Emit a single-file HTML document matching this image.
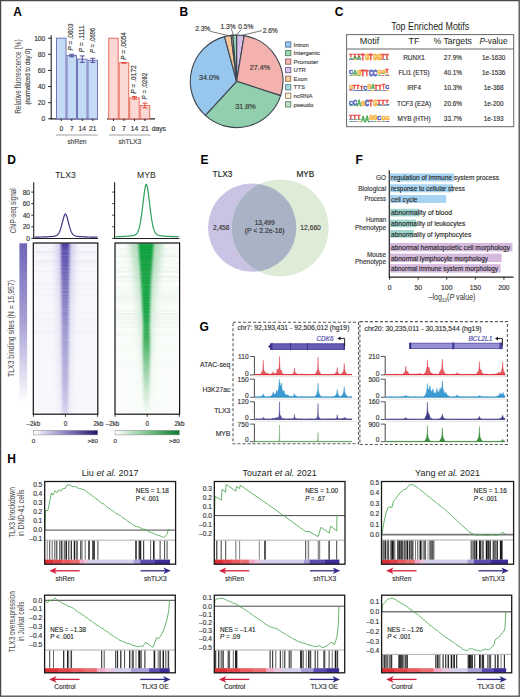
<!DOCTYPE html>
<html><head><meta charset="utf-8"><style>
html,body{margin:0;padding:0;background:#fff;width:520px;height:697px;overflow:hidden}
svg{display:block;font-family:"Liberation Sans", sans-serif}
</style></head><body>
<svg width="520" height="697" viewBox="0 0 520 697">
<rect width="520" height="697" fill="#fff"/>
<text x="13.3" y="16.4" font-size="12" text-anchor="start" fill="#000" font-weight="bold" font-style="normal">A</text>
<text x="179.5" y="16.4" font-size="12" text-anchor="start" fill="#000" font-weight="bold" font-style="normal">B</text>
<text x="334.8" y="16.4" font-size="12" text-anchor="start" fill="#000" font-weight="bold" font-style="normal">C</text>
<text x="7.2" y="164.3" font-size="12" text-anchor="start" fill="#000" font-weight="bold" font-style="normal">D</text>
<text x="200.5" y="163.8" font-size="12" text-anchor="start" fill="#000" font-weight="bold" font-style="normal">E</text>
<text x="355.5" y="163.8" font-size="12" text-anchor="start" fill="#000" font-weight="bold" font-style="normal">F</text>
<text x="199.6" y="331.3" font-size="12" text-anchor="start" fill="#000" font-weight="bold" font-style="normal">G</text>
<text x="7.2" y="463" font-size="12" text-anchor="start" fill="#000" font-weight="bold" font-style="normal">H</text>
<line x1="51.2" y1="35.2" x2="51.2" y2="119.2" stroke="#231f20" stroke-width="1.1"/>
<line x1="48.2" y1="118.8" x2="51.2" y2="118.8" stroke="#231f20" stroke-width="1"/>
<text x="45.3" y="121.2" font-size="6.7" text-anchor="end" fill="#333" font-weight="normal" font-style="normal" stroke="#333" stroke-width="0.15">0</text>
<line x1="48.2" y1="102.67999999999999" x2="51.2" y2="102.67999999999999" stroke="#231f20" stroke-width="1"/>
<text x="45.3" y="105.08" font-size="6.7" text-anchor="end" fill="#333" font-weight="normal" font-style="normal" stroke="#333" stroke-width="0.15">20</text>
<line x1="48.2" y1="86.56" x2="51.2" y2="86.56" stroke="#231f20" stroke-width="1"/>
<text x="45.3" y="88.96000000000001" font-size="6.7" text-anchor="end" fill="#333" font-weight="normal" font-style="normal" stroke="#333" stroke-width="0.15">40</text>
<line x1="48.2" y1="70.44" x2="51.2" y2="70.44" stroke="#231f20" stroke-width="1"/>
<text x="45.3" y="72.84" font-size="6.7" text-anchor="end" fill="#333" font-weight="normal" font-style="normal" stroke="#333" stroke-width="0.15">60</text>
<line x1="48.2" y1="54.31999999999999" x2="51.2" y2="54.31999999999999" stroke="#231f20" stroke-width="1"/>
<text x="45.3" y="56.71999999999999" font-size="6.7" text-anchor="end" fill="#333" font-weight="normal" font-style="normal" stroke="#333" stroke-width="0.15">80</text>
<line x1="48.2" y1="38.19999999999999" x2="51.2" y2="38.19999999999999" stroke="#231f20" stroke-width="1"/>
<text x="45.3" y="40.59999999999999" font-size="6.7" text-anchor="end" fill="#333" font-weight="normal" font-style="normal" stroke="#333" stroke-width="0.15">100</text>
<text x="21.2" y="76.6" font-size="9.0" text-anchor="middle" fill="#444" font-weight="normal" font-style="normal" transform="rotate(-90 21.2 76.6)" textLength="74.5" lengthAdjust="spacingAndGlyphs">Relative fluorescence (%)</text>
<text x="30.4" y="76.6" font-size="7.4" text-anchor="middle" fill="#444" font-weight="normal" font-style="normal" transform="rotate(-90 30.4 76.6)" textLength="56" lengthAdjust="spacingAndGlyphs" stroke="#444" stroke-width="0.15">(normalized to day 0)</text>
<line x1="50.6" y1="118.9" x2="98" y2="118.9" stroke="#231f20" stroke-width="1.3"/>
<line x1="107" y1="118.9" x2="155" y2="118.9" stroke="#231f20" stroke-width="1.3"/>
<rect x="56.5" y="38.19999999999999" width="9.5" height="80.60000000000001" fill="#c4dbf5" stroke="#7674bb" stroke-width="1.0"/>
<rect x="67.0" y="55.528999999999996" width="9.5" height="63.271" fill="#c4dbf5" stroke="#7674bb" stroke-width="1.0"/>
<line x1="71.75" y1="54.31999999999999" x2="71.75" y2="56.73799999999999" stroke="#4f4c99" stroke-width="1"/>
<line x1="69.25" y1="54.31999999999999" x2="74.25" y2="54.31999999999999" stroke="#4f4c99" stroke-width="1"/>
<line x1="69.25" y1="56.73799999999999" x2="74.25" y2="56.73799999999999" stroke="#4f4c99" stroke-width="1"/>
<rect x="77.5" y="59.15599999999999" width="9.5" height="59.644000000000005" fill="#c4dbf5" stroke="#7674bb" stroke-width="1.0"/>
<line x1="82.25" y1="55.931999999999995" x2="82.25" y2="62.379999999999995" stroke="#4f4c99" stroke-width="1"/>
<line x1="79.75" y1="55.931999999999995" x2="84.75" y2="55.931999999999995" stroke="#4f4c99" stroke-width="1"/>
<line x1="79.75" y1="62.379999999999995" x2="84.75" y2="62.379999999999995" stroke="#4f4c99" stroke-width="1"/>
<rect x="88.0" y="60.364999999999995" width="9.5" height="58.435" fill="#c4dbf5" stroke="#7674bb" stroke-width="1.0"/>
<line x1="92.75" y1="58.349999999999994" x2="92.75" y2="62.379999999999995" stroke="#4f4c99" stroke-width="1"/>
<line x1="90.25" y1="58.349999999999994" x2="95.25" y2="58.349999999999994" stroke="#4f4c99" stroke-width="1"/>
<line x1="90.25" y1="62.379999999999995" x2="95.25" y2="62.379999999999995" stroke="#4f4c99" stroke-width="1"/>
<rect x="108.7" y="38.19999999999999" width="9.5" height="80.60000000000001" fill="#fcd8d4" stroke="#ea7060" stroke-width="1.0"/>
<rect x="119.2" y="62.782999999999994" width="9.5" height="56.017" fill="#fcd8d4" stroke="#ea7060" stroke-width="1.0"/>
<line x1="123.95" y1="62.46059999999999" x2="123.95" y2="63.105399999999996" stroke="#d94a3a" stroke-width="1"/>
<line x1="121.45" y1="62.46059999999999" x2="126.45" y2="62.46059999999999" stroke="#d94a3a" stroke-width="1"/>
<line x1="121.45" y1="63.105399999999996" x2="126.45" y2="63.105399999999996" stroke="#d94a3a" stroke-width="1"/>
<rect x="129.7" y="97.844" width="9.5" height="20.956000000000003" fill="#fcd8d4" stroke="#ea7060" stroke-width="1.0"/>
<line x1="134.45" y1="96.63499999999999" x2="134.45" y2="99.053" stroke="#d94a3a" stroke-width="1"/>
<line x1="131.95" y1="96.63499999999999" x2="136.95" y2="96.63499999999999" stroke="#d94a3a" stroke-width="1"/>
<line x1="131.95" y1="99.053" x2="136.95" y2="99.053" stroke="#d94a3a" stroke-width="1"/>
<rect x="140.2" y="105.50099999999999" width="9.5" height="13.299000000000007" fill="#fcd8d4" stroke="#ea7060" stroke-width="1.0"/>
<line x1="144.95" y1="103.083" x2="144.95" y2="107.919" stroke="#d94a3a" stroke-width="1"/>
<line x1="142.45" y1="103.083" x2="147.45" y2="103.083" stroke="#d94a3a" stroke-width="1"/>
<line x1="142.45" y1="107.919" x2="147.45" y2="107.919" stroke="#d94a3a" stroke-width="1"/>
<line x1="61.25" y1="118.9" x2="61.25" y2="121" stroke="#231f20" stroke-width="1"/>
<line x1="113.45" y1="118.9" x2="113.45" y2="121" stroke="#231f20" stroke-width="1"/>
<line x1="71.75" y1="118.9" x2="71.75" y2="121" stroke="#231f20" stroke-width="1"/>
<line x1="123.95" y1="118.9" x2="123.95" y2="121" stroke="#231f20" stroke-width="1"/>
<line x1="82.25" y1="118.9" x2="82.25" y2="121" stroke="#231f20" stroke-width="1"/>
<line x1="134.45" y1="118.9" x2="134.45" y2="121" stroke="#231f20" stroke-width="1"/>
<line x1="92.75" y1="118.9" x2="92.75" y2="121" stroke="#231f20" stroke-width="1"/>
<line x1="144.95" y1="118.9" x2="144.95" y2="121" stroke="#231f20" stroke-width="1"/>
<text x="61.25" y="130.8" font-size="6.7" text-anchor="middle" fill="#333" font-weight="normal" font-style="normal" stroke="#333" stroke-width="0.15">0</text>
<text x="113.45" y="130.8" font-size="6.7" text-anchor="middle" fill="#333" font-weight="normal" font-style="normal" stroke="#333" stroke-width="0.15">0</text>
<text x="71.75" y="130.8" font-size="6.7" text-anchor="middle" fill="#333" font-weight="normal" font-style="normal" stroke="#333" stroke-width="0.15">7</text>
<text x="123.95" y="130.8" font-size="6.7" text-anchor="middle" fill="#333" font-weight="normal" font-style="normal" stroke="#333" stroke-width="0.15">7</text>
<text x="82.25" y="130.8" font-size="6.7" text-anchor="middle" fill="#333" font-weight="normal" font-style="normal" stroke="#333" stroke-width="0.15">14</text>
<text x="134.45" y="130.8" font-size="6.7" text-anchor="middle" fill="#333" font-weight="normal" font-style="normal" stroke="#333" stroke-width="0.15">14</text>
<text x="92.75" y="130.8" font-size="6.7" text-anchor="middle" fill="#333" font-weight="normal" font-style="normal" stroke="#333" stroke-width="0.15">21</text>
<text x="144.95" y="130.8" font-size="6.7" text-anchor="middle" fill="#333" font-weight="normal" font-style="normal" stroke="#333" stroke-width="0.15">21</text>
<text x="151.8" y="130.8" font-size="6.6" text-anchor="start" fill="#333" font-weight="normal" font-style="normal" stroke="#333" stroke-width="0.15">days</text>
<line x1="56" y1="135" x2="97.7" y2="135" stroke="#888" stroke-width="0.8"/>
<line x1="109" y1="135" x2="150.5" y2="135" stroke="#888" stroke-width="0.8"/>
<text x="77" y="143.8" font-size="6.6" text-anchor="middle" fill="#444" font-weight="normal" font-style="normal" stroke="#444" stroke-width="0.15">shRen</text>
<text x="129.8" y="143.8" font-size="6.6" text-anchor="middle" fill="#444" font-weight="normal" font-style="normal" stroke="#444" stroke-width="0.15">shTLX3</text>
<text transform="translate(73.4 50.5) rotate(-90)" font-size="6.9" fill="#333" textLength="27" lengthAdjust="spacingAndGlyphs" stroke="#333" stroke-width="0.15"><tspan font-style="italic">P</tspan> = .0603</text>
<text transform="translate(83.9 52.3) rotate(-90)" font-size="6.9" fill="#333" textLength="27" lengthAdjust="spacingAndGlyphs" stroke="#333" stroke-width="0.15"><tspan font-style="italic">P</tspan> = .1111</text>
<text transform="translate(94.5 52.9) rotate(-90)" font-size="6.9" fill="#333" textLength="25" lengthAdjust="spacingAndGlyphs" stroke="#333" stroke-width="0.15"><tspan font-style="italic">P</tspan> = .0696</text>
<text transform="translate(125.9 59.7) rotate(-90)" font-size="6.9" fill="#333" textLength="27.5" lengthAdjust="spacingAndGlyphs" stroke="#333" stroke-width="0.15"><tspan font-style="italic">P</tspan> = .0054</text>
<text transform="translate(136.29999999999998 93.7) rotate(-90)" font-size="6.9" fill="#333" textLength="28.5" lengthAdjust="spacingAndGlyphs" stroke="#333" stroke-width="0.15"><tspan font-style="italic">P</tspan> = .0172</text>
<text transform="translate(146.7 99.4) rotate(-90)" font-size="6.9" fill="#333" textLength="26.5" lengthAdjust="spacingAndGlyphs" stroke="#333" stroke-width="0.15"><tspan font-style="italic">P</tspan> = .0262</text>
<path d="M236.6,81.3 L236.60,35.00 A46.3,46.3 0 0 1 244.13,35.62 Z" fill="#d9bfe8" stroke="#3c4650" stroke-width="1.1" stroke-linejoin="round"/>
<path d="M236.6,81.3 L244.13,35.62 A46.3,46.3 0 0 1 280.63,95.61 Z" fill="#f4b2ae" stroke="#3c4650" stroke-width="1.1" stroke-linejoin="round"/>
<path d="M236.6,81.3 L280.63,95.61 A46.3,46.3 0 0 1 205.33,115.45 Z" fill="#92cfae" stroke="#3c4650" stroke-width="1.1" stroke-linejoin="round"/>
<path d="M236.6,81.3 L205.33,115.45 A46.3,46.3 0 0 1 224.52,36.60 Z" fill="#98c7ee" stroke="#3c4650" stroke-width="1.1" stroke-linejoin="round"/>
<path d="M236.6,81.3 L224.52,36.60 A46.3,46.3 0 0 1 231.09,35.33 Z" fill="#f7c79a" stroke="#3c4650" stroke-width="1.1" stroke-linejoin="round"/>
<path d="M236.6,81.3 L231.09,35.33 A46.3,46.3 0 0 1 232.82,35.15 Z" fill="#fcf0d2" stroke="#3c4650" stroke-width="1.1" stroke-linejoin="round"/>
<path d="M236.6,81.3 L232.82,35.15 A46.3,46.3 0 0 1 236.60,35.00 Z" fill="#92cfae" stroke="#3c4650" stroke-width="1.1" stroke-linejoin="round"/>
<text x="224.1" y="62.10000000000001" font-size="1" text-anchor="start" fill="#231f20" font-weight="normal" font-style="normal" stroke="#231f20" stroke-width="0.15"></text>
<text x="225.0" y="72.3" font-size="1" text-anchor="start" fill="#231f20" font-weight="normal" font-style="normal" stroke="#231f20" stroke-width="0.15"></text>
<text x="260.0" y="70.2" font-size="7.2" text-anchor="middle" fill="#333" font-weight="normal" font-style="normal" stroke="#333" stroke-width="0.15">27.4%</text>
<text x="209.3" y="80.3" font-size="7.2" text-anchor="middle" fill="#333" font-weight="normal" font-style="normal" stroke="#333" stroke-width="0.15">34.0%</text>
<text x="245.5" y="109.4" font-size="7.2" text-anchor="middle" fill="#333" font-weight="normal" font-style="normal" stroke="#333" stroke-width="0.15">31.8%</text>
<text x="202.7" y="31.2" font-size="6.6" text-anchor="middle" fill="#333" font-weight="normal" font-style="normal" stroke="#333" stroke-width="0.15">2.3%</text>
<text x="228.0" y="28.9" font-size="6.6" text-anchor="middle" fill="#333" font-weight="normal" font-style="normal" stroke="#333" stroke-width="0.15">1.3%</text>
<text x="245.8" y="28.9" font-size="6.6" text-anchor="middle" fill="#333" font-weight="normal" font-style="normal" stroke="#333" stroke-width="0.15">0.5%</text>
<text x="262.7" y="32.8" font-size="6.6" text-anchor="start" fill="#333" font-weight="normal" font-style="normal" stroke="#333" stroke-width="0.15">2.6%</text>
<line x1="209.6" y1="31.2" x2="228.5" y2="35.6" stroke="#555" stroke-width="0.8"/>
<line x1="231.4" y1="29.2" x2="233.6" y2="35.5" stroke="#555" stroke-width="0.8"/>
<line x1="241.2" y1="29.6" x2="235.9" y2="35.5" stroke="#555" stroke-width="0.8"/>
<line x1="262.0" y1="30.6" x2="241.5" y2="35.4" stroke="#555" stroke-width="0.8"/>
<rect x="285.6" y="41.9" width="5.2" height="5.2" fill="#9ecbf1" stroke="#4f6f9a" stroke-width="0.9"/>
<text x="293.6" y="46.7" font-size="6.0" text-anchor="start" fill="#444" font-weight="normal" font-style="normal" stroke="#444" stroke-width="0.15">Intron</text>
<rect x="285.6" y="50.449999999999996" width="5.2" height="5.2" fill="#a3d8b3" stroke="#4f7f60" stroke-width="0.9"/>
<text x="293.6" y="55.25" font-size="6.0" text-anchor="start" fill="#444" font-weight="normal" font-style="normal" stroke="#444" stroke-width="0.15">Intergenic</text>
<rect x="285.6" y="59.0" width="5.2" height="5.2" fill="#f6b8b3" stroke="#8f5f5f" stroke-width="0.9"/>
<text x="293.6" y="63.800000000000004" font-size="6.0" text-anchor="start" fill="#444" font-weight="normal" font-style="normal" stroke="#444" stroke-width="0.15">Promoter</text>
<rect x="285.6" y="67.55000000000001" width="5.2" height="5.2" fill="#dcc3ea" stroke="#6f5f8a" stroke-width="0.9"/>
<text x="293.6" y="72.35000000000001" font-size="6.0" text-anchor="start" fill="#444" font-weight="normal" font-style="normal" stroke="#444" stroke-width="0.15">UTR</text>
<rect x="285.6" y="76.10000000000001" width="5.2" height="5.2" fill="#f8cba0" stroke="#8f7050" stroke-width="0.9"/>
<text x="293.6" y="80.9" font-size="6.0" text-anchor="start" fill="#444" font-weight="normal" font-style="normal" stroke="#444" stroke-width="0.15">Exon</text>
<rect x="285.6" y="84.65" width="5.2" height="5.2" fill="#a9dbe0" stroke="#4f7f85" stroke-width="0.9"/>
<text x="293.6" y="89.45" font-size="6.0" text-anchor="start" fill="#444" font-weight="normal" font-style="normal" stroke="#444" stroke-width="0.15">TTS</text>
<rect x="285.6" y="93.20000000000002" width="5.2" height="5.2" fill="#fdf1d6" stroke="#8f8060" stroke-width="0.9"/>
<text x="293.6" y="98.00000000000001" font-size="6.0" text-anchor="start" fill="#444" font-weight="normal" font-style="normal" stroke="#444" stroke-width="0.15">ncRNA</text>
<rect x="285.6" y="101.75000000000001" width="5.2" height="5.2" fill="#bfe3c8" stroke="#5f7f65" stroke-width="0.9"/>
<text x="293.6" y="106.55000000000001" font-size="6.0" text-anchor="start" fill="#444" font-weight="normal" font-style="normal" stroke="#444" stroke-width="0.15">pseudo</text>
<text x="430.2" y="29.8" font-size="10.0" text-anchor="middle" fill="#231f20" font-weight="normal" font-style="normal" textLength="78" lengthAdjust="spacingAndGlyphs">Top Enriched Motifs</text>
<rect x="346.6" y="34.6" width="167.1" height="92.1" fill="none" stroke="#666" stroke-width="1.0"/>
<line x1="346.6" y1="49.0" x2="513.7" y2="49.0" stroke="#666" stroke-width="1.0"/>
<text x="369.6" y="44.2" font-size="9" text-anchor="middle" fill="#231f20" font-weight="normal" font-style="normal">Motif</text>
<text x="414.0" y="44.2" font-size="9" text-anchor="middle" fill="#231f20" font-weight="normal" font-style="normal">TF</text>
<text x="452.7" y="44.2" font-size="9" text-anchor="middle" fill="#231f20" font-weight="normal" font-style="normal" textLength="38.5" lengthAdjust="spacingAndGlyphs">% Targets</text>
<text x="493.5" y="44.2" font-size="9" text-anchor="middle" fill="#231f20" textLength="28" lengthAdjust="spacingAndGlyphs"><tspan font-style="italic">P</tspan>-value</text>
<text x="414.1" y="59.7" font-size="6.4" text-anchor="middle" fill="#333" font-weight="normal" font-style="normal" stroke="#333" stroke-width="0.15">RUNX1</text>
<text x="452.9" y="59.7" font-size="6.4" text-anchor="middle" fill="#333" font-weight="normal" font-style="normal" stroke="#333" stroke-width="0.15">27.9%</text>
<text x="493.7" y="59.7" font-size="6.4" text-anchor="middle" fill="#333" font-weight="normal" font-style="normal" stroke="#333" stroke-width="0.15">1e-1630</text>
<text transform="translate(349.00 60.40) scale(0.574 0.205)" font-size="10" font-weight="bold" fill="#2d3fb0" stroke="#2d3fb0" stroke-width="0.9" opacity="0.82">C</text>
<text transform="translate(349.00 58.90) scale(0.574 0.247)" font-size="10" font-weight="bold" fill="#2f9e3f" stroke="#2f9e3f" stroke-width="0.9" opacity="0.82">A</text>
<text transform="translate(349.00 57.10) scale(0.574 0.356)" font-size="10" font-weight="bold" fill="#e1261c" stroke="#e1261c" stroke-width="0.9" opacity="0.82">T</text>
<text transform="translate(353.02 60.40) scale(0.574 0.164)" font-size="10" font-weight="bold" fill="#f2a21c" stroke="#f2a21c" stroke-width="0.9" opacity="0.82">G</text>
<text transform="translate(353.02 59.20) scale(0.574 0.274)" font-size="10" font-weight="bold" fill="#2f9e3f" stroke="#2f9e3f" stroke-width="0.9" opacity="0.82">A</text>
<text transform="translate(353.02 57.20) scale(0.574 0.384)" font-size="10" font-weight="bold" fill="#e1261c" stroke="#e1261c" stroke-width="0.9" opacity="0.82">T</text>
<text transform="translate(357.04 60.40) scale(0.574 0.137)" font-size="10" font-weight="bold" fill="#2d3fb0" stroke="#2d3fb0" stroke-width="0.9" opacity="0.82">C</text>
<text transform="translate(357.04 59.40) scale(0.574 0.301)" font-size="10" font-weight="bold" fill="#2f9e3f" stroke="#2f9e3f" stroke-width="0.9" opacity="0.82">A</text>
<text transform="translate(357.04 57.20) scale(0.574 0.411)" font-size="10" font-weight="bold" fill="#e1261c" stroke="#e1261c" stroke-width="0.9" opacity="0.82">T</text>
<text transform="translate(361.06 60.40) scale(0.574 0.932)" font-size="10" font-weight="bold" fill="#e1261c" stroke="#e1261c" stroke-width="0.9" opacity="0.82">T</text>
<text transform="translate(365.08 60.40) scale(0.574 0.904)" font-size="10" font-weight="bold" fill="#f2a21c" stroke="#f2a21c" stroke-width="0.9" opacity="0.82">G</text>
<text transform="translate(369.10 60.40) scale(0.574 0.932)" font-size="10" font-weight="bold" fill="#e1261c" stroke="#e1261c" stroke-width="0.9" opacity="0.82">T</text>
<text transform="translate(373.12 60.40) scale(0.574 0.904)" font-size="10" font-weight="bold" fill="#f2a21c" stroke="#f2a21c" stroke-width="0.9" opacity="0.82">G</text>
<text transform="translate(377.14 60.40) scale(0.574 0.877)" font-size="10" font-weight="bold" fill="#f2a21c" stroke="#f2a21c" stroke-width="0.9" opacity="0.82">G</text>
<text transform="translate(381.16 60.40) scale(0.574 0.164)" font-size="10" font-weight="bold" fill="#2d3fb0" stroke="#2d3fb0" stroke-width="0.9" opacity="0.82">C</text>
<text transform="translate(381.16 59.20) scale(0.574 0.740)" font-size="10" font-weight="bold" fill="#e1261c" stroke="#e1261c" stroke-width="0.9" opacity="0.82">T</text>
<text transform="translate(385.18 60.40) scale(0.574 0.192)" font-size="10" font-weight="bold" fill="#2f9e3f" stroke="#2f9e3f" stroke-width="0.9" opacity="0.82">A</text>
<text transform="translate(385.18 59.00) scale(0.574 0.712)" font-size="10" font-weight="bold" fill="#e1261c" stroke="#e1261c" stroke-width="0.9" opacity="0.82">T</text>
<text x="414.1" y="75.0" font-size="6.4" text-anchor="middle" fill="#333" font-weight="normal" font-style="normal" stroke="#333" stroke-width="0.15">FLI1 (ETS)</text>
<text x="452.9" y="75.0" font-size="6.4" text-anchor="middle" fill="#333" font-weight="normal" font-style="normal" stroke="#333" stroke-width="0.15">40.1%</text>
<text x="493.7" y="75.0" font-size="6.4" text-anchor="middle" fill="#333" font-weight="normal" font-style="normal" stroke="#333" stroke-width="0.15">1e-1536</text>
<text transform="translate(349.00 75.70) scale(0.574 0.205)" font-size="10" font-weight="bold" fill="#2f9e3f" stroke="#2f9e3f" stroke-width="0.9" opacity="0.82">A</text>
<text transform="translate(349.00 74.20) scale(0.574 0.521)" font-size="10" font-weight="bold" fill="#2d3fb0" stroke="#2d3fb0" stroke-width="0.9" opacity="0.82">C</text>
<text transform="translate(353.02 75.70) scale(0.574 0.164)" font-size="10" font-weight="bold" fill="#f2a21c" stroke="#f2a21c" stroke-width="0.9" opacity="0.82">G</text>
<text transform="translate(353.02 74.50) scale(0.574 0.630)" font-size="10" font-weight="bold" fill="#2f9e3f" stroke="#2f9e3f" stroke-width="0.9" opacity="0.82">A</text>
<text transform="translate(357.04 75.70) scale(0.574 0.137)" font-size="10" font-weight="bold" fill="#2f9e3f" stroke="#2f9e3f" stroke-width="0.9" opacity="0.82">A</text>
<text transform="translate(357.04 74.70) scale(0.574 0.767)" font-size="10" font-weight="bold" fill="#f2a21c" stroke="#f2a21c" stroke-width="0.9" opacity="0.82">G</text>
<text transform="translate(361.06 75.70) scale(0.574 0.849)" font-size="10" font-weight="bold" fill="#e1261c" stroke="#e1261c" stroke-width="0.9" opacity="0.82">T</text>
<text transform="translate(365.08 75.70) scale(0.574 0.822)" font-size="10" font-weight="bold" fill="#e1261c" stroke="#e1261c" stroke-width="0.9" opacity="0.82">T</text>
<text transform="translate(369.10 75.70) scale(0.574 0.904)" font-size="10" font-weight="bold" fill="#2d3fb0" stroke="#2d3fb0" stroke-width="0.9" opacity="0.82">C</text>
<text transform="translate(373.12 75.70) scale(0.574 0.877)" font-size="10" font-weight="bold" fill="#2d3fb0" stroke="#2d3fb0" stroke-width="0.9" opacity="0.82">C</text>
<text transform="translate(377.14 75.70) scale(0.574 0.247)" font-size="10" font-weight="bold" fill="#2f9e3f" stroke="#2f9e3f" stroke-width="0.9" opacity="0.82">A</text>
<text transform="translate(377.14 73.90) scale(0.574 0.603)" font-size="10" font-weight="bold" fill="#f2a21c" stroke="#f2a21c" stroke-width="0.9" opacity="0.82">G</text>
<text transform="translate(381.16 75.70) scale(0.574 0.192)" font-size="10" font-weight="bold" fill="#e1261c" stroke="#e1261c" stroke-width="0.9" opacity="0.82">T</text>
<text transform="translate(381.16 74.30) scale(0.574 0.219)" font-size="10" font-weight="bold" fill="#2f9e3f" stroke="#2f9e3f" stroke-width="0.9" opacity="0.82">A</text>
<text transform="translate(381.16 72.70) scale(0.574 0.438)" font-size="10" font-weight="bold" fill="#f2a21c" stroke="#f2a21c" stroke-width="0.9" opacity="0.82">G</text>
<text transform="translate(385.18 75.70) scale(0.574 0.164)" font-size="10" font-weight="bold" fill="#2d3fb0" stroke="#2d3fb0" stroke-width="0.9" opacity="0.82">C</text>
<text transform="translate(385.18 74.50) scale(0.574 0.192)" font-size="10" font-weight="bold" fill="#f2a21c" stroke="#f2a21c" stroke-width="0.9" opacity="0.82">G</text>
<text transform="translate(385.18 73.10) scale(0.574 0.466)" font-size="10" font-weight="bold" fill="#e1261c" stroke="#e1261c" stroke-width="0.9" opacity="0.82">T</text>
<text x="414.1" y="90.30000000000001" font-size="6.4" text-anchor="middle" fill="#333" font-weight="normal" font-style="normal" stroke="#333" stroke-width="0.15">IRF4</text>
<text x="452.9" y="90.30000000000001" font-size="6.4" text-anchor="middle" fill="#333" font-weight="normal" font-style="normal" stroke="#333" stroke-width="0.15">10.3%</text>
<text x="493.7" y="90.30000000000001" font-size="6.4" text-anchor="middle" fill="#333" font-weight="normal" font-style="normal" stroke="#333" stroke-width="0.15">1e-368</text>
<text transform="translate(349.00 91.00) scale(0.522 0.137)" font-size="10" font-weight="bold" fill="#e1261c" stroke="#e1261c" stroke-width="0.9" opacity="0.82">T</text>
<text transform="translate(349.00 90.00) scale(0.522 0.192)" font-size="10" font-weight="bold" fill="#2d3fb0" stroke="#2d3fb0" stroke-width="0.9" opacity="0.82">C</text>
<text transform="translate(349.00 88.60) scale(0.522 0.466)" font-size="10" font-weight="bold" fill="#f2a21c" stroke="#f2a21c" stroke-width="0.9" opacity="0.82">G</text>
<text transform="translate(352.65 91.00) scale(0.522 0.219)" font-size="10" font-weight="bold" fill="#2d3fb0" stroke="#2d3fb0" stroke-width="0.9" opacity="0.82">C</text>
<text transform="translate(352.65 89.40) scale(0.522 0.603)" font-size="10" font-weight="bold" fill="#e1261c" stroke="#e1261c" stroke-width="0.9" opacity="0.82">T</text>
<text transform="translate(356.31 91.00) scale(0.522 0.247)" font-size="10" font-weight="bold" fill="#2d3fb0" stroke="#2d3fb0" stroke-width="0.9" opacity="0.82">C</text>
<text transform="translate(356.31 89.20) scale(0.522 0.548)" font-size="10" font-weight="bold" fill="#e1261c" stroke="#e1261c" stroke-width="0.9" opacity="0.82">T</text>
<text transform="translate(359.96 91.00) scale(0.522 0.192)" font-size="10" font-weight="bold" fill="#2d3fb0" stroke="#2d3fb0" stroke-width="0.9" opacity="0.82">C</text>
<text transform="translate(359.96 89.60) scale(0.522 0.521)" font-size="10" font-weight="bold" fill="#e1261c" stroke="#e1261c" stroke-width="0.9" opacity="0.82">T</text>
<text transform="translate(363.62 91.00) scale(0.522 0.164)" font-size="10" font-weight="bold" fill="#2f9e3f" stroke="#2f9e3f" stroke-width="0.9" opacity="0.82">A</text>
<text transform="translate(363.62 89.80) scale(0.522 0.493)" font-size="10" font-weight="bold" fill="#2d3fb0" stroke="#2d3fb0" stroke-width="0.9" opacity="0.82">C</text>
<text transform="translate(367.27 91.00) scale(0.522 0.247)" font-size="10" font-weight="bold" fill="#2d3fb0" stroke="#2d3fb0" stroke-width="0.9" opacity="0.82">C</text>
<text transform="translate(367.27 89.20) scale(0.522 0.630)" font-size="10" font-weight="bold" fill="#f2a21c" stroke="#f2a21c" stroke-width="0.9" opacity="0.82">G</text>
<text transform="translate(370.93 91.00) scale(0.522 0.219)" font-size="10" font-weight="bold" fill="#f2a21c" stroke="#f2a21c" stroke-width="0.9" opacity="0.82">G</text>
<text transform="translate(370.93 89.40) scale(0.522 0.630)" font-size="10" font-weight="bold" fill="#2f9e3f" stroke="#2f9e3f" stroke-width="0.9" opacity="0.82">A</text>
<text transform="translate(374.58 91.00) scale(0.522 0.192)" font-size="10" font-weight="bold" fill="#2d3fb0" stroke="#2d3fb0" stroke-width="0.9" opacity="0.82">C</text>
<text transform="translate(374.58 89.60) scale(0.522 0.658)" font-size="10" font-weight="bold" fill="#e1261c" stroke="#e1261c" stroke-width="0.9" opacity="0.82">T</text>
<text transform="translate(378.24 91.00) scale(0.522 0.192)" font-size="10" font-weight="bold" fill="#2f9e3f" stroke="#2f9e3f" stroke-width="0.9" opacity="0.82">A</text>
<text transform="translate(378.24 89.60) scale(0.522 0.685)" font-size="10" font-weight="bold" fill="#e1261c" stroke="#e1261c" stroke-width="0.9" opacity="0.82">T</text>
<text transform="translate(381.89 91.00) scale(0.522 0.219)" font-size="10" font-weight="bold" fill="#2d3fb0" stroke="#2d3fb0" stroke-width="0.9" opacity="0.82">C</text>
<text transform="translate(381.89 89.40) scale(0.522 0.630)" font-size="10" font-weight="bold" fill="#e1261c" stroke="#e1261c" stroke-width="0.9" opacity="0.82">T</text>
<text transform="translate(385.55 91.00) scale(0.522 0.219)" font-size="10" font-weight="bold" fill="#f2a21c" stroke="#f2a21c" stroke-width="0.9" opacity="0.82">G</text>
<text transform="translate(385.55 89.40) scale(0.522 0.603)" font-size="10" font-weight="bold" fill="#2d3fb0" stroke="#2d3fb0" stroke-width="0.9" opacity="0.82">C</text>
<text x="414.1" y="105.60000000000001" font-size="6.4" text-anchor="middle" fill="#333" font-weight="normal" font-style="normal" stroke="#333" stroke-width="0.15">TCF3 (E2A)</text>
<text x="452.9" y="105.60000000000001" font-size="6.4" text-anchor="middle" fill="#333" font-weight="normal" font-style="normal" stroke="#333" stroke-width="0.15">20.6%</text>
<text x="493.7" y="105.60000000000001" font-size="6.4" text-anchor="middle" fill="#333" font-weight="normal" font-style="normal" stroke="#333" stroke-width="0.15">1e-200</text>
<text transform="translate(349.00 106.30) scale(0.574 0.192)" font-size="10" font-weight="bold" fill="#2f9e3f" stroke="#2f9e3f" stroke-width="0.9" opacity="0.82">A</text>
<text transform="translate(349.00 104.90) scale(0.574 0.575)" font-size="10" font-weight="bold" fill="#2d3fb0" stroke="#2d3fb0" stroke-width="0.9" opacity="0.82">C</text>
<text transform="translate(353.02 106.30) scale(0.574 0.164)" font-size="10" font-weight="bold" fill="#2f9e3f" stroke="#2f9e3f" stroke-width="0.9" opacity="0.82">A</text>
<text transform="translate(353.02 105.10) scale(0.574 0.712)" font-size="10" font-weight="bold" fill="#2d3fb0" stroke="#2d3fb0" stroke-width="0.9" opacity="0.82">C</text>
<text transform="translate(357.04 106.30) scale(0.574 0.849)" font-size="10" font-weight="bold" fill="#2f9e3f" stroke="#2f9e3f" stroke-width="0.9" opacity="0.82">A</text>
<text transform="translate(361.06 106.30) scale(0.574 0.795)" font-size="10" font-weight="bold" fill="#f2a21c" stroke="#f2a21c" stroke-width="0.9" opacity="0.82">G</text>
<text transform="translate(365.08 106.30) scale(0.574 0.877)" font-size="10" font-weight="bold" fill="#2d3fb0" stroke="#2d3fb0" stroke-width="0.9" opacity="0.82">C</text>
<text transform="translate(369.10 106.30) scale(0.574 0.877)" font-size="10" font-weight="bold" fill="#e1261c" stroke="#e1261c" stroke-width="0.9" opacity="0.82">T</text>
<text transform="translate(373.12 106.30) scale(0.574 0.849)" font-size="10" font-weight="bold" fill="#f2a21c" stroke="#f2a21c" stroke-width="0.9" opacity="0.82">G</text>
<text transform="translate(377.14 106.30) scale(0.574 0.192)" font-size="10" font-weight="bold" fill="#2f9e3f" stroke="#2f9e3f" stroke-width="0.9" opacity="0.82">A</text>
<text transform="translate(377.14 104.90) scale(0.574 0.192)" font-size="10" font-weight="bold" fill="#2d3fb0" stroke="#2d3fb0" stroke-width="0.9" opacity="0.82">C</text>
<text transform="translate(377.14 103.50) scale(0.574 0.521)" font-size="10" font-weight="bold" fill="#e1261c" stroke="#e1261c" stroke-width="0.9" opacity="0.82">T</text>
<text transform="translate(381.16 106.30) scale(0.574 0.164)" font-size="10" font-weight="bold" fill="#2d3fb0" stroke="#2d3fb0" stroke-width="0.9" opacity="0.82">C</text>
<text transform="translate(381.16 105.10) scale(0.574 0.219)" font-size="10" font-weight="bold" fill="#f2a21c" stroke="#f2a21c" stroke-width="0.9" opacity="0.82">G</text>
<text transform="translate(381.16 103.50) scale(0.574 0.493)" font-size="10" font-weight="bold" fill="#e1261c" stroke="#e1261c" stroke-width="0.9" opacity="0.82">T</text>
<text transform="translate(385.18 106.30) scale(0.574 0.192)" font-size="10" font-weight="bold" fill="#2f9e3f" stroke="#2f9e3f" stroke-width="0.9" opacity="0.82">A</text>
<text transform="translate(385.18 104.90) scale(0.574 0.219)" font-size="10" font-weight="bold" fill="#2d3fb0" stroke="#2d3fb0" stroke-width="0.9" opacity="0.82">C</text>
<text transform="translate(385.18 103.30) scale(0.574 0.411)" font-size="10" font-weight="bold" fill="#e1261c" stroke="#e1261c" stroke-width="0.9" opacity="0.82">T</text>
<text x="414.1" y="120.9" font-size="6.4" text-anchor="middle" fill="#333" font-weight="normal" font-style="normal" stroke="#333" stroke-width="0.15">MYB (HTH)</text>
<text x="452.9" y="120.9" font-size="6.4" text-anchor="middle" fill="#333" font-weight="normal" font-style="normal" stroke="#333" stroke-width="0.15">33.7%</text>
<text x="493.7" y="120.9" font-size="6.4" text-anchor="middle" fill="#333" font-weight="normal" font-style="normal" stroke="#333" stroke-width="0.15">1e-193</text>
<text transform="translate(349.00 121.60) scale(0.574 0.219)" font-size="10" font-weight="bold" fill="#2f9e3f" stroke="#2f9e3f" stroke-width="0.9" opacity="0.82">A</text>
<text transform="translate(349.00 120.00) scale(0.574 0.164)" font-size="10" font-weight="bold" fill="#2d3fb0" stroke="#2d3fb0" stroke-width="0.9" opacity="0.82">C</text>
<text transform="translate(349.00 118.80) scale(0.574 0.466)" font-size="10" font-weight="bold" fill="#e1261c" stroke="#e1261c" stroke-width="0.9" opacity="0.82">T</text>
<text transform="translate(353.02 121.60) scale(0.574 0.164)" font-size="10" font-weight="bold" fill="#2d3fb0" stroke="#2d3fb0" stroke-width="0.9" opacity="0.82">C</text>
<text transform="translate(353.02 120.40) scale(0.574 0.192)" font-size="10" font-weight="bold" fill="#2f9e3f" stroke="#2f9e3f" stroke-width="0.9" opacity="0.82">A</text>
<text transform="translate(353.02 119.00) scale(0.574 0.521)" font-size="10" font-weight="bold" fill="#e1261c" stroke="#e1261c" stroke-width="0.9" opacity="0.82">T</text>
<text transform="translate(357.04 121.60) scale(0.574 0.192)" font-size="10" font-weight="bold" fill="#f2a21c" stroke="#f2a21c" stroke-width="0.9" opacity="0.82">G</text>
<text transform="translate(357.04 120.20) scale(0.574 0.219)" font-size="10" font-weight="bold" fill="#2f9e3f" stroke="#2f9e3f" stroke-width="0.9" opacity="0.82">A</text>
<text transform="translate(357.04 118.60) scale(0.574 0.466)" font-size="10" font-weight="bold" fill="#e1261c" stroke="#e1261c" stroke-width="0.9" opacity="0.82">T</text>
<text transform="translate(361.06 121.60) scale(0.574 0.822)" font-size="10" font-weight="bold" fill="#2f9e3f" stroke="#2f9e3f" stroke-width="0.9" opacity="0.82">A</text>
<text transform="translate(365.08 121.60) scale(0.574 0.849)" font-size="10" font-weight="bold" fill="#2f9e3f" stroke="#2f9e3f" stroke-width="0.9" opacity="0.82">A</text>
<text transform="translate(369.10 121.60) scale(0.574 0.247)" font-size="10" font-weight="bold" fill="#2d3fb0" stroke="#2d3fb0" stroke-width="0.9" opacity="0.82">C</text>
<text transform="translate(369.10 119.80) scale(0.574 0.630)" font-size="10" font-weight="bold" fill="#f2a21c" stroke="#f2a21c" stroke-width="0.9" opacity="0.82">G</text>
<text transform="translate(373.12 121.60) scale(0.574 0.192)" font-size="10" font-weight="bold" fill="#2f9e3f" stroke="#2f9e3f" stroke-width="0.9" opacity="0.82">A</text>
<text transform="translate(373.12 120.20) scale(0.574 0.658)" font-size="10" font-weight="bold" fill="#f2a21c" stroke="#f2a21c" stroke-width="0.9" opacity="0.82">G</text>
<text transform="translate(377.14 121.60) scale(0.574 0.219)" font-size="10" font-weight="bold" fill="#e1261c" stroke="#e1261c" stroke-width="0.9" opacity="0.82">T</text>
<text transform="translate(377.14 120.00) scale(0.574 0.575)" font-size="10" font-weight="bold" fill="#2d3fb0" stroke="#2d3fb0" stroke-width="0.9" opacity="0.82">C</text>
<text transform="translate(381.16 121.60) scale(0.574 0.247)" font-size="10" font-weight="bold" fill="#2f9e3f" stroke="#2f9e3f" stroke-width="0.9" opacity="0.82">A</text>
<text transform="translate(381.16 119.80) scale(0.574 0.548)" font-size="10" font-weight="bold" fill="#f2a21c" stroke="#f2a21c" stroke-width="0.9" opacity="0.82">G</text>
<text transform="translate(385.18 121.60) scale(0.574 0.219)" font-size="10" font-weight="bold" fill="#2d3fb0" stroke="#2d3fb0" stroke-width="0.9" opacity="0.82">C</text>
<text transform="translate(385.18 120.00) scale(0.574 0.575)" font-size="10" font-weight="bold" fill="#f2a21c" stroke="#f2a21c" stroke-width="0.9" opacity="0.82">G</text>
<defs>
<filter id="blurH" x="-50%" y="-5%" width="200%" height="110%"><feGaussianBlur stdDeviation="1.6 0.3"/></filter>
<filter id="blurH2" x="-50%" y="-5%" width="200%" height="110%"><feGaussianBlur stdDeviation="3.5 0.3"/></filter>
<linearGradient id="tlxband" x1="0" y1="0" x2="0" y2="1">
<stop offset="0" stop-color="#3f2f9f"/><stop offset="0.35" stop-color="#6a5cb8"/><stop offset="0.75" stop-color="#a59fd6"/><stop offset="1" stop-color="#dcdaf0"/></linearGradient>
<linearGradient id="tlxbg" x1="0" y1="0" x2="0" y2="1">
<stop offset="0" stop-color="#ececf8"/><stop offset="1" stop-color="#f7f7fc"/></linearGradient>
<linearGradient id="mybbg" x1="0" y1="0" x2="0" y2="1">
<stop offset="0" stop-color="#dcefdf"/><stop offset="0.5" stop-color="#eef7ef"/><stop offset="1" stop-color="#fbfdfb"/></linearGradient>
<linearGradient id="sidebar" x1="0" y1="0" x2="0" y2="1">
<stop offset="0" stop-color="#6e66b8"/><stop offset="0.5" stop-color="#a9a3d6"/><stop offset="1" stop-color="#ffffff"/></linearGradient>
<linearGradient id="cbP" x1="0" y1="0" x2="1" y2="0">
<stop offset="0" stop-color="#ffffff"/><stop offset="0.5" stop-color="#8c85c4"/><stop offset="1" stop-color="#24146a"/></linearGradient>
<linearGradient id="cbG" x1="0" y1="0" x2="1" y2="0">
<stop offset="0" stop-color="#ffffff"/><stop offset="0.5" stop-color="#7cc58c"/><stop offset="1" stop-color="#0b7a2c"/></linearGradient>
<clipPath id="hmT"><rect x="33.5" y="243.3" width="64" height="170.6"/></clipPath>
<clipPath id="hmM"><rect x="115.2" y="243.3" width="64.1" height="170.6"/></clipPath>
</defs>
<text x="65.4" y="178.0" font-size="8.6" text-anchor="middle" fill="#231f20" font-weight="normal" font-style="normal">TLX3</text>
<text x="146.3" y="178.0" font-size="8.6" text-anchor="middle" fill="#231f20" font-weight="normal" font-style="normal">MYB</text>
<line x1="33.7" y1="182.3" x2="33.7" y2="238.8" stroke="#231f20" stroke-width="1.1"/>
<line x1="33.2" y1="238.5" x2="98.0" y2="238.5" stroke="#231f20" stroke-width="1.1"/>
<line x1="114.6" y1="182.3" x2="114.6" y2="238.8" stroke="#231f20" stroke-width="1.1"/>
<line x1="114.1" y1="238.5" x2="179.3" y2="238.5" stroke="#231f20" stroke-width="1.1"/>
<line x1="31.3" y1="238.3" x2="33.7" y2="238.3" stroke="#231f20" stroke-width="0.9"/>
<line x1="112.2" y1="238.3" x2="114.6" y2="238.3" stroke="#231f20" stroke-width="0.9"/>
<text x="30.0" y="240.70000000000002" font-size="6.6" text-anchor="end" fill="#333" font-weight="normal" font-style="normal" stroke="#333" stroke-width="0.15">0</text>
<line x1="31.3" y1="226.75" x2="33.7" y2="226.75" stroke="#231f20" stroke-width="0.9"/>
<line x1="112.2" y1="226.75" x2="114.6" y2="226.75" stroke="#231f20" stroke-width="0.9"/>
<text x="30.0" y="229.15" font-size="6.6" text-anchor="end" fill="#333" font-weight="normal" font-style="normal" stroke="#333" stroke-width="0.15">20</text>
<line x1="31.3" y1="215.20000000000002" x2="33.7" y2="215.20000000000002" stroke="#231f20" stroke-width="0.9"/>
<line x1="112.2" y1="215.20000000000002" x2="114.6" y2="215.20000000000002" stroke="#231f20" stroke-width="0.9"/>
<text x="30.0" y="217.60000000000002" font-size="6.6" text-anchor="end" fill="#333" font-weight="normal" font-style="normal" stroke="#333" stroke-width="0.15">40</text>
<line x1="31.3" y1="203.65" x2="33.7" y2="203.65" stroke="#231f20" stroke-width="0.9"/>
<line x1="112.2" y1="203.65" x2="114.6" y2="203.65" stroke="#231f20" stroke-width="0.9"/>
<text x="30.0" y="206.05" font-size="6.6" text-anchor="end" fill="#333" font-weight="normal" font-style="normal" stroke="#333" stroke-width="0.15">60</text>
<line x1="31.3" y1="192.10000000000002" x2="33.7" y2="192.10000000000002" stroke="#231f20" stroke-width="0.9"/>
<line x1="112.2" y1="192.10000000000002" x2="114.6" y2="192.10000000000002" stroke="#231f20" stroke-width="0.9"/>
<text x="30.0" y="194.50000000000003" font-size="6.6" text-anchor="end" fill="#333" font-weight="normal" font-style="normal" stroke="#333" stroke-width="0.15">80</text>
<text x="15.6" y="210.8" font-size="9.0" text-anchor="middle" fill="#444" font-weight="normal" font-style="normal" transform="rotate(-90 15.6 210.8)" textLength="45" lengthAdjust="spacingAndGlyphs">ChIP-seq signal</text>
<path d="M34.50,237.16 L35.02,237.15 L35.55,237.14 L36.08,237.13 L36.60,237.12 L37.12,237.11 L37.65,237.10 L38.17,237.09 L38.70,237.08 L39.23,237.07 L39.75,237.06 L40.27,237.04 L40.80,237.03 L41.33,237.02 L41.85,237.00 L42.38,236.99 L42.90,236.97 L43.42,236.95 L43.95,236.94 L44.48,236.92 L45.00,236.90 L45.52,236.88 L46.05,236.86 L46.58,236.84 L47.10,236.81 L47.62,236.79 L48.15,236.76 L48.67,236.73 L49.20,236.70 L49.73,236.67 L50.25,236.64 L50.77,236.60 L51.30,236.56 L51.83,236.52 L52.35,236.47 L52.88,236.42 L53.40,236.36 L53.92,236.28 L54.45,236.19 L54.98,236.08 L55.50,235.93 L56.02,235.74 L56.55,235.49 L57.08,235.16 L57.60,234.71 L58.12,234.14 L58.65,233.40 L59.17,232.48 L59.70,231.35 L60.23,230.00 L60.75,228.42 L61.27,226.65 L61.80,224.71 L62.33,222.65 L62.85,220.57 L63.38,218.55 L63.90,216.74 L64.42,215.28 L64.95,214.34 L65.47,214.06 L66.00,214.55 L66.53,215.65 L67.05,217.23 L67.58,219.11 L68.10,221.16 L68.62,223.25 L69.15,225.28 L69.67,227.18 L70.20,228.90 L70.72,230.41 L71.25,231.69 L71.78,232.76 L72.30,233.63 L72.83,234.32 L73.35,234.85 L73.88,235.26 L74.40,235.57 L74.92,235.80 L75.45,235.98 L75.97,236.12 L76.50,236.22 L77.03,236.31 L77.55,236.38 L78.08,236.43 L78.60,236.49 L79.12,236.53 L79.65,236.57 L80.17,236.61 L80.70,236.65 L81.22,236.68 L81.75,236.71 L82.28,236.74 L82.80,236.77 L83.33,236.80 L83.85,236.82 L84.38,236.84 L84.90,236.87 L85.42,236.89 L85.95,236.91 L86.47,236.92 L87.00,236.94 L87.53,236.96 L88.05,236.98 L88.58,236.99 L89.10,237.01 L89.62,237.02 L90.15,237.03 L90.67,237.05 L91.20,237.06 L91.72,237.07 L92.25,237.08 L92.78,237.09 L93.30,237.10 L93.83,237.11 L94.35,237.12 L94.88,237.13 L95.40,237.14 L95.92,237.15 L96.45,237.16 L96.97,237.17 L97.50,237.17" fill="none" stroke="#3b3585" stroke-width="1.2"/>
<path d="M115.50,236.70 L116.03,236.68 L116.56,236.67 L117.08,236.66 L117.61,236.64 L118.14,236.63 L118.67,236.62 L119.19,236.60 L119.72,236.58 L120.25,236.56 L120.78,236.55 L121.30,236.53 L121.83,236.51 L122.36,236.48 L122.89,236.46 L123.41,236.44 L123.94,236.41 L124.47,236.39 L125.00,236.36 L125.52,236.33 L126.05,236.30 L126.58,236.26 L127.11,236.23 L127.63,236.19 L128.16,236.15 L128.69,236.10 L129.22,236.06 L129.74,236.01 L130.27,235.95 L130.80,235.89 L131.33,235.83 L131.85,235.75 L132.38,235.67 L132.91,235.57 L133.44,235.46 L133.96,235.32 L134.49,235.14 L135.02,234.92 L135.55,234.62 L136.07,234.24 L136.60,233.74 L137.13,233.07 L137.66,232.20 L138.18,231.09 L138.71,229.67 L139.24,227.90 L139.77,225.74 L140.29,223.14 L140.82,220.11 L141.35,216.65 L141.88,212.80 L142.40,208.63 L142.93,204.25 L143.46,199.79 L143.99,195.46 L144.51,191.47 L145.04,188.11 L145.57,185.68 L146.09,184.43 L146.62,184.59 L147.15,186.12 L147.68,188.79 L148.21,192.32 L148.73,196.40 L149.26,200.78 L149.79,205.23 L150.31,209.58 L150.84,213.69 L151.37,217.46 L151.90,220.83 L152.43,223.76 L152.95,226.25 L153.48,228.33 L154.01,230.01 L154.53,231.36 L155.06,232.42 L155.59,233.23 L156.12,233.86 L156.65,234.34 L157.17,234.70 L157.70,234.97 L158.23,235.18 L158.75,235.35 L159.28,235.49 L159.81,235.60 L160.34,235.69 L160.87,235.77 L161.39,235.84 L161.92,235.91 L162.45,235.97 L162.98,236.02 L163.50,236.07 L164.03,236.11 L164.56,236.16 L165.09,236.20 L165.61,236.24 L166.14,236.27 L166.67,236.30 L167.20,236.34 L167.72,236.36 L168.25,236.39 L168.78,236.42 L169.31,236.44 L169.83,236.47 L170.36,236.49 L170.89,236.51 L171.42,236.53 L171.94,236.55 L172.47,236.57 L173.00,236.59 L173.53,236.60 L174.05,236.62 L174.58,236.63 L175.11,236.65 L175.64,236.66 L176.16,236.67 L176.69,236.69 L177.22,236.70 L177.75,236.71 L178.27,236.72 L178.80,236.73" fill="none" stroke="#2ea05a" stroke-width="1.2"/>
<defs>
<linearGradient id="tlxcore" x1="0" y1="243" x2="0" y2="414" gradientUnits="userSpaceOnUse">
<stop offset="0" stop-color="#3a2c96"/><stop offset="0.04" stop-color="#5a4eac"/><stop offset="0.3" stop-color="#7f78c0"/><stop offset="0.55" stop-color="#a29dd2"/><stop offset="0.85" stop-color="#bcb8e0"/><stop offset="1" stop-color="#d6d3ee"/></linearGradient>
<linearGradient id="tlxhalo" x1="0" y1="243" x2="0" y2="414" gradientUnits="userSpaceOnUse">
<stop offset="0" stop-color="#c9c4e8"/><stop offset="0.4" stop-color="#e0ddf2"/><stop offset="1" stop-color="#eeedf8"/></linearGradient>
<linearGradient id="mybcore" x1="0" y1="243" x2="0" y2="414" gradientUnits="userSpaceOnUse">
<stop offset="0" stop-color="#10a03e"/><stop offset="0.4" stop-color="#18a546"/><stop offset="0.55" stop-color="#3aae5a"/><stop offset="0.7" stop-color="#84c994"/><stop offset="0.86" stop-color="#c8e6ce"/><stop offset="1" stop-color="#f4faf5"/></linearGradient>
<linearGradient id="mybhalo" x1="0" y1="243" x2="0" y2="414" gradientUnits="userSpaceOnUse">
<stop offset="0" stop-color="#b3dcbd"/><stop offset="0.5" stop-color="#d5ecd9"/><stop offset="1" stop-color="#f8fcf8"/></linearGradient>
<filter id="bl3" x="-100%" y="-5%" width="300%" height="110%"><feGaussianBlur stdDeviation="3 0.2"/></filter>
<filter id="bl1" x="-100%" y="-5%" width="300%" height="110%"><feGaussianBlur stdDeviation="1.3 0.2"/></filter>
</defs>
<rect x="33.5" y="243.3" width="64" height="170.6" fill="#f7f7fc" stroke="none" stroke-width="1"/>
<g clip-path="url(#hmT)">
<rect x="33.5" y="284.0" width="64" height="0.8" fill="#e4e3f3" opacity="0.18"/>
<rect x="33.5" y="326.5" width="64" height="0.8" fill="#e4e3f3" opacity="0.07"/>
<rect x="33.5" y="289.0" width="64" height="0.8" fill="#e4e3f3" opacity="0.18"/>
<rect x="33.5" y="259.9" width="64" height="0.8" fill="#e4e3f3" opacity="0.22"/>
<rect x="33.5" y="300.0" width="64" height="0.8" fill="#e4e3f3" opacity="0.21"/>
<rect x="33.5" y="251.8" width="64" height="0.8" fill="#e4e3f3" opacity="0.14"/>
<rect x="33.5" y="251.5" width="64" height="0.8" fill="#e4e3f3" opacity="0.38"/>
<rect x="33.5" y="305.7" width="64" height="0.8" fill="#e4e3f3" opacity="0.01"/>
<rect x="33.5" y="331.7" width="64" height="0.8" fill="#e4e3f3" opacity="0.13"/>
<rect x="33.5" y="302.2" width="64" height="0.8" fill="#e4e3f3" opacity="0.16"/>
<rect x="33.5" y="257.5" width="64" height="0.8" fill="#e4e3f3" opacity="0.01"/>
<rect x="33.5" y="290.9" width="64" height="0.8" fill="#e4e3f3" opacity="0.02"/>
<rect x="33.5" y="260.4" width="64" height="0.8" fill="#e4e3f3" opacity="0.10"/>
<rect x="33.5" y="246.0" width="64" height="0.8" fill="#e4e3f3" opacity="0.23"/>
<rect x="33.5" y="282.9" width="64" height="0.8" fill="#e4e3f3" opacity="0.28"/>
<rect x="33.5" y="290.0" width="64" height="0.8" fill="#e4e3f3" opacity="0.19"/>
<rect x="33.5" y="288.3" width="64" height="0.8" fill="#e4e3f3" opacity="0.21"/>
<rect x="33.5" y="284.5" width="64" height="0.8" fill="#e4e3f3" opacity="0.09"/>
<rect x="33.5" y="333.1" width="64" height="0.8" fill="#e4e3f3" opacity="0.12"/>
<rect x="33.5" y="318.9" width="64" height="0.8" fill="#e4e3f3" opacity="0.13"/>
<rect x="33.5" y="271.7" width="64" height="0.8" fill="#e4e3f3" opacity="0.09"/>
<rect x="33.5" y="269.3" width="64" height="0.8" fill="#e4e3f3" opacity="0.03"/>
<rect x="33.5" y="312.3" width="64" height="0.8" fill="#e4e3f3" opacity="0.08"/>
<rect x="33.5" y="319.5" width="64" height="0.8" fill="#e4e3f3" opacity="0.07"/>
<rect x="33.5" y="329.5" width="64" height="0.8" fill="#e4e3f3" opacity="0.12"/>
<rect x="33.5" y="243.3" width="64" height="0.8" fill="#e4e3f3" opacity="0.10"/>
<rect x="33.5" y="325.2" width="64" height="0.8" fill="#e4e3f3" opacity="0.07"/>
<rect x="33.5" y="331.5" width="64" height="0.8" fill="#e4e3f3" opacity="0.05"/>
<rect x="33.5" y="249.9" width="64" height="0.8" fill="#e4e3f3" opacity="0.30"/>
<rect x="33.5" y="313.4" width="64" height="0.8" fill="#e4e3f3" opacity="0.06"/>
<rect x="33.5" y="251.1" width="64" height="0.8" fill="#e4e3f3" opacity="0.16"/>
<rect x="33.5" y="330.1" width="64" height="0.8" fill="#e4e3f3" opacity="0.10"/>
<rect x="33.5" y="253.9" width="64" height="0.8" fill="#e4e3f3" opacity="0.11"/>
<rect x="33.5" y="252.4" width="64" height="0.8" fill="#e4e3f3" opacity="0.03"/>
<rect x="33.5" y="315.0" width="64" height="0.8" fill="#e4e3f3" opacity="0.04"/>
<rect x="33.5" y="293.6" width="64" height="0.8" fill="#e4e3f3" opacity="0.13"/>
<rect x="33.5" y="260.5" width="64" height="0.8" fill="#e4e3f3" opacity="0.31"/>
<rect x="33.5" y="255.1" width="64" height="0.8" fill="#e4e3f3" opacity="0.29"/>
<rect x="33.5" y="253.8" width="64" height="0.8" fill="#e4e3f3" opacity="0.19"/>
<rect x="33.5" y="262.5" width="64" height="0.8" fill="#e4e3f3" opacity="0.11"/>
<rect x="33.5" y="330.7" width="64" height="0.8" fill="#e4e3f3" opacity="0.11"/>
<rect x="33.5" y="270.7" width="64" height="0.8" fill="#e4e3f3" opacity="0.34"/>
<rect x="33.5" y="262.3" width="64" height="0.8" fill="#e4e3f3" opacity="0.17"/>
<rect x="33.5" y="320.2" width="64" height="0.8" fill="#e4e3f3" opacity="0.11"/>
<rect x="33.5" y="252.3" width="64" height="0.8" fill="#e4e3f3" opacity="0.46"/>
<rect x="33.5" y="262.5" width="64" height="0.8" fill="#e4e3f3" opacity="0.11"/>
<rect x="33.5" y="312.8" width="64" height="0.8" fill="#e4e3f3" opacity="0.07"/>
<rect x="33.5" y="270.0" width="64" height="0.8" fill="#e4e3f3" opacity="0.03"/>
<rect x="33.5" y="251.4" width="64" height="0.8" fill="#e4e3f3" opacity="0.27"/>
<rect x="33.5" y="265.2" width="64" height="0.8" fill="#e4e3f3" opacity="0.25"/>
<rect x="33.5" y="276.8" width="64" height="0.8" fill="#e4e3f3" opacity="0.16"/>
<rect x="33.5" y="329.6" width="64" height="0.8" fill="#e4e3f3" opacity="0.07"/>
<rect x="33.5" y="295.0" width="64" height="0.8" fill="#e4e3f3" opacity="0.25"/>
<rect x="33.5" y="259.8" width="64" height="0.8" fill="#e4e3f3" opacity="0.07"/>
<rect x="33.5" y="325.1" width="64" height="0.8" fill="#e4e3f3" opacity="0.13"/>
<rect x="33.5" y="265.8" width="64" height="0.8" fill="#e4e3f3" opacity="0.08"/>
<rect x="33.5" y="309.8" width="64" height="0.8" fill="#e4e3f3" opacity="0.21"/>
<rect x="33.5" y="261.0" width="64" height="0.8" fill="#e4e3f3" opacity="0.40"/>
<rect x="33.5" y="322.7" width="64" height="0.8" fill="#e4e3f3" opacity="0.10"/>
<rect x="33.5" y="281.2" width="64" height="0.8" fill="#e4e3f3" opacity="0.04"/>
<g filter="url(#bl3)">
<path d="M56.5,243.3 L74,243.3 L71,413.9 L59,413.9 Z" fill="url(#tlxhalo)" stroke="none" stroke-width="1"/>
</g>
<g filter="url(#bl1)">
<path d="M60.9,243.3 L69.5,243.3 L68.9,300 L68.3,413.9 L62.1,413.9 L61.5,300 Z" fill="url(#tlxcore)" stroke="none" stroke-width="1"/>
</g>
<rect x="57" y="244.0" width="17" height="0.7" fill="#f4f4fb" opacity="0.19"/>
<rect x="57" y="246.1" width="17" height="0.7" fill="#f4f4fb" opacity="0.16"/>
<rect x="57" y="247.8" width="17" height="0.7" fill="#f4f4fb" opacity="0.17"/>
<rect x="57" y="250.0" width="17" height="0.7" fill="#f4f4fb" opacity="0.09"/>
<rect x="57" y="251.3" width="17" height="0.7" fill="#f4f4fb" opacity="0.16"/>
<rect x="57" y="252.9" width="17" height="0.7" fill="#f4f4fb" opacity="0.08"/>
<rect x="57" y="255.3" width="17" height="0.7" fill="#f4f4fb" opacity="0.18"/>
<rect x="57" y="257.1" width="17" height="0.7" fill="#f4f4fb" opacity="0.09"/>
<rect x="57" y="259.2" width="17" height="0.7" fill="#f4f4fb" opacity="0.08"/>
<rect x="57" y="259.9" width="17" height="0.7" fill="#f4f4fb" opacity="0.09"/>
<rect x="57" y="262.2" width="17" height="0.7" fill="#f4f4fb" opacity="0.06"/>
<rect x="57" y="263.7" width="17" height="0.7" fill="#f4f4fb" opacity="0.11"/>
<rect x="57" y="265.9" width="17" height="0.7" fill="#f4f4fb" opacity="0.07"/>
<rect x="57" y="267.4" width="17" height="0.7" fill="#f4f4fb" opacity="0.18"/>
<rect x="57" y="269.9" width="17" height="0.7" fill="#f4f4fb" opacity="0.15"/>
<rect x="57" y="271.4" width="17" height="0.7" fill="#f4f4fb" opacity="0.14"/>
<rect x="57" y="272.5" width="17" height="0.7" fill="#f4f4fb" opacity="0.06"/>
<rect x="57" y="274.1" width="17" height="0.7" fill="#f4f4fb" opacity="0.19"/>
<rect x="57" y="276.7" width="17" height="0.7" fill="#f4f4fb" opacity="0.19"/>
<rect x="57" y="277.6" width="17" height="0.7" fill="#f4f4fb" opacity="0.15"/>
<rect x="57" y="279.9" width="17" height="0.7" fill="#f4f4fb" opacity="0.16"/>
<rect x="57" y="281.5" width="17" height="0.7" fill="#f4f4fb" opacity="0.20"/>
<rect x="57" y="283.0" width="17" height="0.7" fill="#f4f4fb" opacity="0.13"/>
<rect x="57" y="285.6" width="17" height="0.7" fill="#f4f4fb" opacity="0.19"/>
<rect x="57" y="287.3" width="17" height="0.7" fill="#f4f4fb" opacity="0.16"/>
<rect x="57" y="289.2" width="17" height="0.7" fill="#f4f4fb" opacity="0.19"/>
<rect x="57" y="290.4" width="17" height="0.7" fill="#f4f4fb" opacity="0.15"/>
<rect x="57" y="292.8" width="17" height="0.7" fill="#f4f4fb" opacity="0.18"/>
<rect x="57" y="294.0" width="17" height="0.7" fill="#f4f4fb" opacity="0.17"/>
<rect x="57" y="296.3" width="17" height="0.7" fill="#f4f4fb" opacity="0.14"/>
<rect x="57" y="297.8" width="17" height="0.7" fill="#f4f4fb" opacity="0.11"/>
<rect x="57" y="299.5" width="17" height="0.7" fill="#f4f4fb" opacity="0.14"/>
<rect x="57" y="300.7" width="17" height="0.7" fill="#f4f4fb" opacity="0.15"/>
<rect x="57" y="303.5" width="17" height="0.7" fill="#f4f4fb" opacity="0.18"/>
<rect x="57" y="305.0" width="17" height="0.7" fill="#f4f4fb" opacity="0.11"/>
<rect x="57" y="306.8" width="17" height="0.7" fill="#f4f4fb" opacity="0.14"/>
<rect x="57" y="308.2" width="17" height="0.7" fill="#f4f4fb" opacity="0.18"/>
<rect x="57" y="309.5" width="17" height="0.7" fill="#f4f4fb" opacity="0.16"/>
<rect x="57" y="311.2" width="17" height="0.7" fill="#f4f4fb" opacity="0.14"/>
<rect x="57" y="313.5" width="17" height="0.7" fill="#f4f4fb" opacity="0.08"/>
<rect x="57" y="315.6" width="17" height="0.7" fill="#f4f4fb" opacity="0.12"/>
<rect x="57" y="317.2" width="17" height="0.7" fill="#f4f4fb" opacity="0.19"/>
<rect x="57" y="318.6" width="17" height="0.7" fill="#f4f4fb" opacity="0.05"/>
<rect x="57" y="320.4" width="17" height="0.7" fill="#f4f4fb" opacity="0.15"/>
<rect x="57" y="322.1" width="17" height="0.7" fill="#f4f4fb" opacity="0.08"/>
<rect x="57" y="324.7" width="17" height="0.7" fill="#f4f4fb" opacity="0.15"/>
<rect x="57" y="325.9" width="17" height="0.7" fill="#f4f4fb" opacity="0.18"/>
<rect x="57" y="327.5" width="17" height="0.7" fill="#f4f4fb" opacity="0.15"/>
<rect x="57" y="329.1" width="17" height="0.7" fill="#f4f4fb" opacity="0.11"/>
<rect x="57" y="331.6" width="17" height="0.7" fill="#f4f4fb" opacity="0.19"/>
<rect x="57" y="333.5" width="17" height="0.7" fill="#f4f4fb" opacity="0.11"/>
<rect x="57" y="334.9" width="17" height="0.7" fill="#f4f4fb" opacity="0.10"/>
<rect x="57" y="336.1" width="17" height="0.7" fill="#f4f4fb" opacity="0.12"/>
<rect x="57" y="338.7" width="17" height="0.7" fill="#f4f4fb" opacity="0.18"/>
<rect x="57" y="340.3" width="17" height="0.7" fill="#f4f4fb" opacity="0.19"/>
<rect x="57" y="341.6" width="17" height="0.7" fill="#f4f4fb" opacity="0.08"/>
<rect x="57" y="343.6" width="17" height="0.7" fill="#f4f4fb" opacity="0.09"/>
<rect x="57" y="345.1" width="17" height="0.7" fill="#f4f4fb" opacity="0.11"/>
<rect x="57" y="347.3" width="17" height="0.7" fill="#f4f4fb" opacity="0.12"/>
<rect x="57" y="348.7" width="17" height="0.7" fill="#f4f4fb" opacity="0.18"/>
<rect x="57" y="351.3" width="17" height="0.7" fill="#f4f4fb" opacity="0.12"/>
<rect x="57" y="352.0" width="17" height="0.7" fill="#f4f4fb" opacity="0.05"/>
<rect x="57" y="354.7" width="17" height="0.7" fill="#f4f4fb" opacity="0.06"/>
<rect x="57" y="356.3" width="17" height="0.7" fill="#f4f4fb" opacity="0.14"/>
<rect x="57" y="357.5" width="17" height="0.7" fill="#f4f4fb" opacity="0.17"/>
<rect x="57" y="359.0" width="17" height="0.7" fill="#f4f4fb" opacity="0.07"/>
<rect x="57" y="361.3" width="17" height="0.7" fill="#f4f4fb" opacity="0.05"/>
<rect x="57" y="363.5" width="17" height="0.7" fill="#f4f4fb" opacity="0.09"/>
<rect x="57" y="364.4" width="17" height="0.7" fill="#f4f4fb" opacity="0.06"/>
<rect x="57" y="366.8" width="17" height="0.7" fill="#f4f4fb" opacity="0.12"/>
<rect x="57" y="368.5" width="17" height="0.7" fill="#f4f4fb" opacity="0.15"/>
<rect x="57" y="370.5" width="17" height="0.7" fill="#f4f4fb" opacity="0.19"/>
<rect x="57" y="372.1" width="17" height="0.7" fill="#f4f4fb" opacity="0.08"/>
<rect x="57" y="373.7" width="17" height="0.7" fill="#f4f4fb" opacity="0.08"/>
<rect x="57" y="374.9" width="17" height="0.7" fill="#f4f4fb" opacity="0.12"/>
<rect x="57" y="377.5" width="17" height="0.7" fill="#f4f4fb" opacity="0.08"/>
<rect x="57" y="378.7" width="17" height="0.7" fill="#f4f4fb" opacity="0.10"/>
<rect x="57" y="381.0" width="17" height="0.7" fill="#f4f4fb" opacity="0.13"/>
<rect x="57" y="382.7" width="17" height="0.7" fill="#f4f4fb" opacity="0.16"/>
<rect x="57" y="384.2" width="17" height="0.7" fill="#f4f4fb" opacity="0.17"/>
<rect x="57" y="386.6" width="17" height="0.7" fill="#f4f4fb" opacity="0.06"/>
<rect x="57" y="388.4" width="17" height="0.7" fill="#f4f4fb" opacity="0.16"/>
<rect x="57" y="389.2" width="17" height="0.7" fill="#f4f4fb" opacity="0.12"/>
<rect x="57" y="391.5" width="17" height="0.7" fill="#f4f4fb" opacity="0.19"/>
<rect x="57" y="393.0" width="17" height="0.7" fill="#f4f4fb" opacity="0.14"/>
<rect x="57" y="395.4" width="17" height="0.7" fill="#f4f4fb" opacity="0.17"/>
<rect x="57" y="397.2" width="17" height="0.7" fill="#f4f4fb" opacity="0.12"/>
<rect x="57" y="398.6" width="17" height="0.7" fill="#f4f4fb" opacity="0.08"/>
<rect x="57" y="400.5" width="17" height="0.7" fill="#f4f4fb" opacity="0.17"/>
<rect x="57" y="402.2" width="17" height="0.7" fill="#f4f4fb" opacity="0.16"/>
<rect x="57" y="403.4" width="17" height="0.7" fill="#f4f4fb" opacity="0.18"/>
<rect x="57" y="406.1" width="17" height="0.7" fill="#f4f4fb" opacity="0.20"/>
<rect x="57" y="407.3" width="17" height="0.7" fill="#f4f4fb" opacity="0.17"/>
<rect x="57" y="408.8" width="17" height="0.7" fill="#f4f4fb" opacity="0.19"/>
<rect x="57" y="411.3" width="17" height="0.7" fill="#f4f4fb" opacity="0.10"/>
</g>
<rect x="33.3" y="243.0" width="64.5" height="171.2" fill="none" stroke="#111" stroke-width="1.2"/>
<rect x="115.2" y="243.3" width="64.1" height="170.6" fill="#fafdfa" stroke="none" stroke-width="1"/>
<g clip-path="url(#hmM)">
<rect x="115.2" y="254.1" width="64.1" height="1.2" fill="#dcebdd" opacity="0.24"/>
<rect x="115.2" y="298.1" width="64.1" height="0.6" fill="#dcebdd" opacity="0.10"/>
<rect x="115.2" y="271.7" width="64.1" height="0.9" fill="#dcebdd" opacity="0.41"/>
<rect x="115.2" y="347.3" width="64.1" height="0.9" fill="#dcebdd" opacity="0.03"/>
<rect x="115.2" y="332.6" width="64.1" height="0.9" fill="#dcebdd" opacity="0.20"/>
<rect x="115.2" y="262.6" width="64.1" height="1.2" fill="#dcebdd" opacity="0.27"/>
<rect x="115.2" y="310.7" width="64.1" height="0.9" fill="#dcebdd" opacity="0.21"/>
<rect x="115.2" y="366.2" width="64.1" height="1.2" fill="#dcebdd" opacity="0.04"/>
<rect x="115.2" y="254.5" width="64.1" height="1.2" fill="#dcebdd" opacity="0.12"/>
<rect x="115.2" y="315.9" width="64.1" height="1.2" fill="#dcebdd" opacity="0.24"/>
<rect x="115.2" y="326.4" width="64.1" height="1.2" fill="#dcebdd" opacity="0.13"/>
<rect x="115.2" y="276.6" width="64.1" height="1.2" fill="#dcebdd" opacity="0.31"/>
<rect x="115.2" y="270.4" width="64.1" height="1.2" fill="#dcebdd" opacity="0.41"/>
<rect x="115.2" y="311.4" width="64.1" height="0.6" fill="#dcebdd" opacity="0.18"/>
<rect x="115.2" y="296.7" width="64.1" height="0.6" fill="#dcebdd" opacity="0.04"/>
<rect x="115.2" y="322.0" width="64.1" height="0.6" fill="#dcebdd" opacity="0.01"/>
<rect x="115.2" y="310.4" width="64.1" height="1.2" fill="#dcebdd" opacity="0.12"/>
<rect x="115.2" y="259.2" width="64.1" height="0.6" fill="#dcebdd" opacity="0.05"/>
<rect x="115.2" y="251.9" width="64.1" height="0.9" fill="#dcebdd" opacity="0.30"/>
<rect x="115.2" y="363.0" width="64.1" height="0.9" fill="#dcebdd" opacity="0.07"/>
<rect x="115.2" y="278.3" width="64.1" height="0.6" fill="#dcebdd" opacity="0.21"/>
<rect x="115.2" y="287.5" width="64.1" height="0.9" fill="#dcebdd" opacity="0.37"/>
<rect x="115.2" y="311.5" width="64.1" height="0.9" fill="#dcebdd" opacity="0.03"/>
<rect x="115.2" y="323.6" width="64.1" height="0.6" fill="#dcebdd" opacity="0.24"/>
<rect x="115.2" y="334.6" width="64.1" height="0.6" fill="#dcebdd" opacity="0.20"/>
<rect x="115.2" y="268.5" width="64.1" height="1.2" fill="#dcebdd" opacity="0.11"/>
<rect x="115.2" y="280.2" width="64.1" height="0.6" fill="#dcebdd" opacity="0.32"/>
<rect x="115.2" y="323.9" width="64.1" height="1.2" fill="#dcebdd" opacity="0.03"/>
<rect x="115.2" y="319.0" width="64.1" height="1.2" fill="#dcebdd" opacity="0.23"/>
<rect x="115.2" y="275.9" width="64.1" height="1.2" fill="#dcebdd" opacity="0.09"/>
<rect x="115.2" y="357.5" width="64.1" height="1.2" fill="#dcebdd" opacity="0.00"/>
<rect x="115.2" y="297.0" width="64.1" height="0.6" fill="#dcebdd" opacity="0.20"/>
<rect x="115.2" y="313.3" width="64.1" height="1.2" fill="#dcebdd" opacity="0.26"/>
<rect x="115.2" y="326.3" width="64.1" height="1.2" fill="#dcebdd" opacity="0.13"/>
<rect x="115.2" y="322.8" width="64.1" height="0.6" fill="#dcebdd" opacity="0.22"/>
<rect x="115.2" y="362.2" width="64.1" height="0.9" fill="#dcebdd" opacity="0.06"/>
<rect x="115.2" y="360.6" width="64.1" height="0.9" fill="#dcebdd" opacity="0.03"/>
<rect x="115.2" y="359.1" width="64.1" height="0.6" fill="#dcebdd" opacity="0.02"/>
<rect x="115.2" y="358.7" width="64.1" height="0.6" fill="#dcebdd" opacity="0.01"/>
<rect x="115.2" y="260.5" width="64.1" height="0.9" fill="#dcebdd" opacity="0.05"/>
<rect x="115.2" y="255.9" width="64.1" height="0.9" fill="#dcebdd" opacity="0.45"/>
<rect x="115.2" y="313.9" width="64.1" height="0.6" fill="#dcebdd" opacity="0.21"/>
<rect x="115.2" y="295.7" width="64.1" height="0.6" fill="#dcebdd" opacity="0.26"/>
<rect x="115.2" y="255.8" width="64.1" height="0.9" fill="#dcebdd" opacity="0.31"/>
<rect x="115.2" y="361.8" width="64.1" height="0.6" fill="#dcebdd" opacity="0.09"/>
<rect x="115.2" y="334.9" width="64.1" height="0.9" fill="#dcebdd" opacity="0.13"/>
<rect x="115.2" y="308.7" width="64.1" height="0.6" fill="#dcebdd" opacity="0.22"/>
<rect x="115.2" y="347.7" width="64.1" height="0.6" fill="#dcebdd" opacity="0.07"/>
<rect x="115.2" y="248.2" width="64.1" height="1.2" fill="#dcebdd" opacity="0.32"/>
<rect x="115.2" y="361.0" width="64.1" height="0.6" fill="#dcebdd" opacity="0.05"/>
<rect x="115.2" y="267.3" width="64.1" height="0.6" fill="#dcebdd" opacity="0.10"/>
<rect x="115.2" y="372.0" width="64.1" height="0.6" fill="#dcebdd" opacity="0.04"/>
<rect x="115.2" y="318.7" width="64.1" height="1.2" fill="#dcebdd" opacity="0.04"/>
<rect x="115.2" y="303.4" width="64.1" height="0.9" fill="#dcebdd" opacity="0.26"/>
<rect x="115.2" y="294.1" width="64.1" height="0.9" fill="#dcebdd" opacity="0.16"/>
<rect x="115.2" y="299.2" width="64.1" height="0.6" fill="#dcebdd" opacity="0.22"/>
<rect x="115.2" y="325.7" width="64.1" height="0.6" fill="#dcebdd" opacity="0.01"/>
<rect x="115.2" y="266.9" width="64.1" height="1.2" fill="#dcebdd" opacity="0.23"/>
<rect x="115.2" y="291.4" width="64.1" height="1.2" fill="#dcebdd" opacity="0.36"/>
<rect x="115.2" y="264.8" width="64.1" height="0.6" fill="#dcebdd" opacity="0.26"/>
<rect x="115.2" y="285.4" width="64.1" height="1.2" fill="#dcebdd" opacity="0.04"/>
<rect x="115.2" y="357.1" width="64.1" height="0.9" fill="#dcebdd" opacity="0.10"/>
<rect x="115.2" y="317.4" width="64.1" height="1.2" fill="#dcebdd" opacity="0.05"/>
<rect x="115.2" y="371.0" width="64.1" height="0.9" fill="#dcebdd" opacity="0.04"/>
<rect x="115.2" y="279.6" width="64.1" height="1.2" fill="#dcebdd" opacity="0.05"/>
<rect x="115.2" y="344.4" width="64.1" height="0.9" fill="#dcebdd" opacity="0.13"/>
<rect x="115.2" y="260.6" width="64.1" height="1.2" fill="#dcebdd" opacity="0.17"/>
<rect x="115.2" y="333.6" width="64.1" height="0.6" fill="#dcebdd" opacity="0.16"/>
<rect x="115.2" y="296.0" width="64.1" height="0.6" fill="#dcebdd" opacity="0.27"/>
<rect x="115.2" y="347.0" width="64.1" height="0.6" fill="#dcebdd" opacity="0.05"/>
<rect x="115.2" y="244.7" width="64.1" height="1.2" fill="#dcebdd" opacity="0.21"/>
<rect x="115.2" y="360.7" width="64.1" height="0.9" fill="#dcebdd" opacity="0.00"/>
<rect x="115.2" y="366.1" width="64.1" height="0.9" fill="#dcebdd" opacity="0.05"/>
<rect x="115.2" y="271.4" width="64.1" height="0.6" fill="#dcebdd" opacity="0.19"/>
<rect x="115.2" y="312.6" width="64.1" height="0.9" fill="#dcebdd" opacity="0.12"/>
<rect x="115.2" y="326.8" width="64.1" height="0.9" fill="#dcebdd" opacity="0.17"/>
<rect x="115.2" y="370.7" width="64.1" height="1.2" fill="#dcebdd" opacity="0.00"/>
<rect x="115.2" y="257.3" width="64.1" height="0.9" fill="#dcebdd" opacity="0.13"/>
<rect x="115.2" y="295.5" width="64.1" height="0.6" fill="#dcebdd" opacity="0.02"/>
<rect x="115.2" y="327.5" width="64.1" height="0.9" fill="#dcebdd" opacity="0.00"/>
<rect x="115.2" y="275.9" width="64.1" height="1.2" fill="#dcebdd" opacity="0.42"/>
<rect x="115.2" y="313.6" width="64.1" height="1.2" fill="#dcebdd" opacity="0.12"/>
<rect x="115.2" y="317.1" width="64.1" height="1.2" fill="#dcebdd" opacity="0.28"/>
<rect x="115.2" y="301.1" width="64.1" height="1.2" fill="#dcebdd" opacity="0.23"/>
<rect x="115.2" y="321.0" width="64.1" height="0.6" fill="#dcebdd" opacity="0.20"/>
<rect x="115.2" y="293.5" width="64.1" height="0.9" fill="#dcebdd" opacity="0.36"/>
<rect x="115.2" y="304.6" width="64.1" height="0.9" fill="#dcebdd" opacity="0.06"/>
<rect x="115.2" y="313.8" width="64.1" height="0.9" fill="#dcebdd" opacity="0.18"/>
<rect x="115.2" y="366.2" width="64.1" height="1.2" fill="#dcebdd" opacity="0.03"/>
<rect x="115.2" y="295.1" width="64.1" height="1.2" fill="#dcebdd" opacity="0.12"/>
<rect x="115.2" y="280.4" width="64.1" height="1.2" fill="#dcebdd" opacity="0.29"/>
<rect x="115.2" y="364.1" width="64.1" height="1.2" fill="#dcebdd" opacity="0.05"/>
<rect x="115.2" y="281.8" width="64.1" height="0.6" fill="#dcebdd" opacity="0.01"/>
<rect x="115.2" y="319.5" width="64.1" height="0.9" fill="#dcebdd" opacity="0.17"/>
<rect x="115.2" y="341.4" width="64.1" height="0.9" fill="#dcebdd" opacity="0.07"/>
<rect x="115.2" y="340.6" width="64.1" height="1.2" fill="#dcebdd" opacity="0.01"/>
<rect x="115.2" y="366.1" width="64.1" height="0.6" fill="#dcebdd" opacity="0.01"/>
<rect x="115.2" y="299.1" width="64.1" height="0.6" fill="#dcebdd" opacity="0.17"/>
<rect x="115.2" y="249.2" width="64.1" height="1.2" fill="#dcebdd" opacity="0.06"/>
<rect x="115.2" y="361.5" width="64.1" height="0.6" fill="#dcebdd" opacity="0.01"/>
<rect x="115.2" y="321.8" width="64.1" height="1.2" fill="#dcebdd" opacity="0.03"/>
<rect x="115.2" y="297.5" width="64.1" height="0.6" fill="#dcebdd" opacity="0.04"/>
<rect x="115.2" y="289.7" width="64.1" height="0.9" fill="#dcebdd" opacity="0.06"/>
<rect x="115.2" y="300.9" width="64.1" height="0.9" fill="#dcebdd" opacity="0.24"/>
<rect x="115.2" y="321.4" width="64.1" height="1.2" fill="#dcebdd" opacity="0.17"/>
<rect x="115.2" y="297.8" width="64.1" height="1.2" fill="#dcebdd" opacity="0.28"/>
<rect x="115.2" y="349.3" width="64.1" height="0.9" fill="#dcebdd" opacity="0.02"/>
<rect x="115.2" y="338.8" width="64.1" height="0.6" fill="#dcebdd" opacity="0.05"/>
<rect x="115.2" y="308.7" width="64.1" height="1.2" fill="#dcebdd" opacity="0.10"/>
<rect x="115.2" y="324.5" width="64.1" height="0.9" fill="#dcebdd" opacity="0.09"/>
<g filter="url(#bl3)">
<path d="M130,243.3 L162,243.3 L155,300 L152.5,360 L150,413.9 L143,413.9 L140.5,360 L137.5,300 Z" fill="url(#mybhalo)" stroke="none" stroke-width="1"/>
</g>
<g filter="url(#bl1)">
<path d="M138.3,243.3 L153.7,243.3 L150.8,284 L149.6,326 L150.2,349 L149.6,380 L148.8,412 L144.2,412 L143.2,380 L142.8,349 L143.2,326 L141.2,284 Z" fill="url(#mybcore)" stroke="none" stroke-width="1"/>
</g>
<rect x="132" y="244.7" width="30" height="0.7" fill="#f4faf5" opacity="0.12"/>
<rect x="132" y="246.7" width="30" height="0.7" fill="#f4faf5" opacity="0.05"/>
<rect x="132" y="248.1" width="30" height="0.7" fill="#f4faf5" opacity="0.06"/>
<rect x="132" y="250.7" width="30" height="0.7" fill="#f4faf5" opacity="0.09"/>
<rect x="132" y="252.3" width="30" height="0.7" fill="#f4faf5" opacity="0.05"/>
<rect x="132" y="254.2" width="30" height="0.7" fill="#f4faf5" opacity="0.11"/>
<rect x="132" y="255.2" width="30" height="0.7" fill="#f4faf5" opacity="0.06"/>
<rect x="132" y="257.1" width="30" height="0.7" fill="#f4faf5" opacity="0.03"/>
<rect x="132" y="259.2" width="30" height="0.7" fill="#f4faf5" opacity="0.06"/>
<rect x="132" y="261.7" width="30" height="0.7" fill="#f4faf5" opacity="0.14"/>
<rect x="132" y="262.9" width="30" height="0.7" fill="#f4faf5" opacity="0.06"/>
<rect x="132" y="265.7" width="30" height="0.7" fill="#f4faf5" opacity="0.09"/>
<rect x="132" y="266.8" width="30" height="0.7" fill="#f4faf5" opacity="0.07"/>
<rect x="132" y="268.9" width="30" height="0.7" fill="#f4faf5" opacity="0.05"/>
<rect x="132" y="271.2" width="30" height="0.7" fill="#f4faf5" opacity="0.13"/>
<rect x="132" y="272.5" width="30" height="0.7" fill="#f4faf5" opacity="0.13"/>
<rect x="132" y="274.9" width="30" height="0.7" fill="#f4faf5" opacity="0.12"/>
<rect x="132" y="276.3" width="30" height="0.7" fill="#f4faf5" opacity="0.12"/>
<rect x="132" y="278.1" width="30" height="0.7" fill="#f4faf5" opacity="0.05"/>
<rect x="132" y="279.7" width="30" height="0.7" fill="#f4faf5" opacity="0.13"/>
<rect x="132" y="282.0" width="30" height="0.7" fill="#f4faf5" opacity="0.06"/>
<rect x="132" y="284.1" width="30" height="0.7" fill="#f4faf5" opacity="0.13"/>
<rect x="132" y="285.3" width="30" height="0.7" fill="#f4faf5" opacity="0.11"/>
<rect x="132" y="287.6" width="30" height="0.7" fill="#f4faf5" opacity="0.09"/>
<rect x="132" y="289.2" width="30" height="0.7" fill="#f4faf5" opacity="0.10"/>
<rect x="132" y="291.2" width="30" height="0.7" fill="#f4faf5" opacity="0.10"/>
<rect x="132" y="293.5" width="30" height="0.7" fill="#f4faf5" opacity="0.09"/>
<rect x="132" y="295.4" width="30" height="0.7" fill="#f4faf5" opacity="0.03"/>
<rect x="132" y="296.6" width="30" height="0.7" fill="#f4faf5" opacity="0.14"/>
<rect x="132" y="298.9" width="30" height="0.7" fill="#f4faf5" opacity="0.11"/>
<rect x="132" y="300.6" width="30" height="0.7" fill="#f4faf5" opacity="0.12"/>
<rect x="132" y="302.3" width="30" height="0.7" fill="#f4faf5" opacity="0.14"/>
<rect x="132" y="304.0" width="30" height="0.7" fill="#f4faf5" opacity="0.11"/>
<rect x="132" y="306.0" width="30" height="0.7" fill="#f4faf5" opacity="0.14"/>
<rect x="132" y="307.9" width="30" height="0.7" fill="#f4faf5" opacity="0.08"/>
<rect x="132" y="310.0" width="30" height="0.7" fill="#f4faf5" opacity="0.14"/>
<rect x="132" y="312.0" width="30" height="0.7" fill="#f4faf5" opacity="0.06"/>
<rect x="132" y="313.7" width="30" height="0.7" fill="#f4faf5" opacity="0.15"/>
<rect x="132" y="315.5" width="30" height="0.7" fill="#f4faf5" opacity="0.06"/>
<rect x="132" y="318.0" width="30" height="0.7" fill="#f4faf5" opacity="0.12"/>
<rect x="132" y="319.3" width="30" height="0.7" fill="#f4faf5" opacity="0.04"/>
<rect x="132" y="321.5" width="30" height="0.7" fill="#f4faf5" opacity="0.03"/>
<rect x="132" y="323.2" width="30" height="0.7" fill="#f4faf5" opacity="0.10"/>
<rect x="132" y="325.2" width="30" height="0.7" fill="#f4faf5" opacity="0.12"/>
<rect x="132" y="326.6" width="30" height="0.7" fill="#f4faf5" opacity="0.08"/>
<rect x="132" y="328.2" width="30" height="0.7" fill="#f4faf5" opacity="0.10"/>
<rect x="132" y="330.1" width="30" height="0.7" fill="#f4faf5" opacity="0.04"/>
<rect x="132" y="332.3" width="30" height="0.7" fill="#f4faf5" opacity="0.13"/>
<rect x="132" y="334.6" width="30" height="0.7" fill="#f4faf5" opacity="0.06"/>
<rect x="132" y="335.5" width="30" height="0.7" fill="#f4faf5" opacity="0.05"/>
<rect x="132" y="337.7" width="30" height="0.7" fill="#f4faf5" opacity="0.03"/>
<rect x="132" y="340.2" width="30" height="0.7" fill="#f4faf5" opacity="0.08"/>
<rect x="132" y="341.8" width="30" height="0.7" fill="#f4faf5" opacity="0.07"/>
<rect x="132" y="343.6" width="30" height="0.7" fill="#f4faf5" opacity="0.07"/>
<rect x="132" y="345.1" width="30" height="0.7" fill="#f4faf5" opacity="0.04"/>
<rect x="132" y="347.0" width="30" height="0.7" fill="#f4faf5" opacity="0.03"/>
<rect x="132" y="349.3" width="30" height="0.7" fill="#f4faf5" opacity="0.04"/>
<rect x="132" y="351.4" width="30" height="0.7" fill="#f4faf5" opacity="0.08"/>
<rect x="132" y="353.1" width="30" height="0.7" fill="#f4faf5" opacity="0.09"/>
<rect x="132" y="355.2" width="30" height="0.7" fill="#f4faf5" opacity="0.07"/>
<rect x="132" y="356.6" width="30" height="0.7" fill="#f4faf5" opacity="0.07"/>
<rect x="132" y="358.8" width="30" height="0.7" fill="#f4faf5" opacity="0.07"/>
<rect x="132" y="359.9" width="30" height="0.7" fill="#f4faf5" opacity="0.09"/>
<rect x="132" y="362.6" width="30" height="0.7" fill="#f4faf5" opacity="0.04"/>
<rect x="132" y="364.2" width="30" height="0.7" fill="#f4faf5" opacity="0.04"/>
<rect x="132" y="366.2" width="30" height="0.7" fill="#f4faf5" opacity="0.15"/>
<rect x="132" y="367.6" width="30" height="0.7" fill="#f4faf5" opacity="0.03"/>
<rect x="132" y="369.5" width="30" height="0.7" fill="#f4faf5" opacity="0.04"/>
<rect x="132" y="371.5" width="30" height="0.7" fill="#f4faf5" opacity="0.09"/>
<rect x="132" y="372.8" width="30" height="0.7" fill="#f4faf5" opacity="0.07"/>
<rect x="132" y="374.7" width="30" height="0.7" fill="#f4faf5" opacity="0.04"/>
<rect x="132" y="377.6" width="30" height="0.7" fill="#f4faf5" opacity="0.14"/>
<rect x="132" y="378.7" width="30" height="0.7" fill="#f4faf5" opacity="0.05"/>
<rect x="132" y="381.0" width="30" height="0.7" fill="#f4faf5" opacity="0.11"/>
<rect x="132" y="382.5" width="30" height="0.7" fill="#f4faf5" opacity="0.08"/>
<rect x="132" y="384.6" width="30" height="0.7" fill="#f4faf5" opacity="0.06"/>
<rect x="132" y="386.9" width="30" height="0.7" fill="#f4faf5" opacity="0.09"/>
<rect x="132" y="388.6" width="30" height="0.7" fill="#f4faf5" opacity="0.07"/>
<rect x="132" y="389.8" width="30" height="0.7" fill="#f4faf5" opacity="0.14"/>
<rect x="132" y="392.6" width="30" height="0.7" fill="#f4faf5" opacity="0.12"/>
<rect x="132" y="393.4" width="30" height="0.7" fill="#f4faf5" opacity="0.09"/>
<rect x="132" y="396.2" width="30" height="0.7" fill="#f4faf5" opacity="0.07"/>
<rect x="132" y="397.3" width="30" height="0.7" fill="#f4faf5" opacity="0.07"/>
<rect x="132" y="399.6" width="30" height="0.7" fill="#f4faf5" opacity="0.10"/>
<rect x="132" y="401.4" width="30" height="0.7" fill="#f4faf5" opacity="0.09"/>
<rect x="132" y="403.2" width="30" height="0.7" fill="#f4faf5" opacity="0.14"/>
<rect x="132" y="405.0" width="30" height="0.7" fill="#f4faf5" opacity="0.14"/>
<rect x="132" y="407.5" width="30" height="0.7" fill="#f4faf5" opacity="0.11"/>
<rect x="132" y="409.4" width="30" height="0.7" fill="#f4faf5" opacity="0.10"/>
<rect x="132" y="411.2" width="30" height="0.7" fill="#f4faf5" opacity="0.09"/>
</g>
<rect x="115.0" y="243.0" width="64.6" height="171.2" fill="none" stroke="#111" stroke-width="1.2"/>
<rect x="19.4" y="243.3" width="7.7" height="160" fill="url(#sidebar)" stroke="none" stroke-width="1"/>
<text x="14.2" y="328.5" font-size="9.0" text-anchor="middle" fill="#444" font-weight="normal" font-style="normal" transform="rotate(-90 14.2 328.5)" textLength="97" lengthAdjust="spacingAndGlyphs">TLX3 binding sites (N = 15,957)</text>
<line x1="33.4" y1="414.2" x2="33.4" y2="416.8" stroke="#231f20" stroke-width="0.9"/>
<line x1="65.5" y1="414.2" x2="65.5" y2="416.8" stroke="#231f20" stroke-width="0.9"/>
<line x1="97.6" y1="414.2" x2="97.6" y2="416.8" stroke="#231f20" stroke-width="0.9"/>
<line x1="115.1" y1="414.2" x2="115.1" y2="416.8" stroke="#231f20" stroke-width="0.9"/>
<line x1="147.2" y1="414.2" x2="147.2" y2="416.8" stroke="#231f20" stroke-width="0.9"/>
<line x1="179.3" y1="414.2" x2="179.3" y2="416.8" stroke="#231f20" stroke-width="0.9"/>
<text x="33.4" y="426.2" font-size="6.3" text-anchor="middle" fill="#333" font-weight="normal" font-style="normal" stroke="#333" stroke-width="0.15">–2kb</text>
<text x="65.5" y="426.2" font-size="6.3" text-anchor="middle" fill="#333" font-weight="normal" font-style="normal" stroke="#333" stroke-width="0.15">0</text>
<text x="98.5" y="426.2" font-size="6.3" text-anchor="middle" fill="#333" font-weight="normal" font-style="normal" stroke="#333" stroke-width="0.15">2kb</text>
<text x="112.5" y="426.2" font-size="6.3" text-anchor="middle" fill="#333" font-weight="normal" font-style="normal" stroke="#333" stroke-width="0.15">–2kb</text>
<text x="147.2" y="426.2" font-size="6.3" text-anchor="middle" fill="#333" font-weight="normal" font-style="normal" stroke="#333" stroke-width="0.15">0</text>
<text x="179.5" y="426.2" font-size="6.3" text-anchor="middle" fill="#333" font-weight="normal" font-style="normal" stroke="#333" stroke-width="0.15">2kb</text>
<rect x="33.4" y="430.3" width="64.3" height="4.6" fill="url(#cbP)" stroke="#888" stroke-width="0.5"/>
<rect x="115.0" y="430.3" width="64.3" height="4.6" fill="url(#cbG)" stroke="#888" stroke-width="0.5"/>
<text x="33.6" y="443.0" font-size="6.2" text-anchor="middle" fill="#333" font-weight="normal" font-style="normal" stroke="#333" stroke-width="0.15">0</text>
<text x="98.0" y="443.0" font-size="6.2" text-anchor="end" fill="#333" font-weight="normal" font-style="normal" stroke="#333" stroke-width="0.15">&gt;80</text>
<text x="115.2" y="443.0" font-size="6.2" text-anchor="middle" fill="#333" font-weight="normal" font-style="normal" stroke="#333" stroke-width="0.15">0</text>
<text x="179.6" y="443.0" font-size="6.2" text-anchor="end" fill="#333" font-weight="normal" font-style="normal" stroke="#333" stroke-width="0.15">&gt;80</text>
<defs><clipPath id="vT"><circle cx="252.2" cy="227.6" r="44.2"/></clipPath></defs>
<circle cx="252.2" cy="227.6" r="44.2" fill="#cbc3e3"/>
<circle cx="280.2" cy="227.9" r="48.5" fill="#deebd7"/>
<circle cx="280.2" cy="227.9" r="48.5" fill="#a9b3c6" clip-path="url(#vT)"/>
<text x="222.5" y="177.0" font-size="8.3" text-anchor="middle" fill="#231f20" font-weight="normal" font-style="normal" stroke="#231f20" stroke-width="0.15">TLX3</text>
<text x="305.4" y="177.0" font-size="8.3" text-anchor="middle" fill="#231f20" font-weight="normal" font-style="normal" stroke="#231f20" stroke-width="0.15">MYB</text>
<text x="221.2" y="229.6" font-size="6.5" text-anchor="middle" fill="#333" font-weight="normal" font-style="normal" stroke="#333" stroke-width="0.15">2,458</text>
<text x="264.6" y="225.3" font-size="6.5" text-anchor="middle" fill="#333" font-weight="normal" font-style="normal" stroke="#333" stroke-width="0.15">13,499</text>
<text x="264.7" y="233.3" font-size="6.8" text-anchor="middle" fill="#333" font-weight="normal" font-style="normal" stroke="#333" stroke-width="0.15">(P &lt; 2.2e-16)</text>
<text x="310.6" y="230.2" font-size="6.7" text-anchor="middle" fill="#333" font-weight="normal" font-style="normal" stroke="#333" stroke-width="0.15">12,660</text>
<line x1="389.3" y1="170.2" x2="389.3" y2="277.6" stroke="#231f20" stroke-width="1.2"/>
<line x1="388.8" y1="277.1" x2="513.5" y2="277.1" stroke="#231f20" stroke-width="1.2"/>
<line x1="389.6" y1="277.1" x2="389.6" y2="279.8" stroke="#231f20" stroke-width="0.9"/>
<text x="389.6" y="289.5" font-size="6.8" text-anchor="middle" fill="#333" font-weight="normal" font-style="normal" stroke="#333" stroke-width="0.15">0</text>
<line x1="418.18" y1="277.1" x2="418.18" y2="279.8" stroke="#231f20" stroke-width="0.9"/>
<text x="418.18" y="289.5" font-size="6.8" text-anchor="middle" fill="#333" font-weight="normal" font-style="normal" stroke="#333" stroke-width="0.15">50</text>
<line x1="446.76" y1="277.1" x2="446.76" y2="279.8" stroke="#231f20" stroke-width="0.9"/>
<text x="446.76" y="289.5" font-size="6.8" text-anchor="middle" fill="#333" font-weight="normal" font-style="normal" stroke="#333" stroke-width="0.15">100</text>
<line x1="475.34000000000003" y1="277.1" x2="475.34000000000003" y2="279.8" stroke="#231f20" stroke-width="0.9"/>
<text x="475.34000000000003" y="289.5" font-size="6.8" text-anchor="middle" fill="#333" font-weight="normal" font-style="normal" stroke="#333" stroke-width="0.15">150</text>
<line x1="503.92" y1="277.1" x2="503.92" y2="279.8" stroke="#231f20" stroke-width="0.9"/>
<text x="503.92" y="289.5" font-size="6.8" text-anchor="middle" fill="#333" font-weight="normal" font-style="normal" stroke="#333" stroke-width="0.15">200</text>
<text x="428.5" y="300.4" font-size="8.8" fill="#333" textLength="47" lengthAdjust="spacingAndGlyphs">–log<tspan font-size="5.6" dy="1.8">10</tspan><tspan dy="-1.8">(</tspan><tspan font-style="italic">P</tspan> value)</text>
<rect x="389.9" y="173.5" width="63.900000000000034" height="8.0" fill="#a6d4f2" stroke="none" stroke-width="1"/>
<text x="391.0" y="180.3" font-size="8.0" text-anchor="start" fill="#231f20" font-weight="normal" font-style="normal" textLength="108" lengthAdjust="spacingAndGlyphs" stroke="#231f20" stroke-width="0.15">regulation of immune system process</text>
<rect x="389.9" y="184.3" width="63.200000000000045" height="8.0" fill="#a6d4f2" stroke="none" stroke-width="1"/>
<text x="391.0" y="191.10000000000002" font-size="8.0" text-anchor="start" fill="#231f20" font-weight="normal" font-style="normal" textLength="74" lengthAdjust="spacingAndGlyphs" stroke="#231f20" stroke-width="0.15">response to cellular stress</text>
<rect x="389.9" y="195.0" width="56.30000000000001" height="8.0" fill="#a6d4f2" stroke="none" stroke-width="1"/>
<text x="391.0" y="201.8" font-size="8.0" text-anchor="start" fill="#231f20" font-weight="normal" font-style="normal" textLength="26.5" lengthAdjust="spacingAndGlyphs" stroke="#231f20" stroke-width="0.15">cell cycle</text>
<rect x="389.9" y="208.8" width="29.700000000000045" height="7.599999999999994" fill="#a0d6d0" stroke="none" stroke-width="1"/>
<text x="391.0" y="215.40000000000003" font-size="8.0" text-anchor="start" fill="#231f20" font-weight="normal" font-style="normal" textLength="61" lengthAdjust="spacingAndGlyphs" stroke="#231f20" stroke-width="0.15">abnormality of blood</text>
<rect x="389.9" y="219.6" width="26.30000000000001" height="7.599999999999994" fill="#a0d6d0" stroke="none" stroke-width="1"/>
<text x="391.0" y="226.2" font-size="8.0" text-anchor="start" fill="#231f20" font-weight="normal" font-style="normal" textLength="74.3" lengthAdjust="spacingAndGlyphs" stroke="#231f20" stroke-width="0.15">abnormality of leukocytes</text>
<rect x="389.9" y="230.0" width="23.900000000000034" height="7.599999999999994" fill="#a0d6d0" stroke="none" stroke-width="1"/>
<text x="391.0" y="236.60000000000002" font-size="8.0" text-anchor="start" fill="#231f20" font-weight="normal" font-style="normal" textLength="80.2" lengthAdjust="spacingAndGlyphs" stroke="#231f20" stroke-width="0.15">abnormality of lymphocytes</text>
<rect x="389.9" y="243.0" width="122.60000000000002" height="8.400000000000006" fill="#d6bade" stroke="none" stroke-width="1"/>
<text x="391.0" y="250.0" font-size="8.0" text-anchor="start" fill="#231f20" font-weight="normal" font-style="normal" textLength="119" lengthAdjust="spacingAndGlyphs" stroke="#231f20" stroke-width="0.15">abnormal hematopoietic cell morphology</text>
<rect x="389.9" y="253.6" width="111.80000000000001" height="8.400000000000006" fill="#d6bade" stroke="none" stroke-width="1"/>
<text x="391.0" y="260.6" font-size="8.0" text-anchor="start" fill="#231f20" font-weight="normal" font-style="normal" textLength="97" lengthAdjust="spacingAndGlyphs" stroke="#231f20" stroke-width="0.15">abnormal lymphocyte morphology</text>
<rect x="389.9" y="264.2" width="110.70000000000005" height="8.400000000000034" fill="#d6bade" stroke="none" stroke-width="1"/>
<text x="391.0" y="271.2" font-size="8.0" text-anchor="start" fill="#231f20" font-weight="normal" font-style="normal" textLength="107" lengthAdjust="spacingAndGlyphs" stroke="#231f20" stroke-width="0.15">abnormal immune system morphology</text>
<text x="386.1" y="180.29999999999998" font-size="7.6" text-anchor="end" fill="#333" font-weight="normal" font-style="normal" textLength="10.1" lengthAdjust="spacingAndGlyphs" stroke="#333" stroke-width="0.15">GO</text>
<text x="386.1" y="191.1" font-size="7.6" text-anchor="end" fill="#333" font-weight="normal" font-style="normal" textLength="27.9" lengthAdjust="spacingAndGlyphs" stroke="#333" stroke-width="0.15">Biological</text>
<text x="386.1" y="201.2" font-size="7.6" text-anchor="end" fill="#333" font-weight="normal" font-style="normal" textLength="21.6" lengthAdjust="spacingAndGlyphs" stroke="#333" stroke-width="0.15">Process</text>
<text x="386.1" y="222.2" font-size="7.6" text-anchor="end" fill="#333" font-weight="normal" font-style="normal" textLength="20.1" lengthAdjust="spacingAndGlyphs" stroke="#333" stroke-width="0.15">Human</text>
<text x="386.1" y="229.6" font-size="7.6" text-anchor="end" fill="#333" font-weight="normal" font-style="normal" textLength="31.1" lengthAdjust="spacingAndGlyphs" stroke="#333" stroke-width="0.15">Phenotype</text>
<text x="386.1" y="256.6" font-size="7.6" text-anchor="end" fill="#333" font-weight="normal" font-style="normal" textLength="19.2" lengthAdjust="spacingAndGlyphs" stroke="#333" stroke-width="0.15">Mouse</text>
<text x="386.1" y="264.09999999999997" font-size="7.6" text-anchor="end" fill="#333" font-weight="normal" font-style="normal" textLength="31.1" lengthAdjust="spacingAndGlyphs" stroke="#333" stroke-width="0.15">Phenotype</text>
<rect x="233.0" y="322.2" width="125.5" height="121.5" fill="none" stroke="#5a5a5a" stroke-width="1.1" stroke-dasharray="3 2"/>
<rect x="359.9" y="321.6" width="147.5" height="122.9" fill="none" stroke="#5a5a5a" stroke-width="1.1" stroke-dasharray="3 2"/>
<text x="237.4" y="330.0" font-size="6.6" text-anchor="start" fill="#333" font-weight="normal" font-style="normal" textLength="112" lengthAdjust="spacingAndGlyphs" stroke="#333" stroke-width="0.15">chr7: 92,193,431 - 92,506,012 (hg19)</text>
<text x="364.5" y="330.7" font-size="6.6" text-anchor="start" fill="#333" font-weight="normal" font-style="normal" textLength="117" lengthAdjust="spacingAndGlyphs" stroke="#333" stroke-width="0.15">chr20: 30,235,011 - 30,315,544 (hg19)</text>
<text x="230.4" y="366.7" font-size="6.8" text-anchor="end" fill="#333" font-weight="normal" font-style="normal" stroke="#333" stroke-width="0.15">ATAC-seq</text>
<text x="230.4" y="391.59999999999997" font-size="6.8" text-anchor="end" fill="#333" font-weight="normal" font-style="normal" stroke="#333" stroke-width="0.15">H3K27ac</text>
<text x="230.4" y="413.4" font-size="6.8" text-anchor="end" fill="#333" font-weight="normal" font-style="normal" stroke="#333" stroke-width="0.15">TLX3</text>
<text x="230.4" y="436.4" font-size="6.8" text-anchor="end" fill="#333" font-weight="normal" font-style="normal" stroke="#333" stroke-width="0.15">MYB</text>
<line x1="254.4" y1="356.3" x2="254.4" y2="375.09999999999997" stroke="#333" stroke-width="0.9"/>
<line x1="250.0" y1="356.5" x2="254.4" y2="356.5" stroke="#333" stroke-width="0.8"/>
<line x1="250.0" y1="374.9" x2="254.4" y2="374.9" stroke="#333" stroke-width="0.8"/>
<text x="248.6" y="359.0" font-size="6.6" text-anchor="end" fill="#333" font-weight="normal" font-style="normal" stroke="#333" stroke-width="0.15">110</text>
<text x="248.6" y="375.5" font-size="6.6" text-anchor="end" fill="#333" font-weight="normal" font-style="normal" stroke="#333" stroke-width="0.15">0</text>
<line x1="385.2" y1="356.3" x2="385.2" y2="375.09999999999997" stroke="#333" stroke-width="0.9"/>
<line x1="380.8" y1="356.5" x2="385.2" y2="356.5" stroke="#333" stroke-width="0.8"/>
<line x1="380.8" y1="374.9" x2="385.2" y2="374.9" stroke="#333" stroke-width="0.8"/>
<text x="379.4" y="359.0" font-size="6.6" text-anchor="end" fill="#333" font-weight="normal" font-style="normal" stroke="#333" stroke-width="0.15">210</text>
<text x="379.4" y="375.5" font-size="6.6" text-anchor="end" fill="#333" font-weight="normal" font-style="normal" stroke="#333" stroke-width="0.15">0</text>
<line x1="254.4" y1="376.7" x2="357.5" y2="376.7" stroke="#cfcfcf" stroke-width="0.6"/>
<line x1="385.2" y1="376.7" x2="506.5" y2="376.7" stroke="#cfcfcf" stroke-width="0.6"/>
<line x1="254.4" y1="379.0" x2="254.4" y2="397.5" stroke="#333" stroke-width="0.9"/>
<line x1="250.0" y1="379.2" x2="254.4" y2="379.2" stroke="#333" stroke-width="0.8"/>
<line x1="250.0" y1="397.3" x2="254.4" y2="397.3" stroke="#333" stroke-width="0.8"/>
<text x="248.6" y="381.7" font-size="6.6" text-anchor="end" fill="#333" font-weight="normal" font-style="normal" stroke="#333" stroke-width="0.15">150</text>
<text x="248.6" y="397.90000000000003" font-size="6.6" text-anchor="end" fill="#333" font-weight="normal" font-style="normal" stroke="#333" stroke-width="0.15">0</text>
<line x1="385.2" y1="379.0" x2="385.2" y2="397.5" stroke="#333" stroke-width="0.9"/>
<line x1="380.8" y1="379.2" x2="385.2" y2="379.2" stroke="#333" stroke-width="0.8"/>
<line x1="380.8" y1="397.3" x2="385.2" y2="397.3" stroke="#333" stroke-width="0.8"/>
<text x="379.4" y="381.7" font-size="6.6" text-anchor="end" fill="#333" font-weight="normal" font-style="normal" stroke="#333" stroke-width="0.15">500</text>
<text x="379.4" y="397.90000000000003" font-size="6.6" text-anchor="end" fill="#333" font-weight="normal" font-style="normal" stroke="#333" stroke-width="0.15">0</text>
<line x1="254.4" y1="399.1" x2="357.5" y2="399.1" stroke="#cfcfcf" stroke-width="0.6"/>
<line x1="385.2" y1="399.1" x2="506.5" y2="399.1" stroke="#cfcfcf" stroke-width="0.6"/>
<line x1="254.4" y1="401.6" x2="254.4" y2="419.7" stroke="#333" stroke-width="0.9"/>
<line x1="250.0" y1="401.8" x2="254.4" y2="401.8" stroke="#333" stroke-width="0.8"/>
<line x1="250.0" y1="419.5" x2="254.4" y2="419.5" stroke="#333" stroke-width="0.8"/>
<text x="248.6" y="404.3" font-size="6.6" text-anchor="end" fill="#333" font-weight="normal" font-style="normal" stroke="#333" stroke-width="0.15">120</text>
<text x="248.6" y="420.1" font-size="6.6" text-anchor="end" fill="#333" font-weight="normal" font-style="normal" stroke="#333" stroke-width="0.15">0</text>
<line x1="385.2" y1="401.6" x2="385.2" y2="419.7" stroke="#333" stroke-width="0.9"/>
<line x1="380.8" y1="401.8" x2="385.2" y2="401.8" stroke="#333" stroke-width="0.8"/>
<line x1="380.8" y1="419.5" x2="385.2" y2="419.5" stroke="#333" stroke-width="0.8"/>
<text x="379.4" y="404.3" font-size="6.6" text-anchor="end" fill="#333" font-weight="normal" font-style="normal" stroke="#333" stroke-width="0.15">160</text>
<text x="379.4" y="420.1" font-size="6.6" text-anchor="end" fill="#333" font-weight="normal" font-style="normal" stroke="#333" stroke-width="0.15">0</text>
<line x1="254.4" y1="421.3" x2="357.5" y2="421.3" stroke="#cfcfcf" stroke-width="0.6"/>
<line x1="385.2" y1="421.3" x2="506.5" y2="421.3" stroke="#cfcfcf" stroke-width="0.6"/>
<line x1="254.4" y1="423.90000000000003" x2="254.4" y2="441.9" stroke="#333" stroke-width="0.9"/>
<line x1="250.0" y1="424.1" x2="254.4" y2="424.1" stroke="#333" stroke-width="0.8"/>
<line x1="250.0" y1="441.7" x2="254.4" y2="441.7" stroke="#333" stroke-width="0.8"/>
<text x="248.6" y="426.6" font-size="6.6" text-anchor="end" fill="#333" font-weight="normal" font-style="normal" stroke="#333" stroke-width="0.15">750</text>
<text x="248.6" y="442.3" font-size="6.6" text-anchor="end" fill="#333" font-weight="normal" font-style="normal" stroke="#333" stroke-width="0.15">0</text>
<line x1="385.2" y1="423.90000000000003" x2="385.2" y2="441.9" stroke="#333" stroke-width="0.9"/>
<line x1="380.8" y1="424.1" x2="385.2" y2="424.1" stroke="#333" stroke-width="0.8"/>
<line x1="380.8" y1="441.7" x2="385.2" y2="441.7" stroke="#333" stroke-width="0.8"/>
<text x="379.4" y="426.6" font-size="6.6" text-anchor="end" fill="#333" font-weight="normal" font-style="normal" stroke="#333" stroke-width="0.15">900</text>
<text x="379.4" y="442.3" font-size="6.6" text-anchor="end" fill="#333" font-weight="normal" font-style="normal" stroke="#333" stroke-width="0.15">0</text>
<path d="M255.00,374.90 L255.00,374.06 L255.25,374.07 L255.50,374.90 L255.75,374.89 L256.00,374.26 L256.25,374.40 L256.50,374.49 L256.75,374.81 L257.00,374.56 L257.25,374.56 L257.50,374.59 L257.75,374.88 L258.00,374.73 L258.25,374.76 L258.50,374.42 L258.75,373.99 L259.00,374.07 L259.25,374.63 L259.50,374.72 L259.75,374.83 L260.00,374.90 L260.25,374.69 L260.50,374.14 L260.75,373.89 L261.00,373.49 L261.25,372.54 L261.50,372.65 L261.75,372.23 L262.00,372.02 L262.25,371.51 L262.50,370.55 L262.75,369.00 L263.00,365.17 L263.25,360.22 L263.50,366.75 L263.75,369.68 L264.00,370.16 L264.25,370.97 L264.50,371.50 L264.75,371.61 L265.00,372.15 L265.25,372.42 L265.50,373.17 L265.75,372.67 L266.00,372.95 L266.25,374.00 L266.50,373.40 L266.75,373.24 L267.00,373.23 L267.25,373.45 L267.50,373.71 L267.75,373.31 L268.00,374.00 L268.25,373.69 L268.50,374.30 L268.75,373.76 L269.00,373.79 L269.25,374.39 L269.50,374.33 L269.75,373.88 L270.00,374.18 L270.25,374.39 L270.50,374.51 L270.75,374.40 L271.00,373.99 L271.25,374.35 L271.50,373.55 L271.75,374.17 L272.00,373.38 L272.25,373.90 L272.50,372.87 L272.75,372.72 L273.00,371.78 L273.25,372.08 L273.50,372.93 L273.75,373.47 L274.00,373.94 L274.25,374.03 L274.50,373.83 L274.75,373.25 L275.00,373.67 L275.25,373.99 L275.50,373.33 L275.75,373.42 L276.00,373.08 L276.25,373.69 L276.50,372.75 L276.75,372.27 L277.00,370.28 L277.25,368.86 L277.50,370.34 L277.75,370.10 L278.00,370.75 L278.25,370.24 L278.50,369.35 L278.75,369.17 L279.00,367.62 L279.25,363.45 L279.50,356.50 L279.75,363.80 L280.00,367.87 L280.25,369.40 L280.50,370.32 L280.75,370.34 L281.00,370.96 L281.25,370.18 L281.50,370.85 L281.75,371.37 L282.00,372.67 L282.25,373.30 L282.50,373.36 L282.75,374.25 L283.00,374.34 L283.25,374.01 L283.50,374.38 L283.75,374.57 L284.00,373.72 L284.25,374.65 L284.50,374.71 L284.75,374.64 L285.00,374.44 L285.25,374.32 L285.50,374.85 L285.75,374.79 L286.00,374.89 L286.25,374.70 L286.50,374.34 L286.75,374.38 L287.00,374.13 L287.25,374.35 L287.50,374.19 L287.75,374.41 L288.00,374.66 L288.25,374.81 L288.50,374.45 L288.75,374.76 L289.00,374.84 L289.25,374.66 L289.50,374.14 L289.75,374.82 L290.00,374.52 L290.25,374.68 L290.50,374.58 L290.75,374.80 L291.00,373.96 L291.25,374.67 L291.50,374.27 L291.75,374.32 L292.00,374.35 L292.25,373.93 L292.50,374.07 L292.75,373.94 L293.00,373.78 L293.25,373.57 L293.50,373.33 L293.75,372.58 L294.00,372.07 L294.25,370.23 L294.50,368.03 L294.75,370.19 L295.00,372.22 L295.25,372.72 L295.50,373.21 L295.75,373.19 L296.00,373.32 L296.25,373.23 L296.50,373.48 L296.75,374.00 L297.00,374.00 L297.25,374.02 L297.50,374.38 L297.75,374.49 L298.00,374.39 L298.25,374.51 L298.50,374.02 L298.75,374.43 L299.00,374.45 L299.25,374.40 L299.50,374.36 L299.75,374.33 L300.00,374.10 L300.25,374.18 L300.50,374.32 L300.75,374.05 L301.00,374.42 L301.25,373.72 L301.50,373.65 L301.75,374.03 L302.00,374.37 L302.25,374.32 L302.50,374.27 L302.75,374.59 L303.00,374.45 L303.25,374.37 L303.50,374.61 L303.75,374.64 L304.00,374.07 L304.25,374.55 L304.50,374.44 L304.75,373.91 L305.00,374.36 L305.25,374.64 L305.50,373.83 L305.75,374.60 L306.00,374.74 L306.25,374.31 L306.50,374.74 L306.75,374.67 L307.00,374.12 L307.25,374.36 L307.50,374.78 L307.75,374.60 L308.00,374.64 L308.25,374.58 L308.50,374.76 L308.75,374.49 L309.00,374.81 L309.25,374.74 L309.50,374.69 L309.75,374.02 L310.00,374.83 L310.25,374.31 L310.50,374.81 L310.75,374.54 L311.00,374.71 L311.25,374.65 L311.50,374.33 L311.75,374.72 L312.00,374.85 L312.25,374.85 L312.50,374.86 L312.75,374.21 L313.00,374.50 L313.25,374.03 L313.50,374.44 L313.75,374.89 L314.00,374.49 L314.25,374.34 L314.50,374.41 L314.75,374.67 L315.00,374.62 L315.25,374.15 L315.50,373.36 L315.75,373.48 L316.00,372.90 L316.25,372.54 L316.50,371.49 L316.75,371.27 L317.00,370.49 L317.25,369.80 L317.50,368.81 L317.75,365.45 L318.00,357.20 L318.25,365.44 L318.50,368.72 L318.75,370.02 L319.00,370.52 L319.25,371.55 L319.50,371.71 L319.75,372.74 L320.00,373.04 L320.25,372.64 L320.50,373.93 L320.75,374.19 L321.00,374.74 L321.25,374.89 L321.50,374.16 L321.75,374.00 L322.00,374.51 L322.25,374.88 L322.50,374.82 L322.75,374.85 L323.00,374.49 L323.25,374.47 L323.50,374.72 L323.75,374.65 L324.00,374.89 L324.25,374.63 L324.50,374.07 L324.75,374.37 L325.00,374.89 L325.25,374.65 L325.50,374.43 L325.75,374.84 L326.00,374.16 L326.25,374.70 L326.50,374.44 L326.75,374.75 L327.00,373.99 L327.25,374.34 L327.50,374.60 L327.75,374.88 L328.00,374.72 L328.25,374.90 L328.50,374.57 L328.75,374.18 L329.00,374.87 L329.25,374.66 L329.50,374.69 L329.75,374.75 L330.00,374.44 L330.25,374.09 L330.50,374.44 L330.75,374.69 L331.00,374.05 L331.25,374.80 L331.50,374.39 L331.75,374.50 L332.00,374.37 L332.25,374.23 L332.50,374.85 L332.75,374.54 L333.00,374.75 L333.25,374.49 L333.50,374.02 L333.75,374.53 L334.00,374.90 L334.25,374.53 L334.50,374.10 L334.75,373.67 L335.00,373.83 L335.25,373.43 L335.50,373.87 L335.75,372.86 L336.00,372.96 L336.25,372.82 L336.50,371.94 L336.75,371.12 L337.00,370.04 L337.25,367.46 L337.50,370.39 L337.75,372.21 L338.00,372.40 L338.25,372.97 L338.50,373.51 L338.75,373.16 L339.00,373.92 L339.25,373.77 L339.50,374.12 L339.75,374.40 L340.00,374.33 L340.25,374.60 L340.50,374.86 L340.75,374.04 L341.00,374.79 L341.25,374.53 L341.50,374.04 L341.75,373.35 L342.00,373.32 L342.25,372.92 L342.50,372.94 L342.75,372.42 L343.00,372.35 L343.25,371.86 L343.50,370.87 L343.75,369.63 L344.00,366.75 L344.25,363.21 L344.50,368.12 L344.75,369.82 L345.00,370.92 L345.25,372.01 L345.50,372.20 L345.75,372.40 L346.00,372.59 L346.25,373.54 L346.50,373.81 L346.75,373.97 L347.00,374.17 L347.25,374.55 L347.50,374.90 L347.75,374.61 L348.00,374.04 L348.25,374.78 L348.50,374.63 L348.75,374.77 L349.00,374.72 L349.25,374.20 L349.50,374.81 L349.75,374.51 L350.00,374.68 L350.25,374.63 L350.50,374.13 L350.75,374.89 L351.00,374.27 L351.25,374.81 L351.50,374.52 L351.75,374.32 L352.00,374.51 L352.00,374.90 Z" fill="#e45a60" stroke="#d8262e" stroke-width="0.35" stroke-linejoin="round"/>
<line x1="255.0" y1="374.59999999999997" x2="352.0" y2="374.59999999999997" stroke="#d8262e" stroke-width="0.7"/>
<path d="M255.00,397.30 L255.00,397.26 L255.25,397.11 L255.50,397.21 L255.75,397.07 L256.00,397.05 L256.25,397.30 L256.50,397.30 L256.75,396.86 L257.00,397.26 L257.25,397.27 L257.50,396.67 L257.75,397.16 L258.00,396.86 L258.25,397.16 L258.50,397.04 L258.75,397.29 L259.00,397.04 L259.25,396.82 L259.50,397.13 L259.75,396.95 L260.00,397.01 L260.25,397.18 L260.50,396.71 L260.75,396.74 L261.00,396.79 L261.25,396.73 L261.50,396.14 L261.75,396.35 L262.00,396.03 L262.25,395.71 L262.50,395.64 L262.75,395.05 L263.00,394.74 L263.25,393.63 L263.50,395.08 L263.75,395.21 L264.00,395.58 L264.25,396.26 L264.50,396.40 L264.75,396.51 L265.00,396.07 L265.25,396.65 L265.50,396.64 L265.75,396.95 L266.00,396.95 L266.25,397.13 L266.50,397.22 L266.75,397.08 L267.00,397.08 L267.25,396.78 L267.50,397.00 L267.75,396.75 L268.00,396.83 L268.25,396.67 L268.50,397.00 L268.75,397.27 L269.00,396.82 L269.25,396.70 L269.50,396.77 L269.75,397.05 L270.00,396.75 L270.25,396.86 L270.50,396.27 L270.75,396.31 L271.00,396.28 L271.25,396.13 L271.50,395.47 L271.75,395.09 L272.00,395.45 L272.25,394.71 L272.50,394.53 L272.75,393.82 L273.00,392.28 L273.25,392.14 L273.50,393.09 L273.75,394.08 L274.00,394.08 L274.25,394.42 L274.50,394.12 L274.75,394.36 L275.00,393.88 L275.25,393.67 L275.50,393.96 L275.75,393.22 L276.00,393.31 L276.25,392.53 L276.50,390.32 L276.75,391.56 L277.00,391.87 L277.25,391.75 L277.50,391.37 L277.75,390.99 L278.00,390.32 L278.25,389.06 L278.50,388.55 L278.75,386.81 L279.00,384.98 L279.25,381.96 L279.50,379.20 L279.75,381.20 L280.00,383.88 L280.25,385.32 L280.50,385.89 L280.75,385.92 L281.00,385.24 L281.25,384.74 L281.50,383.07 L281.75,385.66 L282.00,387.96 L282.25,389.44 L282.50,390.05 L282.75,391.30 L283.00,391.44 L283.25,391.62 L283.50,391.34 L283.75,390.85 L284.00,390.42 L284.25,391.34 L284.50,392.24 L284.75,393.22 L285.00,393.57 L285.25,394.20 L285.50,394.49 L285.75,394.88 L286.00,394.78 L286.25,394.86 L286.50,395.28 L286.75,395.33 L287.00,395.07 L287.25,394.76 L287.50,395.25 L287.75,395.06 L288.00,394.79 L288.25,395.38 L288.50,395.72 L288.75,396.00 L289.00,396.15 L289.25,396.15 L289.50,396.45 L289.75,396.52 L290.00,396.33 L290.25,396.79 L290.50,396.64 L290.75,396.55 L291.00,396.84 L291.25,396.82 L291.50,396.38 L291.75,396.69 L292.00,396.64 L292.25,396.48 L292.50,396.22 L292.75,396.44 L293.00,396.30 L293.25,396.17 L293.50,395.62 L293.75,395.68 L294.00,394.94 L294.25,394.75 L294.50,393.60 L294.75,394.50 L295.00,394.91 L295.25,395.67 L295.50,396.03 L295.75,396.24 L296.00,396.22 L296.25,396.50 L296.50,396.23 L296.75,396.30 L297.00,396.83 L297.25,396.91 L297.50,396.64 L297.75,396.90 L298.00,396.85 L298.25,397.22 L298.50,397.29 L298.75,397.25 L299.00,396.90 L299.25,397.25 L299.50,397.22 L299.75,397.19 L300.00,397.19 L300.25,397.19 L300.50,396.76 L300.75,397.28 L301.00,397.30 L301.25,396.74 L301.50,396.81 L301.75,396.68 L302.00,397.18 L302.25,396.73 L302.50,396.76 L302.75,397.27 L303.00,396.95 L303.25,396.86 L303.50,397.02 L303.75,397.13 L304.00,397.25 L304.25,397.23 L304.50,397.27 L304.75,397.30 L305.00,397.08 L305.25,397.25 L305.50,396.88 L305.75,397.30 L306.00,396.78 L306.25,397.00 L306.50,396.76 L306.75,396.79 L307.00,396.79 L307.25,397.09 L307.50,397.30 L307.75,396.95 L308.00,397.28 L308.25,397.24 L308.50,397.02 L308.75,397.13 L309.00,397.19 L309.25,396.74 L309.50,397.06 L309.75,397.23 L310.00,397.26 L310.25,396.83 L310.50,397.16 L310.75,396.91 L311.00,397.22 L311.25,397.28 L311.50,397.12 L311.75,396.88 L312.00,397.28 L312.25,396.90 L312.50,396.76 L312.75,396.89 L313.00,396.87 L313.25,397.30 L313.50,397.05 L313.75,396.83 L314.00,397.30 L314.25,397.25 L314.50,397.25 L314.75,397.12 L315.00,396.83 L315.25,396.36 L315.50,395.68 L315.75,395.62 L316.00,395.17 L316.25,394.71 L316.50,394.24 L316.75,393.73 L317.00,392.53 L317.25,391.85 L317.50,390.98 L317.75,388.31 L318.00,383.12 L318.25,388.41 L318.50,390.91 L318.75,392.05 L319.00,392.92 L319.25,393.66 L319.50,394.23 L319.75,394.65 L320.00,395.16 L320.25,395.42 L320.50,395.74 L320.75,396.41 L321.00,396.94 L321.25,397.28 L321.50,397.21 L321.75,397.07 L322.00,396.91 L322.25,397.21 L322.50,396.89 L322.75,397.05 L323.00,397.18 L323.25,397.21 L323.50,397.14 L323.75,396.99 L324.00,397.19 L324.25,396.99 L324.50,397.17 L324.75,397.26 L325.00,397.12 L325.25,396.99 L325.50,397.30 L325.75,397.19 L326.00,397.19 L326.25,396.81 L326.50,396.74 L326.75,397.21 L327.00,396.79 L327.25,396.90 L327.50,397.26 L327.75,397.16 L328.00,397.29 L328.25,396.88 L328.50,397.02 L328.75,396.80 L329.00,396.90 L329.25,397.02 L329.50,396.96 L329.75,397.10 L330.00,397.29 L330.25,397.08 L330.50,397.30 L330.75,397.29 L331.00,396.92 L331.25,397.30 L331.50,397.29 L331.75,397.29 L332.00,396.81 L332.25,397.28 L332.50,397.30 L332.75,396.85 L333.00,397.29 L333.25,396.85 L333.50,397.01 L333.75,396.86 L334.00,396.53 L334.25,396.66 L334.50,396.22 L334.75,396.38 L335.00,395.77 L335.25,395.73 L335.50,395.31 L335.75,395.34 L336.00,394.67 L336.25,394.07 L336.50,394.04 L336.75,393.04 L337.00,391.26 L337.25,389.41 L337.50,392.20 L337.75,393.52 L338.00,394.26 L338.25,394.56 L338.50,394.81 L338.75,395.37 L339.00,395.65 L339.25,395.89 L339.50,396.16 L339.75,396.37 L340.00,396.72 L340.25,396.80 L340.50,396.60 L340.75,397.00 L341.00,396.44 L341.25,396.47 L341.50,395.87 L341.75,395.49 L342.00,395.23 L342.25,395.01 L342.50,394.67 L342.75,394.16 L343.00,393.43 L343.25,393.31 L343.50,392.45 L343.75,390.76 L344.00,388.39 L344.25,386.74 L344.50,389.81 L344.75,391.40 L345.00,392.82 L345.25,393.55 L345.50,394.12 L345.75,394.37 L346.00,394.91 L346.25,395.29 L346.50,395.35 L346.75,395.40 L347.00,396.24 L347.25,396.29 L347.50,396.82 L347.75,396.77 L348.00,397.08 L348.25,397.25 L348.50,397.27 L348.75,397.30 L349.00,397.15 L349.25,397.21 L349.50,397.28 L349.75,397.22 L350.00,397.23 L350.25,396.92 L350.50,397.29 L350.75,396.68 L351.00,397.15 L351.25,397.07 L351.50,397.16 L351.75,396.86 L352.00,396.87 L352.00,397.30 Z" fill="#3b9bd2" stroke="#1f86c4" stroke-width="0.35" stroke-linejoin="round"/>
<line x1="255.0" y1="397.0" x2="352.0" y2="397.0" stroke="#1f86c4" stroke-width="0.7"/>
<path d="M255.00,419.50 L255.00,419.45 L255.25,419.49 L255.50,419.36 L255.75,419.48 L256.00,419.50 L256.25,419.36 L256.50,418.75 L256.75,418.93 L257.00,418.98 L257.25,419.46 L257.50,419.25 L257.75,419.43 L258.00,419.47 L258.25,419.49 L258.50,419.46 L258.75,418.74 L259.00,418.89 L259.25,418.92 L259.50,418.93 L259.75,419.47 L260.00,419.41 L260.25,419.13 L260.50,418.99 L260.75,418.79 L261.00,418.73 L261.25,419.39 L261.50,419.05 L261.75,418.95 L262.00,419.08 L262.25,419.22 L262.50,418.93 L262.75,418.87 L263.00,417.54 L263.25,417.01 L263.50,418.33 L263.75,418.92 L264.00,418.45 L264.25,418.99 L264.50,418.64 L264.75,418.72 L265.00,419.16 L265.25,419.25 L265.50,419.11 L265.75,419.28 L266.00,419.44 L266.25,419.41 L266.50,418.92 L266.75,419.50 L267.00,419.50 L267.25,419.15 L267.50,419.43 L267.75,419.25 L268.00,419.30 L268.25,419.39 L268.50,418.62 L268.75,419.46 L269.00,419.35 L269.25,419.46 L269.50,419.14 L269.75,419.43 L270.00,419.38 L270.25,418.98 L270.50,419.36 L270.75,419.15 L271.00,418.68 L271.25,419.37 L271.50,419.35 L271.75,419.28 L272.00,418.76 L272.25,418.86 L272.50,418.98 L272.75,418.58 L273.00,417.85 L273.25,417.88 L273.50,418.71 L273.75,418.55 L274.00,418.38 L274.25,418.33 L274.50,418.67 L274.75,418.32 L275.00,419.11 L275.25,418.99 L275.50,418.16 L275.75,418.32 L276.00,418.47 L276.25,417.44 L276.50,417.22 L276.75,417.44 L277.00,418.14 L277.25,418.22 L277.50,418.01 L277.75,418.03 L278.00,417.74 L278.25,416.82 L278.50,417.20 L278.75,416.67 L279.00,415.27 L279.25,411.64 L279.50,401.80 L279.75,411.27 L280.00,414.63 L280.25,415.98 L280.50,415.55 L280.75,416.27 L281.00,416.12 L281.25,416.96 L281.50,417.55 L281.75,417.99 L282.00,417.98 L282.25,418.68 L282.50,418.98 L282.75,418.85 L283.00,419.07 L283.25,418.30 L283.50,419.21 L283.75,419.01 L284.00,418.76 L284.25,419.18 L284.50,418.49 L284.75,419.18 L285.00,419.35 L285.25,419.27 L285.50,419.43 L285.75,419.28 L286.00,419.39 L286.25,418.75 L286.50,418.85 L286.75,419.24 L287.00,419.47 L287.25,419.42 L287.50,419.43 L287.75,419.45 L288.00,419.44 L288.25,418.82 L288.50,419.48 L288.75,419.49 L289.00,418.73 L289.25,419.21 L289.50,418.63 L289.75,419.35 L290.00,418.78 L290.25,419.12 L290.50,418.94 L290.75,419.01 L291.00,419.28 L291.25,419.49 L291.50,419.44 L291.75,418.75 L292.00,418.66 L292.25,418.57 L292.50,419.17 L292.75,418.83 L293.00,418.59 L293.25,418.71 L293.50,418.37 L293.75,418.50 L294.00,417.88 L294.25,416.68 L294.50,414.13 L294.75,416.34 L295.00,417.45 L295.25,418.74 L295.50,418.13 L295.75,418.26 L296.00,418.76 L296.25,419.21 L296.50,418.56 L296.75,419.31 L297.00,418.55 L297.25,419.03 L297.50,419.48 L297.75,419.48 L298.00,419.14 L298.25,419.21 L298.50,419.01 L298.75,418.74 L299.00,419.46 L299.25,419.50 L299.50,418.75 L299.75,419.50 L300.00,418.82 L300.25,419.49 L300.50,418.92 L300.75,418.96 L301.00,418.82 L301.25,419.23 L301.50,418.82 L301.75,419.46 L302.00,419.10 L302.25,419.40 L302.50,418.80 L302.75,418.97 L303.00,419.30 L303.25,419.25 L303.50,419.50 L303.75,419.50 L304.00,419.19 L304.25,419.29 L304.50,418.84 L304.75,419.17 L305.00,419.48 L305.25,419.38 L305.50,418.98 L305.75,419.26 L306.00,419.50 L306.25,418.88 L306.50,418.89 L306.75,419.49 L307.00,419.24 L307.25,419.37 L307.50,418.95 L307.75,419.41 L308.00,419.45 L308.25,419.29 L308.50,418.67 L308.75,419.49 L309.00,419.49 L309.25,419.16 L309.50,418.81 L309.75,419.27 L310.00,419.33 L310.25,418.85 L310.50,418.97 L310.75,419.50 L311.00,418.81 L311.25,419.47 L311.50,419.42 L311.75,418.88 L312.00,419.34 L312.25,418.94 L312.50,419.48 L312.75,418.82 L313.00,419.47 L313.25,419.48 L313.50,419.28 L313.75,419.40 L314.00,419.24 L314.25,418.78 L314.50,419.05 L314.75,419.50 L315.00,419.41 L315.25,419.08 L315.50,418.98 L315.75,418.58 L316.00,418.67 L316.25,418.71 L316.50,418.49 L316.75,417.71 L317.00,417.95 L317.25,417.01 L317.50,415.45 L317.75,412.70 L318.00,403.52 L318.25,412.72 L318.50,416.22 L318.75,416.80 L319.00,417.87 L319.25,417.61 L319.50,418.46 L319.75,418.05 L320.00,418.33 L320.25,418.70 L320.50,419.02 L320.75,419.33 L321.00,418.97 L321.25,419.38 L321.50,419.11 L321.75,419.48 L322.00,419.49 L322.25,419.48 L322.50,418.92 L322.75,419.47 L323.00,418.78 L323.25,419.38 L323.50,419.21 L323.75,419.39 L324.00,419.16 L324.25,419.49 L324.50,419.36 L324.75,418.72 L325.00,419.47 L325.25,419.12 L325.50,419.41 L325.75,419.42 L326.00,419.50 L326.25,419.50 L326.50,418.70 L326.75,418.89 L327.00,418.93 L327.25,418.92 L327.50,418.70 L327.75,419.48 L328.00,419.20 L328.25,419.28 L328.50,419.21 L328.75,418.72 L329.00,418.99 L329.25,418.67 L329.50,419.49 L329.75,419.12 L330.00,419.10 L330.25,419.01 L330.50,419.16 L330.75,418.89 L331.00,419.42 L331.25,418.74 L331.50,419.35 L331.75,419.18 L332.00,418.79 L332.25,419.06 L332.50,419.42 L332.75,419.45 L333.00,419.41 L333.25,419.15 L333.50,418.62 L333.75,418.78 L334.00,419.36 L334.25,419.32 L334.50,418.82 L334.75,419.29 L335.00,419.15 L335.25,419.24 L335.50,419.15 L335.75,418.86 L336.00,418.60 L336.25,418.56 L336.50,418.50 L336.75,417.21 L337.00,416.18 L337.25,414.68 L337.50,417.28 L337.75,417.48 L338.00,417.89 L338.25,418.20 L338.50,418.74 L338.75,419.06 L339.00,419.20 L339.25,419.19 L339.50,419.25 L339.75,418.57 L340.00,418.66 L340.25,418.87 L340.50,419.38 L340.75,419.33 L341.00,419.27 L341.25,418.53 L341.50,419.27 L341.75,418.70 L342.00,418.79 L342.25,418.87 L342.50,418.24 L342.75,418.89 L343.00,418.58 L343.25,418.63 L343.50,418.43 L343.75,418.14 L344.00,417.68 L344.25,417.47 L344.50,417.93 L344.75,417.40 L345.00,418.46 L345.25,418.03 L345.50,418.44 L345.75,418.53 L346.00,418.71 L346.25,418.36 L346.50,418.54 L346.75,418.81 L347.00,419.03 L347.25,418.91 L347.50,418.90 L347.75,419.12 L348.00,419.18 L348.25,419.40 L348.50,418.81 L348.75,419.25 L349.00,419.47 L349.25,419.46 L349.50,418.82 L349.75,419.44 L350.00,419.36 L350.25,419.09 L350.50,418.84 L350.75,419.40 L351.00,419.37 L351.25,419.34 L351.50,419.50 L351.75,418.82 L352.00,419.50 L352.00,419.50 Z" fill="#5a56a0" stroke="#2e2a7c" stroke-width="0.35" stroke-linejoin="round"/>
<line x1="255.0" y1="419.2" x2="352.0" y2="419.2" stroke="#2e2a7c" stroke-width="0.7"/>
<path d="M255.00,441.70 L255.00,441.70 L255.25,441.70 L255.50,441.70 L255.75,441.70 L256.00,441.70 L256.25,441.70 L256.50,441.70 L256.75,441.70 L257.00,441.70 L257.25,441.70 L257.50,441.70 L257.75,441.70 L258.00,441.70 L258.25,441.70 L258.50,441.70 L258.75,441.70 L259.00,441.70 L259.25,441.70 L259.50,441.70 L259.75,441.70 L260.00,441.70 L260.25,441.70 L260.50,441.70 L260.75,441.70 L261.00,441.70 L261.25,441.70 L261.50,441.70 L261.75,441.70 L262.00,441.70 L262.25,441.70 L262.50,441.69 L262.75,441.65 L263.00,441.47 L263.25,441.17 L263.50,441.57 L263.75,441.67 L264.00,441.69 L264.25,441.70 L264.50,441.70 L264.75,441.70 L265.00,441.70 L265.25,441.70 L265.50,441.70 L265.75,441.70 L266.00,441.70 L266.25,441.70 L266.50,441.70 L266.75,441.70 L267.00,441.70 L267.25,441.70 L267.50,441.70 L267.75,441.70 L268.00,441.70 L268.25,441.70 L268.50,441.70 L268.75,441.70 L269.00,441.70 L269.25,441.70 L269.50,441.70 L269.75,441.70 L270.00,441.70 L270.25,441.70 L270.50,441.70 L270.75,441.70 L271.00,441.70 L271.25,441.70 L271.50,441.70 L271.75,441.70 L272.00,441.70 L272.25,441.70 L272.50,441.70 L272.75,441.70 L273.00,441.70 L273.25,441.70 L273.50,441.70 L273.75,441.70 L274.00,441.70 L274.25,441.70 L274.50,441.70 L274.75,441.70 L275.00,441.70 L275.25,441.70 L275.50,441.70 L275.75,441.70 L276.00,441.70 L276.25,441.70 L276.50,441.70 L276.75,441.70 L277.00,441.70 L277.25,441.70 L277.50,441.70 L277.75,441.70 L278.00,441.70 L278.25,441.69 L278.50,441.64 L278.75,441.46 L279.00,440.72 L279.25,437.65 L279.50,424.98 L279.75,437.65 L280.00,440.72 L280.25,441.46 L280.50,441.64 L280.75,441.69 L281.00,441.70 L281.25,441.70 L281.50,441.70 L281.75,441.70 L282.00,441.70 L282.25,441.70 L282.50,441.70 L282.75,441.70 L283.00,441.70 L283.25,441.70 L283.50,441.70 L283.75,441.70 L284.00,441.70 L284.25,441.70 L284.50,441.70 L284.75,441.70 L285.00,441.70 L285.25,441.70 L285.50,441.70 L285.75,441.70 L286.00,441.70 L286.25,441.70 L286.50,441.70 L286.75,441.70 L287.00,441.70 L287.25,441.70 L287.50,441.70 L287.75,441.70 L288.00,441.70 L288.25,441.70 L288.50,441.70 L288.75,441.70 L289.00,441.70 L289.25,441.70 L289.50,441.70 L289.75,441.70 L290.00,441.70 L290.25,441.70 L290.50,441.70 L290.75,441.70 L291.00,441.70 L291.25,441.70 L291.50,441.70 L291.75,441.70 L292.00,441.70 L292.25,441.70 L292.50,441.70 L292.75,441.70 L293.00,441.70 L293.25,441.70 L293.50,441.69 L293.75,441.68 L294.00,441.64 L294.25,441.52 L294.50,441.17 L294.75,441.52 L295.00,441.64 L295.25,441.68 L295.50,441.69 L295.75,441.70 L296.00,441.70 L296.25,441.70 L296.50,441.70 L296.75,441.70 L297.00,441.70 L297.25,441.70 L297.50,441.70 L297.75,441.70 L298.00,441.70 L298.25,441.70 L298.50,441.70 L298.75,441.70 L299.00,441.70 L299.25,441.70 L299.50,441.70 L299.75,441.70 L300.00,441.70 L300.25,441.70 L300.50,441.70 L300.75,441.70 L301.00,441.70 L301.25,441.70 L301.50,441.70 L301.75,441.70 L302.00,441.70 L302.25,441.70 L302.50,441.70 L302.75,441.70 L303.00,441.70 L303.25,441.70 L303.50,441.70 L303.75,441.70 L304.00,441.70 L304.25,441.70 L304.50,441.70 L304.75,441.70 L305.00,441.70 L305.25,441.70 L305.50,441.70 L305.75,441.70 L306.00,441.70 L306.25,441.70 L306.50,441.70 L306.75,441.70 L307.00,441.70 L307.25,441.70 L307.50,441.70 L307.75,441.70 L308.00,441.70 L308.25,441.70 L308.50,441.70 L308.75,441.70 L309.00,441.70 L309.25,441.70 L309.50,441.70 L309.75,441.70 L310.00,441.70 L310.25,441.70 L310.50,441.70 L310.75,441.70 L311.00,441.70 L311.25,441.70 L311.50,441.70 L311.75,441.70 L312.00,441.70 L312.25,441.70 L312.50,441.70 L312.75,441.70 L313.00,441.70 L313.25,441.70 L313.50,441.70 L313.75,441.70 L314.00,441.70 L314.25,441.70 L314.50,441.70 L314.75,441.70 L315.00,441.70 L315.25,441.70 L315.50,441.70 L315.75,441.70 L316.00,441.70 L316.25,441.70 L316.50,441.70 L316.75,441.69 L317.00,441.67 L317.25,441.57 L317.50,441.16 L317.75,439.48 L318.00,432.55 L318.25,439.48 L318.50,441.16 L318.75,441.57 L319.00,441.67 L319.25,441.69 L319.50,441.70 L319.75,441.70 L320.00,441.70 L320.25,441.70 L320.50,441.70 L320.75,441.70 L321.00,441.70 L321.25,441.70 L321.50,441.70 L321.75,441.70 L322.00,441.70 L322.25,441.70 L322.50,441.70 L322.75,441.70 L323.00,441.70 L323.25,441.70 L323.50,441.70 L323.75,441.70 L324.00,441.70 L324.25,441.70 L324.50,441.70 L324.75,441.70 L325.00,441.70 L325.25,441.70 L325.50,441.70 L325.75,441.70 L326.00,441.70 L326.25,441.70 L326.50,441.70 L326.75,441.70 L327.00,441.70 L327.25,441.70 L327.50,441.70 L327.75,441.70 L328.00,441.70 L328.25,441.70 L328.50,441.70 L328.75,441.70 L329.00,441.70 L329.25,441.70 L329.50,441.70 L329.75,441.70 L330.00,441.70 L330.25,441.70 L330.50,441.70 L330.75,441.70 L331.00,441.70 L331.25,441.70 L331.50,441.70 L331.75,441.70 L332.00,441.70 L332.25,441.70 L332.50,441.70 L332.75,441.70 L333.00,441.70 L333.25,441.70 L333.50,441.70 L333.75,441.70 L334.00,441.70 L334.25,441.70 L334.50,441.70 L334.75,441.70 L335.00,441.70 L335.25,441.70 L335.50,441.70 L335.75,441.70 L336.00,441.70 L336.25,441.70 L336.50,441.70 L336.75,441.70 L337.00,441.70 L337.25,441.70 L337.50,441.70 L337.75,441.70 L338.00,441.70 L338.25,441.70 L338.50,441.70 L338.75,441.70 L339.00,441.70 L339.25,441.70 L339.50,441.70 L339.75,441.70 L340.00,441.70 L340.25,441.70 L340.50,441.70 L340.75,441.70 L341.00,441.70 L341.25,441.70 L341.50,441.70 L341.75,441.70 L342.00,441.70 L342.25,441.70 L342.50,441.70 L342.75,441.70 L343.00,441.70 L343.25,441.70 L343.50,441.70 L343.75,441.70 L344.00,441.70 L344.25,441.70 L344.50,441.70 L344.75,441.70 L345.00,441.70 L345.25,441.70 L345.50,441.70 L345.75,441.70 L346.00,441.70 L346.25,441.70 L346.50,441.70 L346.75,441.70 L347.00,441.70 L347.25,441.70 L347.50,441.70 L347.75,441.70 L348.00,441.70 L348.25,441.70 L348.50,441.70 L348.75,441.70 L349.00,441.70 L349.25,441.70 L349.50,441.70 L349.75,441.70 L350.00,441.70 L350.25,441.70 L350.50,441.70 L350.75,441.70 L351.00,441.70 L351.25,441.70 L351.50,441.70 L351.75,441.70 L352.00,441.70 L352.00,441.70 Z" fill="#8cbc8c" stroke="#4a944a" stroke-width="0.35" stroke-linejoin="round"/>
<line x1="255.0" y1="441.4" x2="352.0" y2="441.4" stroke="#4a944a" stroke-width="0.7"/>
<path d="M385.80,374.90 L385.80,374.20 L386.05,374.15 L386.30,374.64 L386.55,374.82 L386.80,374.90 L387.05,374.41 L387.30,374.66 L387.55,374.26 L387.80,374.75 L388.05,374.24 L388.30,374.82 L388.55,374.19 L388.81,374.31 L389.06,374.71 L389.31,374.58 L389.56,374.39 L389.81,374.86 L390.06,374.56 L390.31,374.18 L390.56,374.82 L390.81,374.19 L391.06,374.38 L391.31,374.11 L391.56,374.77 L391.81,374.89 L392.06,374.19 L392.31,374.18 L392.56,374.68 L392.81,374.89 L393.06,374.86 L393.31,374.45 L393.56,374.80 L393.81,373.90 L394.06,374.52 L394.31,374.85 L394.56,374.42 L394.82,374.75 L395.07,373.94 L395.32,373.98 L395.57,374.61 L395.82,374.44 L396.07,374.36 L396.32,374.18 L396.57,373.84 L396.82,374.90 L397.07,374.75 L397.32,374.50 L397.57,374.79 L397.82,374.51 L398.07,374.89 L398.32,374.04 L398.57,374.59 L398.82,374.88 L399.07,374.41 L399.32,374.79 L399.57,374.85 L399.82,374.64 L400.07,374.87 L400.32,374.85 L400.57,374.07 L400.83,374.35 L401.08,374.89 L401.33,374.22 L401.58,374.89 L401.83,374.77 L402.08,373.98 L402.33,374.46 L402.58,374.78 L402.83,374.56 L403.08,374.34 L403.33,374.27 L403.58,372.96 L403.83,373.83 L404.08,373.41 L404.33,372.74 L404.58,372.90 L404.83,371.66 L405.08,372.13 L405.33,370.20 L405.58,368.49 L405.83,366.19 L406.08,368.95 L406.33,370.95 L406.58,370.98 L406.84,371.24 L407.09,371.63 L407.34,371.49 L407.59,371.22 L407.84,372.23 L408.09,372.91 L408.34,372.72 L408.59,373.62 L408.84,373.75 L409.09,373.55 L409.34,374.27 L409.59,374.37 L409.84,374.41 L410.09,374.09 L410.34,374.37 L410.59,374.48 L410.84,374.36 L411.09,373.67 L411.34,374.58 L411.59,374.49 L411.84,373.85 L412.09,374.32 L412.34,374.65 L412.59,374.48 L412.85,374.47 L413.10,374.69 L413.35,374.55 L413.60,374.59 L413.85,373.98 L414.10,374.57 L414.35,374.19 L414.60,373.62 L414.85,373.72 L415.10,374.49 L415.35,374.24 L415.60,374.51 L415.85,374.44 L416.10,374.34 L416.35,373.90 L416.60,373.61 L416.85,374.48 L417.10,374.56 L417.35,374.32 L417.60,374.52 L417.85,374.51 L418.10,373.84 L418.35,374.47 L418.61,373.89 L418.86,374.30 L419.11,373.45 L419.36,373.60 L419.61,374.38 L419.86,374.32 L420.11,373.37 L420.36,373.96 L420.61,374.20 L420.86,373.75 L421.11,373.71 L421.36,374.19 L421.61,374.23 L421.86,374.48 L422.11,374.36 L422.36,374.50 L422.61,374.11 L422.86,374.15 L423.11,374.54 L423.36,374.14 L423.61,374.58 L423.86,374.59 L424.11,374.13 L424.36,374.07 L424.62,373.06 L424.87,373.14 L425.12,372.66 L425.37,372.80 L425.62,371.65 L425.87,371.98 L426.12,371.07 L426.37,369.96 L426.62,369.08 L426.87,367.64 L427.12,365.59 L427.37,359.92 L427.62,363.76 L427.87,367.12 L428.12,367.28 L428.37,367.65 L428.62,368.14 L428.87,367.03 L429.12,367.81 L429.37,369.35 L429.62,369.97 L429.87,371.40 L430.12,371.43 L430.37,371.70 L430.63,373.22 L430.88,372.63 L431.13,373.77 L431.38,373.11 L431.63,373.96 L431.88,373.14 L432.13,374.07 L432.38,373.44 L432.63,374.47 L432.88,374.56 L433.13,373.93 L433.38,374.30 L433.63,374.52 L433.88,374.84 L434.13,374.81 L434.38,374.69 L434.63,374.84 L434.88,373.75 L435.13,374.16 L435.38,373.79 L435.63,374.21 L435.88,374.59 L436.13,374.68 L436.38,374.07 L436.64,374.61 L436.89,374.25 L437.14,374.30 L437.39,374.22 L437.64,374.43 L437.89,374.37 L438.14,374.00 L438.39,374.21 L438.64,373.79 L438.89,373.93 L439.14,373.63 L439.39,373.06 L439.64,372.03 L439.89,371.44 L440.14,371.20 L440.39,371.15 L440.64,370.70 L440.89,369.89 L441.14,370.24 L441.39,369.79 L441.64,368.60 L441.89,366.42 L442.14,361.32 L442.39,359.18 L442.65,365.47 L442.90,368.58 L443.15,369.96 L443.40,370.78 L443.65,371.35 L443.90,371.91 L444.15,371.46 L444.40,372.67 L444.65,372.97 L444.90,373.32 L445.15,373.86 L445.40,374.02 L445.65,374.74 L445.90,374.41 L446.15,373.85 L446.40,374.87 L446.65,374.47 L446.90,374.73 L447.15,374.89 L447.40,374.90 L447.65,374.26 L447.90,374.88 L448.15,374.34 L448.41,374.89 L448.66,374.75 L448.91,374.90 L449.16,374.57 L449.41,374.22 L449.66,374.84 L449.91,374.55 L450.16,373.96 L450.41,374.80 L450.66,374.65 L450.91,374.32 L451.16,374.07 L451.41,374.87 L451.66,374.42 L451.91,374.88 L452.16,374.89 L452.41,373.83 L452.66,374.90 L452.91,373.97 L453.16,374.28 L453.41,374.39 L453.66,374.28 L453.91,374.36 L454.16,374.70 L454.42,374.54 L454.67,374.68 L454.92,373.87 L455.17,373.97 L455.42,373.91 L455.67,374.49 L455.92,374.08 L456.17,374.30 L456.42,373.55 L456.67,373.42 L456.92,372.60 L457.17,372.59 L457.42,373.07 L457.67,373.29 L457.92,374.19 L458.17,373.96 L458.42,374.45 L458.67,374.38 L458.92,374.57 L459.17,373.64 L459.42,374.67 L459.67,373.78 L459.92,373.76 L460.17,374.58 L460.43,374.06 L460.68,374.85 L460.93,374.87 L461.18,374.90 L461.43,374.89 L461.68,374.90 L461.93,374.14 L462.18,374.89 L462.43,374.51 L462.68,374.82 L462.93,374.88 L463.18,374.71 L463.43,374.86 L463.68,373.85 L463.93,374.74 L464.18,374.51 L464.43,374.55 L464.68,374.47 L464.93,374.65 L465.18,374.82 L465.43,374.88 L465.68,374.03 L465.93,374.86 L466.18,374.68 L466.44,374.18 L466.69,374.53 L466.94,373.91 L467.19,374.18 L467.44,374.61 L467.69,374.88 L467.94,374.51 L468.19,374.65 L468.44,374.08 L468.69,374.59 L468.94,374.37 L469.19,374.17 L469.44,374.66 L469.69,374.12 L469.94,374.01 L470.19,374.87 L470.44,373.97 L470.69,374.06 L470.94,374.09 L471.19,374.77 L471.44,374.83 L471.69,374.88 L471.94,374.75 L472.19,374.09 L472.45,374.75 L472.70,374.90 L472.95,374.80 L473.20,374.89 L473.45,374.47 L473.70,374.25 L473.95,373.95 L474.20,374.89 L474.45,374.74 L474.70,374.88 L474.95,373.98 L475.20,374.12 L475.45,374.60 L475.70,373.89 L475.95,374.57 L476.20,374.17 L476.45,374.34 L476.70,374.10 L476.95,372.80 L477.20,372.75 L477.45,372.79 L477.70,371.97 L477.95,371.95 L478.21,371.27 L478.46,371.42 L478.71,370.58 L478.96,369.05 L479.21,365.32 L479.46,361.64 L479.71,367.24 L479.96,369.01 L480.21,370.10 L480.46,369.88 L480.71,369.77 L480.96,370.28 L481.21,369.91 L481.46,371.23 L481.71,372.34 L481.96,372.79 L482.21,373.42 L482.46,373.33 L482.71,373.17 L482.96,374.17 L483.21,374.26 L483.46,373.93 L483.71,373.62 L483.96,373.90 L484.22,374.32 L484.47,374.59 L484.72,374.23 L484.97,374.47 L485.22,374.02 L485.47,374.42 L485.72,374.22 L485.97,373.82 L486.22,374.46 L486.47,373.98 L486.72,374.81 L486.97,374.90 L487.22,374.04 L487.47,374.90 L487.72,373.81 L487.97,374.67 L488.22,374.90 L488.47,374.82 L488.72,374.33 L488.97,374.74 L489.22,374.47 L489.47,374.89 L489.72,374.13 L489.97,374.75 L490.23,374.13 L490.48,374.88 L490.73,374.41 L490.98,374.66 L491.23,374.72 L491.48,374.90 L491.73,374.59 L491.98,374.12 L492.23,374.89 L492.48,374.68 L492.73,374.90 L492.98,373.81 L493.23,373.86 L493.48,374.39 L493.73,374.64 L493.98,374.87 L494.23,374.83 L494.48,374.26 L494.73,374.08 L494.98,373.66 L495.23,373.89 L495.48,374.46 L495.73,374.56 L495.98,374.26 L496.24,374.41 L496.49,374.16 L496.74,373.57 L496.99,374.13 L497.24,373.21 L497.49,373.61 L497.74,374.05 L497.99,373.28 L498.24,373.22 L498.49,373.02 L498.74,373.13 L498.99,371.86 L499.24,372.83 L499.49,372.99 L499.74,373.18 L499.99,373.07 L500.24,372.88 L500.49,372.61 L500.74,372.31 L500.99,372.10 L501.24,371.78 L501.49,370.77 L501.74,370.17 L501.99,368.74 L502.25,367.31 L502.50,361.94 L502.75,363.29 L503.00,367.97 L503.25,369.19 L503.50,370.98 L503.75,371.77 L504.00,372.27 L504.25,371.79 L504.50,373.05 L504.75,373.29 L505.00,373.47 L505.00,374.90 Z" fill="#e45a60" stroke="#d8262e" stroke-width="0.35" stroke-linejoin="round"/>
<line x1="385.8" y1="374.59999999999997" x2="505.0" y2="374.59999999999997" stroke="#d8262e" stroke-width="0.7"/>
<path d="M385.80,397.30 L385.80,397.23 L386.05,397.29 L386.30,397.03 L386.55,397.30 L386.80,397.12 L387.05,397.22 L387.30,397.30 L387.55,397.14 L387.80,397.30 L388.05,397.18 L388.30,397.30 L388.55,397.29 L388.81,397.19 L389.06,396.87 L389.31,397.29 L389.56,397.27 L389.81,397.05 L390.06,396.73 L390.31,397.09 L390.56,397.20 L390.81,396.70 L391.06,397.30 L391.31,396.83 L391.56,397.25 L391.81,397.29 L392.06,397.29 L392.31,397.24 L392.56,396.88 L392.81,397.28 L393.06,397.09 L393.31,397.04 L393.56,397.21 L393.81,397.11 L394.06,397.30 L394.31,397.30 L394.56,397.27 L394.82,397.01 L395.07,397.18 L395.32,397.24 L395.57,397.08 L395.82,397.17 L396.07,397.24 L396.32,396.90 L396.57,396.99 L396.82,397.26 L397.07,397.09 L397.32,397.13 L397.57,396.81 L397.82,396.96 L398.07,397.25 L398.32,396.69 L398.57,397.29 L398.82,397.19 L399.07,396.94 L399.32,397.29 L399.57,397.15 L399.82,397.30 L400.07,397.02 L400.32,396.93 L400.57,397.09 L400.83,396.81 L401.08,397.24 L401.33,396.99 L401.58,397.08 L401.83,397.09 L402.08,397.15 L402.33,396.78 L402.58,396.60 L402.83,396.97 L403.08,396.77 L403.33,396.99 L403.58,396.62 L403.83,396.60 L404.08,396.17 L404.33,396.28 L404.58,396.56 L404.83,396.39 L405.08,396.03 L405.33,396.05 L405.58,395.52 L405.83,395.21 L406.08,395.77 L406.33,396.13 L406.58,395.99 L406.84,396.51 L407.09,396.60 L407.34,396.64 L407.59,396.33 L407.84,396.88 L408.09,396.82 L408.34,396.81 L408.59,396.57 L408.84,396.70 L409.09,396.71 L409.34,397.19 L409.59,397.19 L409.84,397.22 L410.09,396.80 L410.34,396.72 L410.59,397.29 L410.84,397.28 L411.09,397.27 L411.34,397.27 L411.59,397.15 L411.84,397.08 L412.09,397.26 L412.34,397.30 L412.59,397.19 L412.85,397.21 L413.10,397.10 L413.35,396.72 L413.60,397.00 L413.85,397.13 L414.10,397.06 L414.35,397.01 L414.60,397.30 L414.85,396.79 L415.10,396.91 L415.35,396.82 L415.60,396.90 L415.85,397.20 L416.10,397.20 L416.35,397.29 L416.60,397.05 L416.85,397.30 L417.10,397.30 L417.35,397.27 L417.60,397.28 L417.85,397.23 L418.10,397.30 L418.35,397.30 L418.61,397.29 L418.86,397.29 L419.11,397.22 L419.36,397.30 L419.61,396.82 L419.86,397.06 L420.11,397.29 L420.36,397.26 L420.61,397.22 L420.86,397.22 L421.11,397.29 L421.36,396.84 L421.61,396.68 L421.86,397.16 L422.11,397.15 L422.36,397.30 L422.61,397.29 L422.86,397.23 L423.11,397.26 L423.36,396.86 L423.61,397.28 L423.86,397.21 L424.11,396.28 L424.36,396.32 L424.62,396.13 L424.87,395.60 L425.12,395.42 L425.37,394.86 L425.62,394.03 L425.87,393.66 L426.12,393.08 L426.37,392.47 L426.62,391.31 L426.87,389.83 L427.12,387.11 L427.37,383.47 L427.62,385.87 L427.87,388.28 L428.12,389.45 L428.37,389.65 L428.62,389.55 L428.87,389.53 L429.12,389.16 L429.37,388.44 L429.62,387.40 L429.87,386.00 L430.12,386.03 L430.37,388.20 L430.63,389.76 L430.88,390.85 L431.13,391.43 L431.38,391.69 L431.63,391.53 L431.88,391.20 L432.13,391.44 L432.38,390.61 L432.63,389.89 L432.88,388.88 L433.13,389.48 L433.38,390.82 L433.63,391.78 L433.88,392.51 L434.13,393.07 L434.38,393.12 L434.63,392.98 L434.88,393.09 L435.13,393.37 L435.38,393.16 L435.63,392.74 L435.88,392.74 L436.13,391.92 L436.38,390.91 L436.64,389.96 L436.89,388.42 L437.14,388.80 L437.39,390.46 L437.64,391.11 L437.89,392.01 L438.14,392.03 L438.39,392.02 L438.64,392.57 L438.89,392.50 L439.14,391.34 L439.39,390.68 L439.64,389.89 L439.89,388.49 L440.14,388.34 L440.39,388.57 L440.64,389.11 L440.89,389.70 L441.14,389.23 L441.39,388.55 L441.64,387.75 L441.89,385.90 L442.14,382.00 L442.39,380.89 L442.65,385.46 L442.90,387.37 L443.15,389.20 L443.40,390.29 L443.65,390.64 L443.90,391.68 L444.15,391.83 L444.40,392.34 L444.65,393.11 L444.90,393.29 L445.15,393.38 L445.40,393.37 L445.65,392.99 L445.90,392.30 L446.15,392.46 L446.40,393.46 L446.65,393.62 L446.90,394.57 L447.15,394.90 L447.40,395.13 L447.65,395.08 L447.90,395.70 L448.15,395.46 L448.41,396.00 L448.66,396.13 L448.91,396.27 L449.16,396.58 L449.41,396.59 L449.66,396.82 L449.91,396.96 L450.16,396.68 L450.41,397.18 L450.66,397.15 L450.91,396.96 L451.16,397.10 L451.41,397.23 L451.66,397.13 L451.91,397.10 L452.16,396.91 L452.41,397.29 L452.66,397.10 L452.91,397.26 L453.16,397.25 L453.41,396.92 L453.66,397.08 L453.91,396.98 L454.16,396.76 L454.42,396.54 L454.67,396.88 L454.92,396.71 L455.17,396.72 L455.42,396.64 L455.67,396.43 L455.92,396.51 L456.17,396.34 L456.42,396.22 L456.67,395.57 L456.92,395.47 L457.17,394.73 L457.42,395.10 L457.67,396.02 L457.92,396.12 L458.17,395.92 L458.42,396.17 L458.67,396.70 L458.92,396.78 L459.17,396.74 L459.42,396.92 L459.67,396.95 L459.92,397.05 L460.17,396.83 L460.43,396.78 L460.68,396.72 L460.93,397.27 L461.18,396.97 L461.43,397.02 L461.68,397.29 L461.93,396.81 L462.18,396.71 L462.43,397.27 L462.68,396.73 L462.93,397.20 L463.18,397.15 L463.43,396.68 L463.68,396.86 L463.93,397.28 L464.18,397.18 L464.43,397.13 L464.68,397.23 L464.93,397.28 L465.18,397.24 L465.43,396.97 L465.68,397.30 L465.93,397.11 L466.18,397.18 L466.44,397.30 L466.69,397.23 L466.94,397.05 L467.19,397.13 L467.44,397.30 L467.69,396.69 L467.94,396.91 L468.19,396.70 L468.44,397.29 L468.69,397.26 L468.94,397.30 L469.19,396.92 L469.44,397.25 L469.69,397.29 L469.94,397.19 L470.19,396.77 L470.44,396.88 L470.69,397.26 L470.94,397.29 L471.19,396.76 L471.44,397.09 L471.69,396.99 L471.94,397.29 L472.19,397.30 L472.45,397.00 L472.70,397.19 L472.95,397.30 L473.20,396.74 L473.45,397.05 L473.70,396.89 L473.95,397.30 L474.20,396.84 L474.45,397.30 L474.70,396.83 L474.95,397.17 L475.20,397.23 L475.45,397.11 L475.70,396.74 L475.95,397.19 L476.20,397.17 L476.45,396.96 L476.70,397.05 L476.95,397.03 L477.20,396.97 L477.45,396.93 L477.70,396.84 L477.95,396.74 L478.21,396.66 L478.46,396.24 L478.71,396.41 L478.96,396.08 L479.21,395.87 L479.46,395.55 L479.71,396.07 L479.96,396.31 L480.21,396.53 L480.46,396.32 L480.71,396.57 L480.96,396.81 L481.21,396.75 L481.46,396.40 L481.71,397.00 L481.96,396.63 L482.21,396.99 L482.46,397.00 L482.71,396.76 L482.96,397.16 L483.21,397.14 L483.46,397.00 L483.71,396.69 L483.96,397.23 L484.22,396.86 L484.47,396.98 L484.72,397.04 L484.97,397.20 L485.22,397.22 L485.47,397.30 L485.72,397.29 L485.97,397.30 L486.22,396.95 L486.47,397.26 L486.72,397.28 L486.97,397.30 L487.22,396.85 L487.47,396.82 L487.72,397.02 L487.97,397.25 L488.22,397.26 L488.47,397.25 L488.72,397.17 L488.97,397.28 L489.22,397.17 L489.47,397.26 L489.72,396.71 L489.97,396.70 L490.23,397.11 L490.48,397.26 L490.73,396.71 L490.98,397.24 L491.23,397.22 L491.48,397.30 L491.73,397.21 L491.98,397.16 L492.23,397.14 L492.48,397.27 L492.73,397.14 L492.98,397.30 L493.23,397.26 L493.48,397.29 L493.73,397.20 L493.98,397.30 L494.23,397.30 L494.48,397.24 L494.73,397.26 L494.98,397.08 L495.23,397.12 L495.48,396.91 L495.73,396.90 L495.98,396.76 L496.24,396.51 L496.49,396.81 L496.74,396.75 L496.99,396.10 L497.24,396.60 L497.49,396.18 L497.74,396.13 L497.99,396.26 L498.24,395.68 L498.49,395.44 L498.74,395.49 L498.99,395.14 L499.24,394.63 L499.49,394.48 L499.74,393.63 L499.99,392.73 L500.24,393.08 L500.49,393.58 L500.74,393.87 L500.99,394.29 L501.24,394.11 L501.49,394.35 L501.74,394.31 L501.99,394.46 L502.25,394.26 L502.50,393.86 L502.75,393.15 L503.00,392.20 L503.25,392.96 L503.50,394.06 L503.75,394.61 L504.00,395.06 L504.25,395.38 L504.50,395.82 L504.75,396.18 L505.00,395.93 L505.00,397.30 Z" fill="#3b9bd2" stroke="#1f86c4" stroke-width="0.35" stroke-linejoin="round"/>
<line x1="385.8" y1="397.0" x2="505.0" y2="397.0" stroke="#1f86c4" stroke-width="0.7"/>
<path d="M385.80,419.50 L385.80,419.48 L386.05,419.09 L386.30,419.49 L386.55,419.28 L386.80,419.50 L387.05,419.47 L387.30,419.06 L387.55,419.48 L387.80,419.32 L388.05,419.41 L388.30,419.41 L388.55,419.39 L388.81,419.48 L389.06,419.19 L389.31,419.50 L389.56,419.48 L389.81,419.50 L390.06,419.47 L390.31,419.43 L390.56,419.14 L390.81,419.44 L391.06,419.49 L391.31,419.47 L391.56,419.06 L391.81,419.50 L392.06,419.33 L392.31,419.44 L392.56,419.31 L392.81,419.45 L393.06,419.29 L393.31,419.39 L393.56,419.31 L393.81,419.14 L394.06,419.35 L394.31,419.49 L394.56,419.50 L394.82,419.10 L395.07,419.39 L395.32,419.48 L395.57,419.10 L395.82,419.35 L396.07,419.26 L396.32,419.16 L396.57,419.46 L396.82,419.44 L397.07,419.16 L397.32,419.49 L397.57,419.24 L397.82,419.50 L398.07,419.29 L398.32,419.28 L398.57,419.10 L398.82,419.19 L399.07,419.39 L399.32,419.48 L399.57,419.49 L399.82,419.38 L400.07,419.39 L400.32,419.50 L400.57,419.14 L400.83,419.39 L401.08,419.28 L401.33,419.48 L401.58,419.47 L401.83,419.50 L402.08,419.45 L402.33,419.45 L402.58,419.35 L402.83,419.32 L403.08,419.03 L403.33,418.94 L403.58,419.24 L403.83,419.13 L404.08,419.13 L404.33,418.89 L404.58,418.58 L404.83,418.87 L405.08,418.47 L405.33,418.43 L405.58,418.02 L405.83,417.24 L406.08,418.12 L406.33,418.54 L406.58,418.70 L406.84,418.90 L407.09,418.95 L407.34,419.01 L407.59,419.08 L407.84,419.06 L408.09,419.23 L408.34,419.30 L408.59,419.35 L408.84,419.39 L409.09,419.32 L409.34,419.43 L409.59,419.21 L409.84,419.39 L410.09,419.28 L410.34,419.07 L410.59,419.50 L410.84,419.50 L411.09,419.49 L411.34,419.43 L411.59,419.35 L411.84,419.26 L412.09,419.45 L412.34,419.09 L412.59,419.50 L412.85,419.19 L413.10,419.48 L413.35,419.16 L413.60,419.50 L413.85,419.09 L414.10,419.24 L414.35,419.07 L414.60,419.35 L414.85,419.49 L415.10,419.08 L415.35,419.41 L415.60,419.50 L415.85,419.34 L416.10,419.39 L416.35,419.40 L416.60,419.49 L416.85,419.49 L417.10,419.35 L417.35,419.41 L417.60,419.49 L417.85,419.41 L418.10,419.27 L418.35,419.27 L418.61,419.40 L418.86,419.43 L419.11,419.44 L419.36,419.48 L419.61,419.48 L419.86,419.41 L420.11,419.49 L420.36,419.27 L420.61,419.28 L420.86,419.33 L421.11,419.50 L421.36,419.44 L421.61,419.42 L421.86,419.50 L422.11,419.09 L422.36,419.25 L422.61,419.39 L422.86,419.28 L423.11,419.48 L423.36,419.48 L423.61,419.38 L423.86,419.25 L424.11,419.31 L424.36,419.39 L424.62,418.74 L424.87,418.05 L425.12,417.68 L425.37,417.05 L425.62,416.50 L425.87,416.39 L426.12,415.81 L426.37,415.06 L426.62,413.86 L426.87,412.68 L427.12,409.19 L427.37,401.94 L427.62,407.96 L427.87,411.43 L428.12,412.63 L428.37,413.33 L428.62,413.70 L428.87,413.25 L429.12,413.99 L429.37,415.07 L429.62,415.65 L429.87,416.53 L430.12,417.51 L430.37,418.15 L430.63,418.40 L430.88,418.38 L431.13,418.60 L431.38,418.51 L431.63,418.75 L431.88,418.76 L432.13,418.97 L432.38,419.14 L432.63,419.18 L432.88,419.22 L433.13,419.26 L433.38,419.13 L433.63,419.46 L433.88,419.50 L434.13,419.26 L434.38,419.47 L434.63,419.42 L434.88,419.49 L435.13,419.20 L435.38,419.47 L435.63,419.46 L435.88,419.21 L436.13,419.39 L436.38,419.47 L436.64,419.15 L436.89,419.42 L437.14,419.44 L437.39,419.09 L437.64,419.22 L437.89,419.25 L438.14,419.47 L438.39,419.21 L438.64,419.34 L438.89,419.10 L439.14,419.21 L439.39,418.87 L439.64,418.73 L439.89,418.81 L440.14,418.54 L440.39,418.32 L440.64,417.98 L440.89,417.85 L441.14,417.70 L441.39,417.62 L441.64,416.93 L441.89,416.03 L442.14,414.75 L442.39,414.15 L442.65,415.61 L442.90,416.57 L443.15,417.14 L443.40,417.90 L443.65,418.01 L443.90,418.05 L444.15,418.36 L444.40,418.65 L444.65,418.84 L444.90,418.60 L445.15,418.78 L445.40,419.05 L445.65,419.31 L445.90,419.20 L446.15,419.21 L446.40,419.27 L446.65,419.34 L446.90,419.45 L447.15,419.46 L447.40,419.44 L447.65,419.45 L447.90,419.38 L448.15,419.49 L448.41,419.27 L448.66,419.45 L448.91,419.49 L449.16,419.47 L449.41,419.43 L449.66,419.42 L449.91,419.23 L450.16,419.50 L450.41,419.48 L450.66,419.46 L450.91,419.49 L451.16,419.25 L451.41,419.49 L451.66,419.50 L451.91,419.36 L452.16,419.26 L452.41,419.20 L452.66,419.36 L452.91,419.45 L453.16,419.16 L453.41,419.26 L453.66,419.40 L453.91,419.36 L454.16,419.11 L454.42,419.06 L454.67,419.12 L454.92,419.49 L455.17,419.45 L455.42,419.43 L455.67,419.49 L455.92,419.24 L456.17,419.50 L456.42,419.15 L456.67,419.35 L456.92,419.33 L457.17,419.42 L457.42,419.11 L457.67,419.35 L457.92,419.14 L458.17,419.12 L458.42,419.29 L458.67,419.07 L458.92,419.39 L459.17,419.44 L459.42,419.18 L459.67,419.38 L459.92,419.46 L460.17,419.30 L460.43,419.40 L460.68,419.49 L460.93,419.19 L461.18,419.39 L461.43,419.08 L461.68,419.37 L461.93,419.11 L462.18,419.46 L462.43,419.48 L462.68,419.38 L462.93,419.24 L463.18,419.20 L463.43,419.31 L463.68,419.49 L463.93,419.43 L464.18,419.50 L464.43,419.44 L464.68,419.11 L464.93,419.45 L465.18,419.28 L465.43,419.33 L465.68,419.49 L465.93,419.29 L466.18,419.50 L466.44,419.48 L466.69,419.35 L466.94,419.49 L467.19,419.09 L467.44,419.42 L467.69,419.32 L467.94,419.09 L468.19,419.49 L468.44,419.06 L468.69,419.50 L468.94,419.34 L469.19,419.31 L469.44,419.07 L469.69,419.44 L469.94,419.10 L470.19,419.31 L470.44,419.40 L470.69,419.49 L470.94,419.48 L471.19,419.44 L471.44,419.45 L471.69,419.44 L471.94,419.21 L472.19,419.44 L472.45,419.33 L472.70,419.50 L472.95,419.49 L473.20,419.28 L473.45,419.15 L473.70,419.46 L473.95,419.50 L474.20,419.48 L474.45,419.44 L474.70,419.44 L474.95,419.36 L475.20,419.46 L475.45,419.31 L475.70,419.23 L475.95,419.23 L476.20,419.19 L476.45,419.21 L476.70,419.25 L476.95,418.89 L477.20,419.08 L477.45,418.71 L477.70,418.86 L477.95,418.67 L478.21,418.62 L478.46,418.37 L478.71,418.26 L478.96,417.72 L479.21,416.83 L479.46,416.29 L479.71,417.34 L479.96,418.01 L480.21,418.34 L480.46,418.58 L480.71,418.65 L480.96,418.67 L481.21,418.98 L481.46,419.06 L481.71,418.86 L481.96,419.23 L482.21,419.04 L482.46,419.14 L482.71,419.45 L482.96,419.32 L483.21,419.47 L483.46,419.16 L483.71,419.48 L483.96,419.49 L484.22,419.50 L484.47,419.27 L484.72,419.48 L484.97,419.46 L485.22,419.08 L485.47,419.26 L485.72,419.26 L485.97,419.35 L486.22,419.32 L486.47,419.50 L486.72,419.21 L486.97,419.45 L487.22,419.18 L487.47,419.42 L487.72,419.13 L487.97,419.50 L488.22,419.07 L488.47,419.50 L488.72,419.38 L488.97,419.40 L489.22,419.07 L489.47,419.27 L489.72,419.07 L489.97,419.14 L490.23,419.42 L490.48,419.49 L490.73,419.49 L490.98,419.28 L491.23,419.10 L491.48,419.30 L491.73,419.45 L491.98,419.34 L492.23,419.31 L492.48,419.47 L492.73,419.29 L492.98,419.48 L493.23,419.50 L493.48,419.50 L493.73,419.39 L493.98,419.29 L494.23,419.48 L494.48,419.43 L494.73,419.29 L494.98,419.47 L495.23,419.38 L495.48,419.34 L495.73,419.43 L495.98,419.48 L496.24,419.29 L496.49,419.28 L496.74,419.48 L496.99,419.21 L497.24,419.31 L497.49,419.17 L497.74,419.23 L497.99,419.39 L498.24,419.27 L498.49,419.45 L498.74,419.26 L498.99,419.35 L499.24,419.20 L499.49,419.05 L499.74,418.71 L499.99,418.75 L500.24,418.48 L500.49,418.40 L500.74,418.18 L500.99,418.27 L501.24,418.08 L501.49,417.90 L501.74,417.62 L501.99,416.85 L502.25,416.20 L502.50,415.19 L502.75,415.41 L503.00,416.50 L503.25,417.00 L503.50,417.55 L503.75,418.03 L504.00,418.08 L504.25,418.33 L504.50,418.59 L504.75,418.66 L505.00,418.43 L505.00,419.50 Z" fill="#3f3b8a" stroke="#2e2a7c" stroke-width="0.35" stroke-linejoin="round"/>
<line x1="385.8" y1="419.2" x2="505.0" y2="419.2" stroke="#2e2a7c" stroke-width="0.7"/>
<path d="M385.80,441.70 L385.80,441.70 L386.05,441.70 L386.30,441.70 L386.55,441.70 L386.80,441.70 L387.05,441.70 L387.30,441.70 L387.55,441.70 L387.80,441.70 L388.05,441.70 L388.30,441.70 L388.55,441.70 L388.81,441.70 L389.06,441.70 L389.31,441.70 L389.56,441.70 L389.81,441.70 L390.06,441.70 L390.31,441.70 L390.56,441.70 L390.81,441.70 L391.06,441.70 L391.31,441.70 L391.56,441.70 L391.81,441.70 L392.06,441.70 L392.31,441.70 L392.56,441.70 L392.81,441.70 L393.06,441.70 L393.31,441.70 L393.56,441.70 L393.81,441.70 L394.06,441.70 L394.31,441.70 L394.56,441.70 L394.82,441.70 L395.07,441.70 L395.32,441.70 L395.57,441.70 L395.82,441.70 L396.07,441.70 L396.32,441.70 L396.57,441.70 L396.82,441.70 L397.07,441.70 L397.32,441.70 L397.57,441.70 L397.82,441.70 L398.07,441.70 L398.32,441.70 L398.57,441.70 L398.82,441.70 L399.07,441.70 L399.32,441.70 L399.57,441.70 L399.82,441.70 L400.07,441.70 L400.32,441.70 L400.57,441.70 L400.83,441.70 L401.08,441.70 L401.33,441.70 L401.58,441.70 L401.83,441.70 L402.08,441.70 L402.33,441.70 L402.58,441.70 L402.83,441.70 L403.08,441.70 L403.33,441.70 L403.58,441.70 L403.83,441.70 L404.08,441.70 L404.33,441.70 L404.58,441.70 L404.83,441.70 L405.08,441.70 L405.33,441.70 L405.58,441.70 L405.83,441.70 L406.08,441.70 L406.33,441.70 L406.58,441.70 L406.84,441.70 L407.09,441.70 L407.34,441.70 L407.59,441.70 L407.84,441.70 L408.09,441.70 L408.34,441.70 L408.59,441.70 L408.84,441.70 L409.09,441.70 L409.34,441.70 L409.59,441.70 L409.84,441.70 L410.09,441.70 L410.34,441.70 L410.59,441.70 L410.84,441.70 L411.09,441.70 L411.34,441.70 L411.59,441.70 L411.84,441.70 L412.09,441.70 L412.34,441.70 L412.59,441.70 L412.85,441.70 L413.10,441.70 L413.35,441.70 L413.60,441.70 L413.85,441.70 L414.10,441.70 L414.35,441.70 L414.60,441.70 L414.85,441.70 L415.10,441.70 L415.35,441.70 L415.60,441.70 L415.85,441.70 L416.10,441.70 L416.35,441.70 L416.60,441.70 L416.85,441.70 L417.10,441.70 L417.35,441.70 L417.60,441.70 L417.85,441.70 L418.10,441.70 L418.35,441.70 L418.61,441.70 L418.86,441.70 L419.11,441.70 L419.36,441.70 L419.61,441.70 L419.86,441.70 L420.11,441.70 L420.36,441.70 L420.61,441.70 L420.86,441.70 L421.11,441.70 L421.36,441.70 L421.61,441.70 L421.86,441.70 L422.11,441.70 L422.36,441.70 L422.61,441.70 L422.86,441.70 L423.11,441.70 L423.36,441.70 L423.61,441.70 L423.86,441.70 L424.11,441.70 L424.36,441.59 L424.62,441.16 L424.87,440.74 L425.12,440.31 L425.37,439.88 L425.62,439.44 L425.87,438.99 L426.12,438.51 L426.37,437.93 L426.62,437.11 L426.87,435.67 L427.12,432.63 L427.37,425.48 L427.62,431.43 L427.87,435.14 L428.12,436.84 L428.37,437.76 L428.62,438.38 L428.87,438.88 L429.12,439.34 L429.37,439.77 L429.62,440.20 L429.87,440.63 L430.12,441.06 L430.37,441.49 L430.63,441.70 L430.88,441.70 L431.13,441.70 L431.38,441.70 L431.63,441.70 L431.88,441.70 L432.13,441.70 L432.38,441.70 L432.63,441.70 L432.88,441.70 L433.13,441.70 L433.38,441.70 L433.63,441.70 L433.88,441.70 L434.13,441.70 L434.38,441.70 L434.63,441.70 L434.88,441.70 L435.13,441.70 L435.38,441.70 L435.63,441.70 L435.88,441.70 L436.13,441.70 L436.38,441.70 L436.64,441.70 L436.89,441.70 L437.14,441.70 L437.39,441.70 L437.64,441.70 L437.89,441.70 L438.14,441.70 L438.39,441.70 L438.64,441.70 L438.89,441.70 L439.14,441.70 L439.39,441.38 L439.64,440.95 L439.89,440.52 L440.14,440.09 L440.39,439.66 L440.64,439.22 L440.89,438.76 L441.14,438.24 L441.39,437.56 L441.64,436.51 L441.89,434.45 L442.14,429.84 L442.39,427.98 L442.65,433.67 L442.90,436.14 L443.15,437.36 L443.40,438.09 L443.65,438.64 L443.90,439.11 L444.15,439.56 L444.40,439.99 L444.65,440.42 L444.90,440.85 L445.15,441.27 L445.40,441.70 L445.65,441.70 L445.90,441.70 L446.15,441.70 L446.40,441.70 L446.65,441.70 L446.90,441.70 L447.15,441.70 L447.40,441.70 L447.65,441.70 L447.90,441.70 L448.15,441.70 L448.41,441.70 L448.66,441.70 L448.91,441.70 L449.16,441.70 L449.41,441.70 L449.66,441.70 L449.91,441.70 L450.16,441.70 L450.41,441.70 L450.66,441.70 L450.91,441.70 L451.16,441.70 L451.41,441.70 L451.66,441.70 L451.91,441.70 L452.16,441.70 L452.41,441.70 L452.66,441.70 L452.91,441.70 L453.16,441.70 L453.41,441.70 L453.66,441.70 L453.91,441.70 L454.16,441.69 L454.42,441.68 L454.67,441.67 L454.92,441.65 L455.17,441.64 L455.42,441.63 L455.67,441.62 L455.92,441.60 L456.17,441.58 L456.42,441.55 L456.67,441.51 L456.92,441.41 L457.17,441.21 L457.42,441.38 L457.67,441.49 L457.92,441.55 L458.17,441.58 L458.42,441.60 L458.67,441.61 L458.92,441.63 L459.17,441.64 L459.42,441.65 L459.67,441.66 L459.92,441.68 L460.17,441.69 L460.43,441.70 L460.68,441.70 L460.93,441.70 L461.18,441.70 L461.43,441.70 L461.68,441.70 L461.93,441.70 L462.18,441.70 L462.43,441.70 L462.68,441.70 L462.93,441.70 L463.18,441.70 L463.43,441.70 L463.68,441.70 L463.93,441.70 L464.18,441.70 L464.43,441.70 L464.68,441.70 L464.93,441.70 L465.18,441.70 L465.43,441.70 L465.68,441.70 L465.93,441.70 L466.18,441.70 L466.44,441.70 L466.69,441.70 L466.94,441.70 L467.19,441.70 L467.44,441.70 L467.69,441.70 L467.94,441.70 L468.19,441.70 L468.44,441.70 L468.69,441.70 L468.94,441.70 L469.19,441.70 L469.44,441.70 L469.69,441.70 L469.94,441.70 L470.19,441.70 L470.44,441.70 L470.69,441.70 L470.94,441.70 L471.19,441.70 L471.44,441.70 L471.69,441.70 L471.94,441.70 L472.19,441.70 L472.45,441.70 L472.70,441.70 L472.95,441.70 L473.20,441.70 L473.45,441.70 L473.70,441.70 L473.95,441.70 L474.20,441.70 L474.45,441.70 L474.70,441.70 L474.95,441.70 L475.20,441.70 L475.45,441.70 L475.70,441.70 L475.95,441.70 L476.20,441.70 L476.45,441.44 L476.70,441.01 L476.95,440.59 L477.20,440.16 L477.45,439.73 L477.70,439.29 L477.95,438.83 L478.21,438.32 L478.46,437.68 L478.71,436.71 L478.96,434.87 L479.21,430.81 L479.46,426.59 L479.71,433.09 L479.96,435.87 L480.21,437.22 L480.46,438.00 L480.71,438.56 L480.96,439.04 L481.21,439.49 L481.46,439.92 L481.71,440.35 L481.96,440.78 L482.21,441.21 L482.46,441.64 L482.71,441.70 L482.96,441.70 L483.21,441.70 L483.46,441.70 L483.71,441.70 L483.96,441.70 L484.22,441.70 L484.47,441.70 L484.72,441.70 L484.97,441.70 L485.22,441.70 L485.47,441.70 L485.72,441.70 L485.97,441.70 L486.22,441.70 L486.47,441.70 L486.72,441.70 L486.97,441.70 L487.22,441.70 L487.47,441.70 L487.72,441.70 L487.97,441.70 L488.22,441.70 L488.47,441.70 L488.72,441.70 L488.97,441.70 L489.22,441.70 L489.47,441.70 L489.72,441.70 L489.97,441.70 L490.23,441.70 L490.48,441.70 L490.73,441.70 L490.98,441.70 L491.23,441.70 L491.48,441.70 L491.73,441.70 L491.98,441.70 L492.23,441.70 L492.48,441.70 L492.73,441.70 L492.98,441.70 L493.23,441.70 L493.48,441.70 L493.73,441.70 L493.98,441.70 L494.23,441.70 L494.48,441.70 L494.73,441.70 L494.98,441.70 L495.23,441.70 L495.48,441.70 L495.73,441.70 L495.98,441.70 L496.24,441.70 L496.49,441.70 L496.74,441.70 L496.99,441.70 L497.24,441.70 L497.49,441.70 L497.74,441.70 L497.99,441.70 L498.24,441.70 L498.49,441.70 L498.74,441.70 L498.99,441.70 L499.24,441.69 L499.49,441.62 L499.74,441.55 L499.99,441.48 L500.24,441.41 L500.49,441.33 L500.74,441.26 L500.99,441.18 L501.24,441.08 L501.49,440.96 L501.74,440.79 L501.99,440.52 L502.25,440.04 L502.50,439.13 L502.75,439.33 L503.00,440.14 L503.25,440.58 L503.50,440.83 L503.75,440.98 L504.00,441.10 L504.25,441.19 L504.50,441.27 L504.75,441.35 L505.00,441.42 L505.00,441.70 Z" fill="#3f8f3f" stroke="#2f7f2f" stroke-width="0.35" stroke-linejoin="round"/>
<line x1="385.8" y1="441.4" x2="505.0" y2="441.4" stroke="#2f7f2f" stroke-width="0.7"/>
<rect x="270.5" y="343.8" width="74.1" height="5.6" fill="#645cb6" stroke="#3b3590" stroke-width="0.8"/>
<path d="M268.0,346.6 L272.5,342.6 L272.5,350.6 Z" fill="#3b3590" stroke="none" stroke-width="1"/>
<line x1="290.5" y1="343.0" x2="290.5" y2="350.2" stroke="#2d2880" stroke-width="0.8"/>
<line x1="307.5" y1="343.0" x2="307.5" y2="350.2" stroke="#2d2880" stroke-width="0.8"/>
<line x1="344.0" y1="343.0" x2="344.0" y2="350.2" stroke="#2d2880" stroke-width="0.8"/>
<path d="M344.6,346.2 L344.6,338.4 L339.5,338.4" fill="none" stroke="#111" stroke-width="0.9"/>
<path d="M337.5,338.4 L340.5,336.6 L340.5,340.2 Z" fill="#111" stroke="none" stroke-width="1"/>
<text x="325.0" y="341.2" font-size="6.4" text-anchor="middle" fill="#4a46a8" font-weight="normal" font-style="italic" stroke="#4a46a8" stroke-width="0.15">CDK6</text>
<rect x="409.8" y="343.2" width="92.4" height="5.4" fill="#aaa4dc" stroke="#4a44a0" stroke-width="0.8"/>
<line x1="410.5" y1="344.3" x2="501.8" y2="344.3" stroke="#6e68c2" stroke-width="0.35"/>
<line x1="410.5" y1="345.40000000000003" x2="501.8" y2="345.40000000000003" stroke="#6e68c2" stroke-width="0.35"/>
<line x1="410.5" y1="346.5" x2="501.8" y2="346.5" stroke="#6e68c2" stroke-width="0.35"/>
<line x1="410.5" y1="347.6" x2="501.8" y2="347.6" stroke="#6e68c2" stroke-width="0.35"/>
<rect x="409.4" y="342.8" width="1.8" height="6.2" fill="#2d2880" stroke="none" stroke-width="1"/>
<rect x="452.0" y="342.6" width="2.6" height="6.6" fill="#4a44a0" stroke="none" stroke-width="1"/>
<rect x="499.4" y="342.6" width="2.8" height="6.6" fill="#4a44a0" stroke="none" stroke-width="1"/>
<path d="M502.4,345.5 L502.4,338.6 L497.0,338.6" fill="none" stroke="#111" stroke-width="0.9"/>
<path d="M495.0,338.6 L498.0,336.8 L498.0,340.4 Z" fill="#111" stroke="none" stroke-width="1"/>
<text x="480.4" y="341.2" font-size="6.6" text-anchor="middle" fill="#4a46a8" font-weight="normal" font-style="italic" stroke="#4a46a8" stroke-width="0.15">BCL2L1</text>
<rect x="44.7" y="559.6" width="9.037575" height="4.600000000000023" fill="#dc2f36" stroke="none" stroke-width="1"/>
<rect x="53.437575" y="559.6" width="9.037575" height="4.600000000000023" fill="#e2434a" stroke="none" stroke-width="1"/>
<rect x="62.17515" y="559.6" width="9.037575" height="4.600000000000023" fill="#e85a5e" stroke="none" stroke-width="1"/>
<rect x="70.912725" y="559.6" width="9.037575" height="4.600000000000023" fill="#ec6d70" stroke="none" stroke-width="1"/>
<rect x="79.6503" y="559.6" width="4.750600000000003" height="4.600000000000023" fill="#f1a9c6" stroke="none" stroke-width="1"/>
<rect x="84.1009" y="559.6" width="4.750599999999996" height="4.600000000000023" fill="#e9c6e0" stroke="none" stroke-width="1"/>
<rect x="88.5515" y="559.6" width="45.460499999999996" height="4.600000000000023" fill="#d3d1ec" stroke="none" stroke-width="1"/>
<rect x="133.712" y="559.6" width="6.84499999999999" height="4.600000000000023" fill="#a7a0d8" stroke="none" stroke-width="1"/>
<rect x="140.257" y="559.6" width="15.026250000000005" height="4.600000000000023" fill="#5a4db0" stroke="none" stroke-width="1"/>
<rect x="154.98325" y="559.6" width="15.026249999999989" height="4.600000000000023" fill="#3d2c98" stroke="none" stroke-width="1"/>
<rect x="46.7" y="540.6" width="1.0" height="18.99999999999998" fill="#888" stroke="none" stroke-width="1"/>
<rect x="49.2" y="540.6" width="1.0" height="18.99999999999998" fill="#444" stroke="none" stroke-width="1"/>
<rect x="51.7" y="540.6" width="1.0" height="18.99999999999998" fill="#666" stroke="none" stroke-width="1"/>
<rect x="54.199999999999996" y="540.6" width="1.2" height="18.99999999999998" fill="#666" stroke="none" stroke-width="1"/>
<rect x="55.95" y="540.6" width="1.5" height="18.99999999999998" fill="#666" stroke="none" stroke-width="1"/>
<rect x="59.4" y="540.6" width="1.0" height="18.99999999999998" fill="#1a1a1a" stroke="none" stroke-width="1"/>
<rect x="61.199999999999996" y="540.6" width="1.2" height="18.99999999999998" fill="#1a1a1a" stroke="none" stroke-width="1"/>
<rect x="63.699999999999996" y="540.6" width="1.2" height="18.99999999999998" fill="#666" stroke="none" stroke-width="1"/>
<rect x="65.45" y="540.6" width="1.5" height="18.99999999999998" fill="#1a1a1a" stroke="none" stroke-width="1"/>
<rect x="67.95" y="540.6" width="1.5" height="18.99999999999998" fill="#666" stroke="none" stroke-width="1"/>
<rect x="70.7" y="540.6" width="1.2" height="18.99999999999998" fill="#222" stroke="none" stroke-width="1"/>
<rect x="73.75" y="540.6" width="1.5" height="18.99999999999998" fill="#1a1a1a" stroke="none" stroke-width="1"/>
<rect x="76.4" y="540.6" width="1.2" height="18.99999999999998" fill="#1a1a1a" stroke="none" stroke-width="1"/>
<rect x="80.3" y="540.6" width="1.0" height="18.99999999999998" fill="#1a1a1a" stroke="none" stroke-width="1"/>
<rect x="81.25" y="540.6" width="1.5" height="18.99999999999998" fill="#888" stroke="none" stroke-width="1"/>
<rect x="84.7" y="540.6" width="1.0" height="18.99999999999998" fill="#666" stroke="none" stroke-width="1"/>
<rect x="88.25" y="540.6" width="1.5" height="18.99999999999998" fill="#222" stroke="none" stroke-width="1"/>
<rect x="92.30000000000001" y="540.6" width="1.2" height="18.99999999999998" fill="#1a1a1a" stroke="none" stroke-width="1"/>
<rect x="93.35" y="540.6" width="1.5" height="18.99999999999998" fill="#222" stroke="none" stroke-width="1"/>
<rect x="97.30000000000001" y="540.6" width="1.2" height="18.99999999999998" fill="#666" stroke="none" stroke-width="1"/>
<rect x="135.25" y="540.6" width="1.5" height="18.99999999999998" fill="#222" stroke="none" stroke-width="1"/>
<rect x="138.6" y="540.6" width="1.2" height="18.99999999999998" fill="#222" stroke="none" stroke-width="1"/>
<rect x="139.75" y="540.6" width="1.5" height="18.99999999999998" fill="#222" stroke="none" stroke-width="1"/>
<rect x="143.0" y="540.6" width="1.2" height="18.99999999999998" fill="#444" stroke="none" stroke-width="1"/>
<rect x="150.1" y="540.6" width="1.0" height="18.99999999999998" fill="#666" stroke="none" stroke-width="1"/>
<rect x="153.05" y="540.6" width="1.5" height="18.99999999999998" fill="#1a1a1a" stroke="none" stroke-width="1"/>
<rect x="159.6" y="540.6" width="1.0" height="18.99999999999998" fill="#444" stroke="none" stroke-width="1"/>
<rect x="164.1" y="540.6" width="1.0" height="18.99999999999998" fill="#444" stroke="none" stroke-width="1"/>
<rect x="166.35" y="540.6" width="1.5" height="18.99999999999998" fill="#888" stroke="none" stroke-width="1"/>
<line x1="44.7" y1="540.2" x2="175.6" y2="540.2" stroke="#9a9a9a" stroke-width="0.8"/>
<line x1="44.7" y1="530.1" x2="175.6" y2="530.1" stroke="#333" stroke-width="0.9"/>
<path d="M44.9,529.8 L45.5,510.3 L46.8,510.5 L48.0,510.3 L50.0,500.0 L51.5,493.0 L53.0,495.1 L55.0,490.7 L57.0,492.7 L59.0,489.6 L60.2,490.8 L61.5,490.9 L63.0,488.2 L65.0,488.6 L67.0,485.0 L69.0,485.0 L70.5,485.2 L72.0,486.4 L73.2,486.7 L74.5,486.4 L75.8,486.7 L77.0,487.5 L78.3,488.4 L79.7,488.4 L81.0,488.8 L82.3,489.4 L83.7,489.6 L85.0,490.3 L86.2,491.3 L87.4,492.3 L88.6,493.0 L89.8,493.9 L91.1,494.7 L92.3,495.8 L93.5,496.6 L94.7,497.3 L95.9,498.8 L97.1,499.5 L98.3,500.5 L99.5,501.0 L100.7,502.5 L101.9,503.3 L103.2,503.6 L104.4,504.7 L105.6,505.9 L106.8,506.8 L108.0,507.8 L109.2,508.3 L110.5,509.4 L111.7,510.2 L112.9,510.7 L114.1,511.8 L115.4,512.9 L116.6,513.7 L117.8,514.2 L119.0,515.1 L120.3,515.5 L121.5,516.5 L122.7,517.8 L124.0,518.4 L125.2,519.0 L126.4,520.2 L127.6,521.1 L128.9,521.9 L130.1,522.5 L131.3,523.4 L132.5,524.3 L133.8,525.4 L135.0,526.0 L136.2,526.4 L137.5,526.9 L138.8,526.9 L140.0,527.4 L141.2,528.4 L142.5,529.0 L143.8,529.1 L145.0,529.4 L146.2,529.9 L147.5,530.8 L148.8,531.8 L150.0,532.2 L151.2,532.5 L152.5,533.3 L153.8,533.3 L155.0,534.0 L156.2,534.9 L157.5,535.1 L158.8,535.5 L160.0,535.8 L161.5,536.5 L163.0,537.4 L164.5,537.1 L166.0,535.5 L167.5,533.3 L168.0,529.8 L169.5,529.5" fill="none" stroke="#4aa64f" stroke-width="0.85" stroke-linejoin="round"/>
<rect x="44.7" y="481.5" width="130.89999999999998" height="82.70000000000005" fill="none" stroke="#1a1a1a" stroke-width="1.3"/>
<text x="42.300000000000004" y="487.15000000000003" font-size="6.6" text-anchor="end" fill="#333" font-weight="normal" font-style="normal" stroke="#333" stroke-width="0.15">0.5</text>
<text x="42.300000000000004" y="496.20000000000005" font-size="6.6" text-anchor="end" fill="#333" font-weight="normal" font-style="normal" stroke="#333" stroke-width="0.15">0.4</text>
<text x="42.300000000000004" y="505.25000000000006" font-size="6.6" text-anchor="end" fill="#333" font-weight="normal" font-style="normal" stroke="#333" stroke-width="0.15">0.3</text>
<text x="42.300000000000004" y="514.3" font-size="6.6" text-anchor="end" fill="#333" font-weight="normal" font-style="normal" stroke="#333" stroke-width="0.15">0.2</text>
<text x="42.300000000000004" y="523.35" font-size="6.6" text-anchor="end" fill="#333" font-weight="normal" font-style="normal" stroke="#333" stroke-width="0.15">0.1</text>
<text x="42.300000000000004" y="532.4" font-size="6.6" text-anchor="end" fill="#333" font-weight="normal" font-style="normal" stroke="#333" stroke-width="0.15">0.0</text>
<text x="42.300000000000004" y="541.4499999999999" font-size="6.6" text-anchor="end" fill="#333" font-weight="normal" font-style="normal" stroke="#333" stroke-width="0.15">–0.1</text>
<text x="110.15" y="476.3" font-size="9.0" text-anchor="middle" fill="#231f20">Liu <tspan font-style="italic">et al.</tspan> 2017</text>
<text x="135.8" y="492.5" font-size="7.4" fill="#231f20" textLength="33" lengthAdjust="spacingAndGlyphs" stroke="#231f20" stroke-width="0.15">NES = 1.18</text>
<text x="135.8" y="500.9" font-size="7.4" fill="#231f20" textLength="23.5" lengthAdjust="spacingAndGlyphs" stroke="#231f20" stroke-width="0.15">P &lt; .001</text>
<path d="M52.7,570.8000000000001 L79.7,570.8000000000001" fill="none" stroke="#d0203c" stroke-width="1.3"/>
<path d="M49.300000000000004,570.8000000000001 L56.7,567.5000000000001 L54.7,570.8000000000001 L56.7,574.1 Z" fill="#d0203c" stroke="none" stroke-width="1"/>
<path d="M140.6,570.8000000000001 L167.6,570.8000000000001" fill="none" stroke="#2f2a86" stroke-width="1.3"/>
<path d="M170.79999999999998,570.8000000000001 L163.4,567.5000000000001 L165.4,570.8000000000001 L163.4,574.1 Z" fill="#2f2a86" stroke="none" stroke-width="1"/>
<text x="65.0" y="580.8000000000001" font-size="6.6" text-anchor="middle" fill="#333" font-weight="normal" font-style="normal" stroke="#333" stroke-width="0.15">shRen</text>
<text x="155.29999999999998" y="580.8000000000001" font-size="6.6" text-anchor="middle" fill="#333" font-weight="normal" font-style="normal" stroke="#333" stroke-width="0.15">shTLX3</text>
<rect x="214.3" y="559.6" width="8.958875" height="4.600000000000023" fill="#dc2f36" stroke="none" stroke-width="1"/>
<rect x="222.958875" y="559.6" width="8.958875" height="4.600000000000023" fill="#e2434a" stroke="none" stroke-width="1"/>
<rect x="231.61775" y="559.6" width="8.958875" height="4.600000000000023" fill="#e85a5e" stroke="none" stroke-width="1"/>
<rect x="240.27662500000002" y="559.6" width="8.958875" height="4.600000000000023" fill="#ec6d70" stroke="none" stroke-width="1"/>
<rect x="248.93550000000002" y="559.6" width="6.181499999999997" height="4.600000000000023" fill="#f1a9c6" stroke="none" stroke-width="1"/>
<rect x="254.817" y="559.6" width="6.181499999999997" height="4.600000000000023" fill="#e9c6e0" stroke="none" stroke-width="1"/>
<rect x="260.6985" y="559.6" width="43.431000000000004" height="4.600000000000023" fill="#d3d1ec" stroke="none" stroke-width="1"/>
<rect x="303.8295" y="559.6" width="6.18149999999999" height="4.600000000000023" fill="#a7a0d8" stroke="none" stroke-width="1"/>
<rect x="309.711" y="559.6" width="15.003750000000005" height="4.600000000000023" fill="#5a4db0" stroke="none" stroke-width="1"/>
<rect x="324.41475" y="559.6" width="15.003749999999991" height="4.600000000000023" fill="#3d2c98" stroke="none" stroke-width="1"/>
<rect x="216.3" y="540.6" width="1.0" height="18.99999999999998" fill="#1a1a1a" stroke="none" stroke-width="1"/>
<rect x="220.7" y="540.6" width="1.0" height="18.99999999999998" fill="#444" stroke="none" stroke-width="1"/>
<rect x="225.2" y="540.6" width="1.0" height="18.99999999999998" fill="#444" stroke="none" stroke-width="1"/>
<rect x="235.20000000000002" y="540.6" width="1.2" height="18.99999999999998" fill="#888" stroke="none" stroke-width="1"/>
<rect x="239.1" y="540.6" width="1.0" height="18.99999999999998" fill="#888" stroke="none" stroke-width="1"/>
<rect x="258.8" y="540.6" width="1.0" height="18.99999999999998" fill="#888" stroke="none" stroke-width="1"/>
<rect x="264.25" y="540.6" width="1.5" height="18.99999999999998" fill="#222" stroke="none" stroke-width="1"/>
<rect x="305.0" y="540.6" width="1.2" height="18.99999999999998" fill="#666" stroke="none" stroke-width="1"/>
<rect x="307.65" y="540.6" width="1.5" height="18.99999999999998" fill="#888" stroke="none" stroke-width="1"/>
<rect x="317.7" y="540.6" width="1.2" height="18.99999999999998" fill="#888" stroke="none" stroke-width="1"/>
<rect x="319.0" y="540.6" width="1.2" height="18.99999999999998" fill="#888" stroke="none" stroke-width="1"/>
<rect x="328.5" y="540.6" width="1.2" height="18.99999999999998" fill="#1a1a1a" stroke="none" stroke-width="1"/>
<rect x="336.2" y="540.6" width="1.0" height="18.99999999999998" fill="#444" stroke="none" stroke-width="1"/>
<line x1="214.3" y1="540.2" x2="345.0" y2="540.2" stroke="#9a9a9a" stroke-width="0.8"/>
<line x1="214.3" y1="515.6" x2="345.0" y2="515.6" stroke="#333" stroke-width="0.9"/>
<path d="M214.6,515.6 L215.0,496.3 L221.5,500.1 L222.0,489.4 L225.5,492.2 L226.1,484.4 L235.9,491.2 L236.5,486.5 L239.6,488.5 L240.2,485.2 L277.0,510.8 L305.5,531.5 L308.7,531.4 L318.0,536.6 L321.0,527.3 L329.3,533.0 L330.6,526.0 L336.7,531.0 L337.0,515.0 L338.2,515.5" fill="none" stroke="#4aa64f" stroke-width="0.85" stroke-linejoin="round"/>
<rect x="214.3" y="481.5" width="130.7" height="82.70000000000005" fill="none" stroke="#1a1a1a" stroke-width="1.3"/>
<text x="211.9" y="490.6" font-size="6.6" text-anchor="end" fill="#333" font-weight="normal" font-style="normal" stroke="#333" stroke-width="0.15">0.3</text>
<text x="211.9" y="499.70000000000005" font-size="6.6" text-anchor="end" fill="#333" font-weight="normal" font-style="normal" stroke="#333" stroke-width="0.15">0.2</text>
<text x="211.9" y="508.8" font-size="6.6" text-anchor="end" fill="#333" font-weight="normal" font-style="normal" stroke="#333" stroke-width="0.15">0.1</text>
<text x="211.9" y="517.9" font-size="6.6" text-anchor="end" fill="#333" font-weight="normal" font-style="normal" stroke="#333" stroke-width="0.15">0.0</text>
<text x="211.9" y="527.0" font-size="6.6" text-anchor="end" fill="#333" font-weight="normal" font-style="normal" stroke="#333" stroke-width="0.15">–0.1</text>
<text x="211.9" y="536.1" font-size="6.6" text-anchor="end" fill="#333" font-weight="normal" font-style="normal" stroke="#333" stroke-width="0.15">–0.2</text>
<text x="279.65" y="476.3" font-size="9.0" text-anchor="middle" fill="#231f20">Touzart <tspan font-style="italic">et al.</tspan> 2021</text>
<text x="305.2" y="492.5" font-size="7.4" fill="#231f20" textLength="33" lengthAdjust="spacingAndGlyphs" stroke="#231f20" stroke-width="0.15">NES = 1.00</text>
<text x="305.2" y="500.9" font-size="7.4" fill="#231f20" textLength="19.6" lengthAdjust="spacingAndGlyphs" stroke="#231f20" stroke-width="0.15"><tspan font-style="italic">P</tspan> = .67</text>
<path d="M222.3,570.8000000000001 L249.3,570.8000000000001" fill="none" stroke="#d0203c" stroke-width="1.3"/>
<path d="M218.9,570.8000000000001 L226.3,567.5000000000001 L224.3,570.8000000000001 L226.3,574.1 Z" fill="#d0203c" stroke="none" stroke-width="1"/>
<path d="M310.0,570.8000000000001 L337.0,570.8000000000001" fill="none" stroke="#2f2a86" stroke-width="1.3"/>
<path d="M340.2,570.8000000000001 L332.8,567.5000000000001 L334.8,570.8000000000001 L332.8,574.1 Z" fill="#2f2a86" stroke="none" stroke-width="1"/>
<text x="234.60000000000002" y="580.8000000000001" font-size="6.6" text-anchor="middle" fill="#333" font-weight="normal" font-style="normal" stroke="#333" stroke-width="0.15">shRen</text>
<text x="324.7" y="580.8000000000001" font-size="6.6" text-anchor="middle" fill="#333" font-weight="normal" font-style="normal" stroke="#333" stroke-width="0.15">shTLX3</text>
<rect x="381.5" y="559.6" width="8.622300000000003" height="4.600000000000023" fill="#dc2f36" stroke="none" stroke-width="1"/>
<rect x="389.8223" y="559.6" width="8.622300000000003" height="4.600000000000023" fill="#e2434a" stroke="none" stroke-width="1"/>
<rect x="398.1446" y="559.6" width="8.622300000000003" height="4.600000000000023" fill="#e85a5e" stroke="none" stroke-width="1"/>
<rect x="406.4669" y="559.6" width="8.622300000000003" height="4.600000000000023" fill="#ec6d70" stroke="none" stroke-width="1"/>
<rect x="414.7892" y="559.6" width="5.4519000000000055" height="4.600000000000023" fill="#f1a9c6" stroke="none" stroke-width="1"/>
<rect x="419.9411" y="559.6" width="5.4518999999999975" height="4.600000000000023" fill="#e9c6e0" stroke="none" stroke-width="1"/>
<rect x="425.093" y="559.6" width="42.572" height="4.600000000000023" fill="#d3d1ec" stroke="none" stroke-width="1"/>
<rect x="467.365" y="559.6" width="6.904999999999992" height="4.600000000000023" fill="#a7a0d8" stroke="none" stroke-width="1"/>
<rect x="473.97" y="559.6" width="17.142749999999996" height="4.600000000000023" fill="#5a4db0" stroke="none" stroke-width="1"/>
<rect x="490.81275" y="559.6" width="17.14275000000001" height="4.600000000000023" fill="#3d2c98" stroke="none" stroke-width="1"/>
<rect x="381.47133453150616" y="540.4" width="1.0" height="19.200000000000024" fill="#333" stroke="none" stroke-width="1"/>
<rect x="382.9094802644463" y="540.4" width="1.5" height="19.200000000000024" fill="#777" stroke="none" stroke-width="1"/>
<rect x="383.84718077865267" y="540.4" width="0.8" height="19.200000000000024" fill="#555" stroke="none" stroke-width="1"/>
<rect x="385.08673489031617" y="540.4" width="1.0" height="19.200000000000024" fill="#1a1a1a" stroke="none" stroke-width="1"/>
<rect x="386.5668642815675" y="540.4" width="1.5" height="19.200000000000024" fill="#777" stroke="none" stroke-width="1"/>
<rect x="387.6522522449176" y="540.4" width="1.5" height="19.200000000000024" fill="#555" stroke="none" stroke-width="1"/>
<rect x="390.4793011054081" y="540.4" width="1.0" height="19.200000000000024" fill="#1a1a1a" stroke="none" stroke-width="1"/>
<rect x="391.4761454937139" y="540.4" width="1.5" height="19.200000000000024" fill="#111" stroke="none" stroke-width="1"/>
<rect x="393.1035586065272" y="540.4" width="0.8" height="19.200000000000024" fill="#1a1a1a" stroke="none" stroke-width="1"/>
<rect x="394.41867268471515" y="540.4" width="0.8" height="19.200000000000024" fill="#333" stroke="none" stroke-width="1"/>
<rect x="397.0120600145117" y="540.4" width="1.2" height="19.200000000000024" fill="#555" stroke="none" stroke-width="1"/>
<rect x="398.02434192765907" y="540.4" width="1.5" height="19.200000000000024" fill="#555" stroke="none" stroke-width="1"/>
<rect x="399.17527897852364" y="540.4" width="1.5" height="19.200000000000024" fill="#1a1a1a" stroke="none" stroke-width="1"/>
<rect x="401.2126492258037" y="540.4" width="0.8" height="19.200000000000024" fill="#111" stroke="none" stroke-width="1"/>
<rect x="401.8374524903113" y="540.4" width="1.0" height="19.200000000000024" fill="#333" stroke="none" stroke-width="1"/>
<rect x="403.5459921089817" y="540.4" width="1.5" height="19.200000000000024" fill="#333" stroke="none" stroke-width="1"/>
<rect x="404.42659344832134" y="540.4" width="1.5" height="19.200000000000024" fill="#777" stroke="none" stroke-width="1"/>
<rect x="405.6791759219581" y="540.4" width="1.5" height="19.200000000000024" fill="#777" stroke="none" stroke-width="1"/>
<rect x="407.043872466238" y="540.4" width="1.2" height="19.200000000000024" fill="#111" stroke="none" stroke-width="1"/>
<rect x="408.941175829019" y="540.4" width="1.0" height="19.200000000000024" fill="#333" stroke="none" stroke-width="1"/>
<rect x="410.43378892788866" y="540.4" width="0.8" height="19.200000000000024" fill="#1a1a1a" stroke="none" stroke-width="1"/>
<rect x="411.2812580176743" y="540.4" width="1.2" height="19.200000000000024" fill="#333" stroke="none" stroke-width="1"/>
<rect x="412.0399411795502" y="540.4" width="1.5" height="19.200000000000024" fill="#555" stroke="none" stroke-width="1"/>
<rect x="415.1796662837988" y="540.4" width="0.8" height="19.200000000000024" fill="#555" stroke="none" stroke-width="1"/>
<rect x="417.40738654237754" y="540.4" width="0.8" height="19.200000000000024" fill="#333" stroke="none" stroke-width="1"/>
<rect x="419.5831705740069" y="540.4" width="1.5" height="19.200000000000024" fill="#111" stroke="none" stroke-width="1"/>
<rect x="420.9344682476811" y="540.4" width="0.8" height="19.200000000000024" fill="#555" stroke="none" stroke-width="1"/>
<rect x="422.5603835724098" y="540.4" width="1.2" height="19.200000000000024" fill="#777" stroke="none" stroke-width="1"/>
<rect x="423.9871061396529" y="540.4" width="1.2" height="19.200000000000024" fill="#777" stroke="none" stroke-width="1"/>
<rect x="424.98404221504063" y="540.4" width="0.8" height="19.200000000000024" fill="#333" stroke="none" stroke-width="1"/>
<rect x="427.60607549626127" y="540.4" width="0.8" height="19.200000000000024" fill="#777" stroke="none" stroke-width="1"/>
<rect x="429.3498856620964" y="540.4" width="1.0" height="19.200000000000024" fill="#555" stroke="none" stroke-width="1"/>
<rect x="430.44495441491" y="540.4" width="1.2" height="19.200000000000024" fill="#1a1a1a" stroke="none" stroke-width="1"/>
<rect x="432.17937578168244" y="540.4" width="1.2" height="19.200000000000024" fill="#333" stroke="none" stroke-width="1"/>
<rect x="433.4025651356971" y="540.4" width="1.0" height="19.200000000000024" fill="#555" stroke="none" stroke-width="1"/>
<rect x="470.4948882915025" y="540.4" width="1.5" height="19.200000000000024" fill="#777" stroke="none" stroke-width="1"/>
<rect x="472.12596437730036" y="540.4" width="0.8" height="19.200000000000024" fill="#777" stroke="none" stroke-width="1"/>
<rect x="473.19904083978184" y="540.4" width="1.2" height="19.200000000000024" fill="#555" stroke="none" stroke-width="1"/>
<rect x="474.16228876648995" y="540.4" width="1.0" height="19.200000000000024" fill="#333" stroke="none" stroke-width="1"/>
<rect x="475.0176730770784" y="540.4" width="1.2" height="19.200000000000024" fill="#777" stroke="none" stroke-width="1"/>
<rect x="476.0136122062043" y="540.4" width="1.2" height="19.200000000000024" fill="#111" stroke="none" stroke-width="1"/>
<rect x="479.0504270843606" y="540.4" width="1.2" height="19.200000000000024" fill="#111" stroke="none" stroke-width="1"/>
<rect x="480.18562616432484" y="540.4" width="1.0" height="19.200000000000024" fill="#111" stroke="none" stroke-width="1"/>
<rect x="481.67266460055527" y="540.4" width="1.2" height="19.200000000000024" fill="#555" stroke="none" stroke-width="1"/>
<rect x="482.8161555831164" y="540.4" width="1.2" height="19.200000000000024" fill="#777" stroke="none" stroke-width="1"/>
<rect x="485.7802126870244" y="540.4" width="1.5" height="19.200000000000024" fill="#111" stroke="none" stroke-width="1"/>
<rect x="487.29203271750686" y="540.4" width="0.8" height="19.200000000000024" fill="#333" stroke="none" stroke-width="1"/>
<rect x="487.9383417086376" y="540.4" width="1.5" height="19.200000000000024" fill="#333" stroke="none" stroke-width="1"/>
<rect x="489.5945039067498" y="540.4" width="1.2" height="19.200000000000024" fill="#1a1a1a" stroke="none" stroke-width="1"/>
<rect x="492.6729663170049" y="540.4" width="1.2" height="19.200000000000024" fill="#333" stroke="none" stroke-width="1"/>
<rect x="494.28288070966835" y="540.4" width="1.2" height="19.200000000000024" fill="#333" stroke="none" stroke-width="1"/>
<rect x="495.6904764367854" y="540.4" width="0.8" height="19.200000000000024" fill="#111" stroke="none" stroke-width="1"/>
<rect x="496.97853087579415" y="540.4" width="1.0" height="19.200000000000024" fill="#333" stroke="none" stroke-width="1"/>
<rect x="499.8500096440336" y="540.4" width="1.2" height="19.200000000000024" fill="#1a1a1a" stroke="none" stroke-width="1"/>
<rect x="501.04500778890144" y="540.4" width="1.5" height="19.200000000000024" fill="#111" stroke="none" stroke-width="1"/>
<line x1="381.5" y1="540.0" x2="513.6" y2="540.0" stroke="#9a9a9a" stroke-width="0.8"/>
<line x1="381.5" y1="534.6" x2="513.6" y2="534.6" stroke="#777" stroke-width="1.6"/>
<path d="M381.8,534.4 L384.0,522.0 L386.0,512.9 L388.0,507.6 L390.0,506.9 L392.0,507.3 L393.5,500.8 L395.0,499.7 L397.0,496.9 L399.0,493.9 L401.0,492.2 L402.2,490.7 L403.5,489.7 L404.8,489.3 L406.0,489.3 L408.0,486.3 L410.0,484.7 L411.5,484.8 L413.0,484.6 L414.5,485.7 L416.0,486.5 L416.0,486.5 L417.2,487.5 L418.4,488.4 L419.6,489.4 L420.8,490.3 L422.0,491.3 L423.2,492.2 L424.4,493.2 L425.6,494.1 L426.8,495.1 L428.0,496.1 L429.2,497.0 L430.4,498.0 L431.6,498.9 L432.8,499.9 L434.0,500.8 L435.2,501.8 L436.4,502.8 L437.6,503.7 L438.8,504.7 L440.0,505.6 L441.2,506.6 L442.4,507.5 L443.6,508.5 L444.8,509.4 L446.0,510.4 L447.3,511.6 L448.5,512.8 L449.8,514.0 L451.1,515.2 L452.4,516.4 L453.6,517.5 L454.9,518.7 L456.2,519.9 L457.5,521.1 L458.7,522.3 L460.0,523.5 L461.2,524.6 L462.5,525.8 L463.8,526.9 L465.0,528.0 L466.2,529.1 L467.5,530.2 L468.8,531.4 L470.0,532.5 L470.0,532.5 L471.2,533.0 L472.4,533.7 L473.6,534.2 L474.8,534.7 L476.0,534.7 L477.3,535.3 L478.6,534.9 L479.9,534.9 L481.1,534.8 L482.4,535.3 L483.7,535.1 L485.0,535.3 L486.2,535.5 L487.5,535.6 L488.8,535.5 L490.0,534.8 L491.2,534.7 L492.5,534.8 L493.8,535.0 L495.0,535.1 L496.2,535.0 L497.5,535.1 L498.8,534.7 L500.0,534.6 L501.5,533.3 L503.0,532.3 L505.0,534.1 L506.0,534.5" fill="none" stroke="#4aa64f" stroke-width="0.85" stroke-linejoin="round"/>
<rect x="381.5" y="481.5" width="132.10000000000002" height="82.70000000000005" fill="none" stroke="#1a1a1a" stroke-width="1.3"/>
<text x="379.1" y="484.90000000000003" font-size="6.6" text-anchor="end" fill="#333" font-weight="normal" font-style="normal" stroke="#333" stroke-width="0.15">0.5</text>
<text x="379.1" y="495.3" font-size="6.6" text-anchor="end" fill="#333" font-weight="normal" font-style="normal" stroke="#333" stroke-width="0.15">0.4</text>
<text x="379.1" y="505.70000000000005" font-size="6.6" text-anchor="end" fill="#333" font-weight="normal" font-style="normal" stroke="#333" stroke-width="0.15">0.3</text>
<text x="379.1" y="516.1" font-size="6.6" text-anchor="end" fill="#333" font-weight="normal" font-style="normal" stroke="#333" stroke-width="0.15">0.2</text>
<text x="379.1" y="526.5" font-size="6.6" text-anchor="end" fill="#333" font-weight="normal" font-style="normal" stroke="#333" stroke-width="0.15">0.1</text>
<text x="379.1" y="536.9" font-size="6.6" text-anchor="end" fill="#333" font-weight="normal" font-style="normal" stroke="#333" stroke-width="0.15">0.0</text>
<text x="447.55" y="476.3" font-size="9.0" text-anchor="middle" fill="#231f20">Yang <tspan font-style="italic">et al.</tspan> 2021</text>
<text x="473.8" y="492.5" font-size="7.4" fill="#231f20" textLength="33" lengthAdjust="spacingAndGlyphs" stroke="#231f20" stroke-width="0.15">NES = 1.16</text>
<text x="473.8" y="500.9" font-size="7.4" fill="#231f20" textLength="23.5" lengthAdjust="spacingAndGlyphs" stroke="#231f20" stroke-width="0.15"><tspan font-style="italic">P</tspan> &lt; .001</text>
<path d="M389.5,570.8000000000001 L416.5,570.8000000000001" fill="none" stroke="#d0203c" stroke-width="1.3"/>
<path d="M386.1,570.8000000000001 L393.5,567.5000000000001 L391.5,570.8000000000001 L393.5,574.1 Z" fill="#d0203c" stroke="none" stroke-width="1"/>
<path d="M478.6,570.8000000000001 L505.6,570.8000000000001" fill="none" stroke="#2f2a86" stroke-width="1.3"/>
<path d="M508.8,570.8000000000001 L501.40000000000003,567.5000000000001 L503.40000000000003,570.8000000000001 L501.40000000000003,574.1 Z" fill="#2f2a86" stroke="none" stroke-width="1"/>
<text x="401.8" y="580.8000000000001" font-size="6.6" text-anchor="middle" fill="#333" font-weight="normal" font-style="normal" stroke="#333" stroke-width="0.15">shRen</text>
<text x="493.3" y="580.8000000000001" font-size="6.6" text-anchor="middle" fill="#333" font-weight="normal" font-style="normal" stroke="#333" stroke-width="0.15">shTLX3</text>
<rect x="44.6" y="668.2" width="13.370000000000003" height="4.599999999999909" fill="#dc2f36" stroke="none" stroke-width="1"/>
<rect x="57.67" y="668.2" width="13.370000000000003" height="4.599999999999909" fill="#e2434a" stroke="none" stroke-width="1"/>
<rect x="70.74000000000001" y="668.2" width="13.370000000000006" height="4.599999999999909" fill="#e85a5e" stroke="none" stroke-width="1"/>
<rect x="83.81" y="668.2" width="13.37" height="4.599999999999909" fill="#ec6d70" stroke="none" stroke-width="1"/>
<rect x="96.88000000000001" y="668.2" width="8.795500000000002" height="4.599999999999909" fill="#f1a9c6" stroke="none" stroke-width="1"/>
<rect x="105.37550000000002" y="668.2" width="8.795500000000002" height="4.599999999999909" fill="#e9c6e0" stroke="none" stroke-width="1"/>
<rect x="113.87100000000001" y="668.2" width="17.291000000000004" height="4.599999999999909" fill="#d3d1ec" stroke="none" stroke-width="1"/>
<rect x="130.86200000000002" y="668.2" width="18.598000000000006" height="4.599999999999909" fill="#a7a0d8" stroke="none" stroke-width="1"/>
<rect x="149.16000000000003" y="668.2" width="10.429249999999989" height="4.599999999999909" fill="#5a4db0" stroke="none" stroke-width="1"/>
<rect x="159.28925" y="668.2" width="10.429250000000003" height="4.599999999999909" fill="#3d2c98" stroke="none" stroke-width="1"/>
<rect x="49.2" y="650.4" width="1.0" height="17.800000000000047" fill="#444" stroke="none" stroke-width="1"/>
<rect x="53.0" y="650.4" width="1.0" height="17.800000000000047" fill="#666" stroke="none" stroke-width="1"/>
<rect x="63.1" y="650.4" width="1.2" height="17.800000000000047" fill="#222" stroke="none" stroke-width="1"/>
<rect x="67.0" y="650.4" width="1.0" height="17.800000000000047" fill="#1a1a1a" stroke="none" stroke-width="1"/>
<rect x="68.2" y="650.4" width="1.0" height="17.800000000000047" fill="#666" stroke="none" stroke-width="1"/>
<rect x="70.55" y="650.4" width="1.5" height="17.800000000000047" fill="#444" stroke="none" stroke-width="1"/>
<rect x="101.2" y="650.4" width="1.0" height="17.800000000000047" fill="#222" stroke="none" stroke-width="1"/>
<rect x="103.55" y="650.4" width="1.5" height="17.800000000000047" fill="#888" stroke="none" stroke-width="1"/>
<rect x="115.10000000000001" y="650.4" width="1.2" height="17.800000000000047" fill="#444" stroke="none" stroke-width="1"/>
<rect x="117.1" y="650.4" width="1.0" height="17.800000000000047" fill="#1a1a1a" stroke="none" stroke-width="1"/>
<rect x="120.2" y="650.4" width="1.2" height="17.800000000000047" fill="#222" stroke="none" stroke-width="1"/>
<rect x="124.1" y="650.4" width="1.0" height="17.800000000000047" fill="#444" stroke="none" stroke-width="1"/>
<rect x="129.1" y="650.4" width="1.2" height="17.800000000000047" fill="#222" stroke="none" stroke-width="1"/>
<rect x="131.7" y="650.4" width="1.0" height="17.800000000000047" fill="#444" stroke="none" stroke-width="1"/>
<rect x="132.6" y="650.4" width="1.2" height="17.800000000000047" fill="#444" stroke="none" stroke-width="1"/>
<rect x="135.5" y="650.4" width="1.0" height="17.800000000000047" fill="#888" stroke="none" stroke-width="1"/>
<rect x="138.0" y="650.4" width="1.2" height="17.800000000000047" fill="#666" stroke="none" stroke-width="1"/>
<rect x="138.85" y="650.4" width="1.5" height="17.800000000000047" fill="#222" stroke="none" stroke-width="1"/>
<rect x="140.6" y="650.4" width="1.0" height="17.800000000000047" fill="#222" stroke="none" stroke-width="1"/>
<rect x="144.3" y="650.4" width="1.2" height="17.800000000000047" fill="#444" stroke="none" stroke-width="1"/>
<rect x="153.3" y="650.4" width="1.0" height="17.800000000000047" fill="#888" stroke="none" stroke-width="1"/>
<rect x="154.0" y="650.4" width="1.2" height="17.800000000000047" fill="#1a1a1a" stroke="none" stroke-width="1"/>
<rect x="157.6" y="650.4" width="1.2" height="17.800000000000047" fill="#888" stroke="none" stroke-width="1"/>
<rect x="159.35" y="650.4" width="1.5" height="17.800000000000047" fill="#444" stroke="none" stroke-width="1"/>
<rect x="162.55" y="650.4" width="1.5" height="17.800000000000047" fill="#222" stroke="none" stroke-width="1"/>
<rect x="165.20000000000002" y="650.4" width="1.2" height="17.800000000000047" fill="#666" stroke="none" stroke-width="1"/>
<rect x="167.65" y="650.4" width="1.5" height="17.800000000000047" fill="#444" stroke="none" stroke-width="1"/>
<line x1="44.6" y1="650.0" x2="175.3" y2="650.0" stroke="#9a9a9a" stroke-width="0.8"/>
<line x1="44.6" y1="600.3" x2="175.3" y2="600.3" stroke="#333" stroke-width="0.9"/>
<path d="M44.9,600.1 L46.2,601.4 L47.5,602.9 L49.5,599.8 L51.0,601.2 L52.3,600.2 L53.7,599.3 L55.0,597.9 L56.5,599.3 L58.0,600.3 L59.2,601.3 L60.5,601.9 L61.8,602.7 L63.0,603.4 L64.5,604.1 L66.0,605.2 L67.5,605.7 L69.2,606.4 L71.0,607.1 L72.2,607.5 L73.5,608.5 L74.7,609.5 L75.9,610.5 L77.2,611.4 L78.4,612.3 L79.6,612.6 L80.9,613.8 L82.1,614.7 L83.3,615.4 L84.6,616.1 L85.8,617.1 L87.0,617.7 L88.3,619.2 L89.5,620.0 L90.7,620.6 L92.0,621.3 L93.2,622.5 L94.4,623.2 L95.7,624.2 L96.9,625.1 L98.1,625.7 L99.4,626.5 L100.6,627.4 L101.8,628.2 L103.1,628.8 L104.3,629.8 L105.5,631.0 L106.8,631.3 L108.0,632.2 L109.2,633.4 L110.4,633.9 L111.6,634.9 L112.8,635.7 L114.0,636.4 L115.2,637.6 L116.4,637.9 L117.6,638.8 L118.8,639.5 L120.0,640.6 L121.2,640.8 L122.5,641.3 L123.8,642.1 L125.0,642.3 L126.2,642.9 L127.5,643.6 L128.8,643.5 L130.0,644.0 L131.3,644.5 L132.7,645.4 L134.0,645.7 L135.3,645.8 L136.7,646.3 L138.0,646.7 L139.2,646.6 L140.5,646.1 L141.8,646.4 L143.0,646.3 L144.2,644.5 L145.5,642.5 L146.8,643.5 L148.0,643.6 L149.2,644.7 L150.5,646.0 L151.8,646.7 L153.0,647.2 L154.8,642.8 L156.5,637.7 L158.5,638.6 L160.5,636.2 L161.8,633.8 L163.0,631.8 L165.0,626.1 L167.0,619.7 L168.8,610.3 L169.5,600.3" fill="none" stroke="#4aa64f" stroke-width="0.85" stroke-linejoin="round"/>
<rect x="44.6" y="595.2" width="130.70000000000002" height="77.59999999999991" fill="none" stroke="#1a1a1a" stroke-width="1.3"/>
<text x="42.2" y="602.5999999999999" font-size="6.6" text-anchor="end" fill="#333" font-weight="normal" font-style="normal" stroke="#333" stroke-width="0.15">0.0</text>
<text x="42.2" y="611.3999999999999" font-size="6.6" text-anchor="end" fill="#333" font-weight="normal" font-style="normal" stroke="#333" stroke-width="0.15">–0.1</text>
<text x="42.2" y="620.1999999999999" font-size="6.6" text-anchor="end" fill="#333" font-weight="normal" font-style="normal" stroke="#333" stroke-width="0.15">–0.2</text>
<text x="42.2" y="628.9999999999999" font-size="6.6" text-anchor="end" fill="#333" font-weight="normal" font-style="normal" stroke="#333" stroke-width="0.15">–0.3</text>
<text x="42.2" y="637.8" font-size="6.6" text-anchor="end" fill="#333" font-weight="normal" font-style="normal" stroke="#333" stroke-width="0.15">–0.4</text>
<text x="42.2" y="646.5999999999999" font-size="6.6" text-anchor="end" fill="#333" font-weight="normal" font-style="normal" stroke="#333" stroke-width="0.15">–0.5</text>
<text x="50.2" y="631.6" font-size="7.4" fill="#231f20" textLength="35.7" lengthAdjust="spacingAndGlyphs" stroke="#231f20" stroke-width="0.15">NES = –1.38</text>
<text x="50.2" y="639.4000000000001" font-size="7.4" fill="#231f20" textLength="23.5" lengthAdjust="spacingAndGlyphs" stroke="#231f20" stroke-width="0.15">P &lt; .001</text>
<path d="M52.6,679.4 L79.6,679.4" fill="none" stroke="#d0203c" stroke-width="1.3"/>
<path d="M49.2,679.4 L56.6,676.1 L54.6,679.4 L56.6,682.6999999999999 Z" fill="#d0203c" stroke="none" stroke-width="1"/>
<path d="M140.3,679.4 L167.3,679.4" fill="none" stroke="#2f2a86" stroke-width="1.3"/>
<path d="M170.5,679.4 L163.10000000000002,676.1 L165.10000000000002,679.4 L163.10000000000002,682.6999999999999 Z" fill="#2f2a86" stroke="none" stroke-width="1"/>
<text x="64.9" y="689.4" font-size="6.6" text-anchor="middle" fill="#333" font-weight="normal" font-style="normal" stroke="#333" stroke-width="0.15">Control</text>
<text x="155.0" y="689.4" font-size="6.6" text-anchor="middle" fill="#333" font-weight="normal" font-style="normal" stroke="#333" stroke-width="0.15">TLX3 OE</text>
<rect x="214.3" y="668.2" width="13.34" height="4.599999999999909" fill="#dc2f36" stroke="none" stroke-width="1"/>
<rect x="227.34" y="668.2" width="13.34" height="4.599999999999909" fill="#e2434a" stroke="none" stroke-width="1"/>
<rect x="240.38" y="668.2" width="13.340000000000003" height="4.599999999999909" fill="#e85a5e" stroke="none" stroke-width="1"/>
<rect x="253.42000000000002" y="668.2" width="13.339999999999996" height="4.599999999999909" fill="#ec6d70" stroke="none" stroke-width="1"/>
<rect x="266.46000000000004" y="668.2" width="8.123999999999999" height="4.599999999999909" fill="#f1a9c6" stroke="none" stroke-width="1"/>
<rect x="274.284" y="668.2" width="8.123999999999999" height="4.599999999999909" fill="#e9c6e0" stroke="none" stroke-width="1"/>
<rect x="282.108" y="668.2" width="19.208" height="4.599999999999909" fill="#d3d1ec" stroke="none" stroke-width="1"/>
<rect x="301.016" y="668.2" width="12.687999999999995" height="4.599999999999909" fill="#a7a0d8" stroke="none" stroke-width="1"/>
<rect x="313.404" y="668.2" width="13.013999999999989" height="4.599999999999909" fill="#5a4db0" stroke="none" stroke-width="1"/>
<rect x="326.118" y="668.2" width="13.014000000000003" height="4.599999999999909" fill="#3d2c98" stroke="none" stroke-width="1"/>
<rect x="214.75" y="650.4" width="1.5" height="17.800000000000047" fill="#444" stroke="none" stroke-width="1"/>
<rect x="217.95" y="650.4" width="1.5" height="17.800000000000047" fill="#444" stroke="none" stroke-width="1"/>
<rect x="220.45" y="650.4" width="1.5" height="17.800000000000047" fill="#888" stroke="none" stroke-width="1"/>
<rect x="221.5" y="650.4" width="1.0" height="17.800000000000047" fill="#666" stroke="none" stroke-width="1"/>
<rect x="222.7" y="650.4" width="1.0" height="17.800000000000047" fill="#1a1a1a" stroke="none" stroke-width="1"/>
<rect x="227.7" y="650.4" width="1.0" height="17.800000000000047" fill="#1a1a1a" stroke="none" stroke-width="1"/>
<rect x="228.9" y="650.4" width="1.2" height="17.800000000000047" fill="#666" stroke="none" stroke-width="1"/>
<rect x="232.8" y="650.4" width="1.0" height="17.800000000000047" fill="#666" stroke="none" stroke-width="1"/>
<rect x="235.05" y="650.4" width="1.5" height="17.800000000000047" fill="#1a1a1a" stroke="none" stroke-width="1"/>
<rect x="235.85" y="650.4" width="1.5" height="17.800000000000047" fill="#222" stroke="none" stroke-width="1"/>
<rect x="269.6" y="650.4" width="1.0" height="17.800000000000047" fill="#222" stroke="none" stroke-width="1"/>
<rect x="272.0" y="650.4" width="1.2" height="17.800000000000047" fill="#444" stroke="none" stroke-width="1"/>
<rect x="275.3" y="650.4" width="1.0" height="17.800000000000047" fill="#666" stroke="none" stroke-width="1"/>
<rect x="279.8" y="650.4" width="1.0" height="17.800000000000047" fill="#1a1a1a" stroke="none" stroke-width="1"/>
<rect x="282.3" y="650.4" width="1.0" height="17.800000000000047" fill="#888" stroke="none" stroke-width="1"/>
<rect x="283.95" y="650.4" width="1.5" height="17.800000000000047" fill="#666" stroke="none" stroke-width="1"/>
<rect x="288.7" y="650.4" width="1.0" height="17.800000000000047" fill="#222" stroke="none" stroke-width="1"/>
<rect x="290.5" y="650.4" width="1.0" height="17.800000000000047" fill="#1a1a1a" stroke="none" stroke-width="1"/>
<rect x="300.1" y="650.4" width="1.0" height="17.800000000000047" fill="#222" stroke="none" stroke-width="1"/>
<rect x="300.9" y="650.4" width="1.0" height="17.800000000000047" fill="#222" stroke="none" stroke-width="1"/>
<rect x="302.5" y="650.4" width="1.2" height="17.800000000000047" fill="#444" stroke="none" stroke-width="1"/>
<rect x="305.8" y="650.4" width="1.0" height="17.800000000000047" fill="#888" stroke="none" stroke-width="1"/>
<rect x="308.05" y="650.4" width="1.5" height="17.800000000000047" fill="#222" stroke="none" stroke-width="1"/>
<rect x="310.2" y="650.4" width="1.0" height="17.800000000000047" fill="#222" stroke="none" stroke-width="1"/>
<rect x="314.59999999999997" y="650.4" width="1.2" height="17.800000000000047" fill="#444" stroke="none" stroke-width="1"/>
<rect x="317.2" y="650.4" width="1.0" height="17.800000000000047" fill="#444" stroke="none" stroke-width="1"/>
<rect x="323.4" y="650.4" width="1.2" height="17.800000000000047" fill="#222" stroke="none" stroke-width="1"/>
<rect x="324.3" y="650.4" width="1.0" height="17.800000000000047" fill="#444" stroke="none" stroke-width="1"/>
<rect x="328.6" y="650.4" width="1.0" height="17.800000000000047" fill="#444" stroke="none" stroke-width="1"/>
<rect x="331.7" y="650.4" width="1.2" height="17.800000000000047" fill="#888" stroke="none" stroke-width="1"/>
<rect x="334.75" y="650.4" width="1.5" height="17.800000000000047" fill="#1a1a1a" stroke="none" stroke-width="1"/>
<rect x="336.65" y="650.4" width="1.5" height="17.800000000000047" fill="#444" stroke="none" stroke-width="1"/>
<line x1="214.3" y1="650.0" x2="344.7" y2="650.0" stroke="#9a9a9a" stroke-width="0.8"/>
<line x1="214.3" y1="606.2" x2="344.7" y2="606.2" stroke="#333" stroke-width="0.9"/>
<path d="M214.5,606.1 L215.0,600.1 L217.0,598.9 L218.5,598.6 L220.0,598.1 L221.3,598.5 L222.7,598.2 L224.0,598.7 L225.2,599.6 L226.4,600.0 L227.6,600.8 L228.8,600.9 L230.0,601.8 L231.4,602.2 L232.8,603.0 L234.2,603.6 L235.6,603.8 L237.0,604.5 L238.3,605.3 L239.7,606.5 L241.0,607.2 L242.3,607.7 L243.6,609.0 L244.9,609.5 L246.1,610.7 L247.4,611.3 L248.7,612.1 L250.0,613.5 L251.2,614.0 L252.5,614.8 L253.8,616.1 L255.0,616.9 L256.2,617.4 L257.5,618.6 L258.8,619.2 L260.0,620.1 L261.2,620.7 L262.5,622.0 L263.8,622.7 L265.0,623.8 L266.2,624.6 L267.5,625.1 L268.8,626.0 L270.0,626.8 L271.4,627.2 L272.8,627.5 L274.2,628.1 L275.6,628.7 L277.0,628.7 L278.3,629.9 L279.6,630.5 L280.9,631.3 L282.2,632.4 L283.5,633.0 L284.8,633.7 L286.1,634.6 L287.4,635.5 L288.7,635.9 L290.0,637.3 L291.2,637.4 L292.5,638.5 L293.8,639.3 L295.0,639.5 L296.2,640.6 L297.5,641.0 L298.8,641.9 L300.0,642.2 L301.2,642.4 L302.5,642.7 L303.8,643.4 L305.0,643.1 L306.2,644.0 L307.5,644.6 L308.8,645.1 L310.0,645.2 L311.2,645.5 L312.4,645.9 L313.6,646.3 L314.8,646.2 L316.0,646.8 L317.5,646.3 L319.0,645.7 L320.3,646.0 L321.7,647.2 L323.0,647.5 L324.3,647.0 L325.7,646.5 L327.0,646.1 L328.3,644.4 L329.7,643.5 L331.0,642.0 L332.8,643.1 L334.5,644.3 L335.8,640.5 L337.0,636.7 L338.3,624.8 L339.0,606.5" fill="none" stroke="#4aa64f" stroke-width="0.85" stroke-linejoin="round"/>
<rect x="214.3" y="595.2" width="130.39999999999998" height="77.59999999999991" fill="none" stroke="#1a1a1a" stroke-width="1.3"/>
<text x="211.9" y="600.3" font-size="6.6" text-anchor="end" fill="#333" font-weight="normal" font-style="normal" stroke="#333" stroke-width="0.15">0.1</text>
<text x="211.9" y="608.5" font-size="6.6" text-anchor="end" fill="#333" font-weight="normal" font-style="normal" stroke="#333" stroke-width="0.15">0.0</text>
<text x="211.9" y="616.7" font-size="6.6" text-anchor="end" fill="#333" font-weight="normal" font-style="normal" stroke="#333" stroke-width="0.15">–0.1</text>
<text x="211.9" y="624.9" font-size="6.6" text-anchor="end" fill="#333" font-weight="normal" font-style="normal" stroke="#333" stroke-width="0.15">–0.2</text>
<text x="211.9" y="633.1" font-size="6.6" text-anchor="end" fill="#333" font-weight="normal" font-style="normal" stroke="#333" stroke-width="0.15">–0.3</text>
<text x="211.9" y="641.3" font-size="6.6" text-anchor="end" fill="#333" font-weight="normal" font-style="normal" stroke="#333" stroke-width="0.15">–0.4</text>
<text x="211.9" y="649.5" font-size="6.6" text-anchor="end" fill="#333" font-weight="normal" font-style="normal" stroke="#333" stroke-width="0.15">–0.5</text>
<text x="219.9" y="631.6" font-size="7.4" fill="#231f20" textLength="35.7" lengthAdjust="spacingAndGlyphs" stroke="#231f20" stroke-width="0.15">NES = –1.41</text>
<text x="219.9" y="639.4000000000001" font-size="7.4" fill="#231f20" textLength="20.3" lengthAdjust="spacingAndGlyphs" stroke="#231f20" stroke-width="0.15"><tspan font-style="italic">P</tspan> = .09</text>
<path d="M222.3,679.4 L249.3,679.4" fill="none" stroke="#d0203c" stroke-width="1.3"/>
<path d="M218.9,679.4 L226.3,676.1 L224.3,679.4 L226.3,682.6999999999999 Z" fill="#d0203c" stroke="none" stroke-width="1"/>
<path d="M309.7,679.4 L336.7,679.4" fill="none" stroke="#2f2a86" stroke-width="1.3"/>
<path d="M339.9,679.4 L332.5,676.1 L334.5,679.4 L332.5,682.6999999999999 Z" fill="#2f2a86" stroke="none" stroke-width="1"/>
<text x="234.60000000000002" y="689.4" font-size="6.6" text-anchor="middle" fill="#333" font-weight="normal" font-style="normal" stroke="#333" stroke-width="0.15">Control</text>
<text x="324.4" y="689.4" font-size="6.6" text-anchor="middle" fill="#333" font-weight="normal" font-style="normal" stroke="#333" stroke-width="0.15">TLX3 OE</text>
<rect x="381.6" y="668.2" width="13.309999999999999" height="4.599999999999909" fill="#dc2f36" stroke="none" stroke-width="1"/>
<rect x="394.61" y="668.2" width="13.309999999999999" height="4.599999999999909" fill="#e2434a" stroke="none" stroke-width="1"/>
<rect x="407.62" y="668.2" width="13.310000000000002" height="4.599999999999909" fill="#e85a5e" stroke="none" stroke-width="1"/>
<rect x="420.63" y="668.2" width="13.309999999999995" height="4.599999999999909" fill="#ec6d70" stroke="none" stroke-width="1"/>
<rect x="433.64" y="668.2" width="8.756499999999999" height="4.599999999999909" fill="#f1a9c6" stroke="none" stroke-width="1"/>
<rect x="442.0965" y="668.2" width="8.756499999999999" height="4.599999999999909" fill="#e9c6e0" stroke="none" stroke-width="1"/>
<rect x="450.553" y="668.2" width="17.212999999999997" height="4.599999999999909" fill="#d3d1ec" stroke="none" stroke-width="1"/>
<rect x="467.466" y="668.2" width="14.610999999999995" height="4.599999999999909" fill="#a7a0d8" stroke="none" stroke-width="1"/>
<rect x="481.777" y="668.2" width="12.33425" height="4.599999999999909" fill="#5a4db0" stroke="none" stroke-width="1"/>
<rect x="493.81125" y="668.2" width="12.334249999999987" height="4.599999999999909" fill="#3d2c98" stroke="none" stroke-width="1"/>
<rect x="382.4890550121931" y="654.8" width="0.8" height="13.400000000000068" fill="#555" stroke="none" stroke-width="1"/>
<rect x="383.70344599680425" y="654.8" width="0.8" height="13.400000000000068" fill="#111" stroke="none" stroke-width="1"/>
<rect x="384.13309167748054" y="654.8" width="1.5" height="13.400000000000068" fill="#333" stroke="none" stroke-width="1"/>
<rect x="385.8496438587966" y="654.8" width="0.8" height="13.400000000000068" fill="#333" stroke="none" stroke-width="1"/>
<rect x="387.11296464402545" y="654.8" width="1.0" height="13.400000000000068" fill="#555" stroke="none" stroke-width="1"/>
<rect x="388.7636002273462" y="654.8" width="0.8" height="13.400000000000068" fill="#1a1a1a" stroke="none" stroke-width="1"/>
<rect x="389.5433379240785" y="654.8" width="1.2" height="13.400000000000068" fill="#777" stroke="none" stroke-width="1"/>
<rect x="390.7216247374596" y="654.8" width="1.5" height="13.400000000000068" fill="#333" stroke="none" stroke-width="1"/>
<rect x="398.1723843182075" y="654.8" width="1.2" height="13.400000000000068" fill="#555" stroke="none" stroke-width="1"/>
<rect x="399.17772958036795" y="654.8" width="1.5" height="13.400000000000068" fill="#111" stroke="none" stroke-width="1"/>
<rect x="400.5893437018527" y="654.8" width="1.2" height="13.400000000000068" fill="#111" stroke="none" stroke-width="1"/>
<rect x="402.14207094293556" y="654.8" width="1.0" height="13.400000000000068" fill="#333" stroke="none" stroke-width="1"/>
<rect x="403.07962761392844" y="654.8" width="1.0" height="13.400000000000068" fill="#777" stroke="none" stroke-width="1"/>
<rect x="404.5491885818747" y="654.8" width="0.8" height="13.400000000000068" fill="#333" stroke="none" stroke-width="1"/>
<rect x="405.24101865268767" y="654.8" width="1.5" height="13.400000000000068" fill="#333" stroke="none" stroke-width="1"/>
<rect x="406.9787561033632" y="654.8" width="0.8" height="13.400000000000068" fill="#111" stroke="none" stroke-width="1"/>
<rect x="435.33513672415665" y="654.8" width="1.0" height="13.400000000000068" fill="#111" stroke="none" stroke-width="1"/>
<rect x="436.77914130193426" y="654.8" width="1.2" height="13.400000000000068" fill="#333" stroke="none" stroke-width="1"/>
<rect x="438.17553290241" y="654.8" width="1.5" height="13.400000000000068" fill="#555" stroke="none" stroke-width="1"/>
<rect x="439.44378269419184" y="654.8" width="1.0" height="13.400000000000068" fill="#777" stroke="none" stroke-width="1"/>
<rect x="442.6" y="654.8" width="1.0" height="13.400000000000068" fill="#111" stroke="none" stroke-width="1"/>
<rect x="445.09999999999997" y="654.8" width="1.2" height="13.400000000000068" fill="#333" stroke="none" stroke-width="1"/>
<rect x="447.55" y="654.8" width="1.5" height="13.400000000000068" fill="#333" stroke="none" stroke-width="1"/>
<rect x="450.75" y="654.8" width="1.5" height="13.400000000000068" fill="#111" stroke="none" stroke-width="1"/>
<rect x="453.35" y="654.8" width="1.5" height="13.400000000000068" fill="#111" stroke="none" stroke-width="1"/>
<rect x="456.2" y="654.8" width="1.0" height="13.400000000000068" fill="#111" stroke="none" stroke-width="1"/>
<rect x="467.545960455764" y="654.8" width="1.5" height="13.400000000000068" fill="#555" stroke="none" stroke-width="1"/>
<rect x="468.76144843823005" y="654.8" width="1.5" height="13.400000000000068" fill="#111" stroke="none" stroke-width="1"/>
<rect x="469.8530155996428" y="654.8" width="1.5" height="13.400000000000068" fill="#333" stroke="none" stroke-width="1"/>
<rect x="471.3004249228306" y="654.8" width="1.5" height="13.400000000000068" fill="#111" stroke="none" stroke-width="1"/>
<rect x="474.09999999999997" y="654.8" width="1.2" height="13.400000000000068" fill="#555" stroke="none" stroke-width="1"/>
<rect x="479.08037791776394" y="654.8" width="1.0" height="13.400000000000068" fill="#111" stroke="none" stroke-width="1"/>
<rect x="480.11706121995746" y="654.8" width="0.8" height="13.400000000000068" fill="#333" stroke="none" stroke-width="1"/>
<rect x="481.6597441396518" y="654.8" width="1.2" height="13.400000000000068" fill="#1a1a1a" stroke="none" stroke-width="1"/>
<rect x="482.5499235239039" y="654.8" width="1.5" height="13.400000000000068" fill="#333" stroke="none" stroke-width="1"/>
<rect x="487.2348373984187" y="654.8" width="1.2" height="13.400000000000068" fill="#555" stroke="none" stroke-width="1"/>
<rect x="488.5842369213057" y="654.8" width="1.5" height="13.400000000000068" fill="#777" stroke="none" stroke-width="1"/>
<rect x="489.686864124545" y="654.8" width="1.5" height="13.400000000000068" fill="#555" stroke="none" stroke-width="1"/>
<rect x="494.55" y="654.8" width="1.5" height="13.400000000000068" fill="#555" stroke="none" stroke-width="1"/>
<rect x="497.15" y="654.8" width="1.5" height="13.400000000000068" fill="#333" stroke="none" stroke-width="1"/>
<rect x="500.6" y="654.8" width="1.0" height="13.400000000000068" fill="#777" stroke="none" stroke-width="1"/>
<rect x="503.79999999999995" y="654.8" width="1.2" height="13.400000000000068" fill="#333" stroke="none" stroke-width="1"/>
<line x1="381.6" y1="654.4" x2="511.7" y2="654.4" stroke="#9a9a9a" stroke-width="0.8"/>
<line x1="381.6" y1="611.7" x2="511.7" y2="611.7" stroke="#777" stroke-width="1.6"/>
<path d="M382.0,611.2 L382.5,605.2 L383.8,603.7 L385.0,602.3 L386.5,600.4 L388.0,599.1 L389.3,598.6 L390.7,598.5 L392.0,597.9 L393.5,598.8 L395.0,599.0 L396.2,600.2 L397.5,601.0 L398.8,601.6 L400.0,602.5 L401.2,603.3 L402.4,603.6 L403.6,604.5 L404.8,605.4 L406.0,605.6 L407.2,607.0 L408.4,607.8 L409.6,608.9 L410.8,609.4 L412.0,610.2 L413.3,611.7 L414.7,612.7 L416.0,613.5 L417.3,614.3 L418.7,615.4 L420.0,616.7 L421.2,617.5 L422.5,619.0 L423.8,619.8 L425.0,620.6 L426.2,622.0 L427.5,622.8 L428.8,624.3 L430.0,625.3 L431.2,626.0 L432.5,627.0 L433.7,628.0 L434.9,629.1 L436.2,630.1 L437.4,630.4 L438.6,631.6 L439.8,632.8 L441.1,633.5 L442.3,634.7 L443.5,635.3 L444.8,636.8 L446.0,637.5 L447.2,638.1 L448.5,639.3 L449.8,639.9 L451.0,640.6 L452.2,641.7 L453.5,642.3 L454.8,643.2 L456.0,644.5 L457.2,645.2 L458.4,645.6 L459.6,647.0 L460.8,647.3 L462.0,648.4 L463.2,649.4 L464.5,649.8 L465.8,650.2 L467.0,650.9 L468.5,649.7 L470.0,648.2 L471.2,649.1 L472.4,648.8 L473.6,649.3 L474.8,649.9 L476.0,649.9 L477.3,650.7 L478.7,650.5 L480.0,651.3 L481.2,650.8 L482.5,650.1 L483.8,649.8 L485.0,649.0 L486.3,649.5 L487.7,649.7 L489.0,649.7 L490.2,648.5 L491.5,647.5 L492.8,646.1 L494.0,644.7 L495.0,640.2 L496.2,638.8 L497.5,638.0 L498.8,637.2 L500.0,635.8 L501.3,634.0 L502.7,632.4 L504.0,631.1 L505.0,627.4 L505.8,612.0" fill="none" stroke="#4aa64f" stroke-width="0.85" stroke-linejoin="round"/>
<rect x="381.6" y="595.2" width="130.09999999999997" height="77.59999999999991" fill="none" stroke="#1a1a1a" stroke-width="1.3"/>
<text x="379.20000000000005" y="604.15" font-size="6.6" text-anchor="end" fill="#333" font-weight="normal" font-style="normal" stroke="#333" stroke-width="0.15">0.1</text>
<text x="379.20000000000005" y="614.0" font-size="6.6" text-anchor="end" fill="#333" font-weight="normal" font-style="normal" stroke="#333" stroke-width="0.15">0.0</text>
<text x="379.20000000000005" y="623.85" font-size="6.6" text-anchor="end" fill="#333" font-weight="normal" font-style="normal" stroke="#333" stroke-width="0.15">–0.1</text>
<text x="379.20000000000005" y="633.7" font-size="6.6" text-anchor="end" fill="#333" font-weight="normal" font-style="normal" stroke="#333" stroke-width="0.15">–0.2</text>
<text x="379.20000000000005" y="643.55" font-size="6.6" text-anchor="end" fill="#333" font-weight="normal" font-style="normal" stroke="#333" stroke-width="0.15">–0.3</text>
<text x="379.20000000000005" y="653.4" font-size="6.6" text-anchor="end" fill="#333" font-weight="normal" font-style="normal" stroke="#333" stroke-width="0.15">–0.4</text>
<text x="387.20000000000005" y="631.6" font-size="7.4" fill="#231f20" textLength="35.7" lengthAdjust="spacingAndGlyphs" stroke="#231f20" stroke-width="0.15">NES = –1.26</text>
<text x="387.20000000000005" y="639.4000000000001" font-size="7.4" fill="#231f20" textLength="23.5" lengthAdjust="spacingAndGlyphs" stroke="#231f20" stroke-width="0.15"><tspan font-style="italic">P</tspan> &lt; .001</text>
<path d="M389.6,679.4 L416.6,679.4" fill="none" stroke="#d0203c" stroke-width="1.3"/>
<path d="M386.20000000000005,679.4 L393.6,676.1 L391.6,679.4 L393.6,682.6999999999999 Z" fill="#d0203c" stroke="none" stroke-width="1"/>
<path d="M476.7,679.4 L503.7,679.4" fill="none" stroke="#2f2a86" stroke-width="1.3"/>
<path d="M506.9,679.4 L499.5,676.1 L501.5,679.4 L499.5,682.6999999999999 Z" fill="#2f2a86" stroke="none" stroke-width="1"/>
<text x="401.90000000000003" y="689.4" font-size="6.6" text-anchor="middle" fill="#333" font-weight="normal" font-style="normal" stroke="#333" stroke-width="0.15">Control</text>
<text x="491.4" y="689.4" font-size="6.6" text-anchor="middle" fill="#333" font-weight="normal" font-style="normal" stroke="#333" stroke-width="0.15">TLX3 OE</text>
<text x="14.6" y="512.5" font-size="9.2" text-anchor="middle" fill="#444" font-weight="normal" font-style="normal" transform="rotate(-90 14.6 512.5)" textLength="50.6" lengthAdjust="spacingAndGlyphs">TLX3 knockdown</text>
<text x="24.2" y="513.1" font-size="9.2" text-anchor="middle" fill="#444" font-weight="normal" font-style="normal" transform="rotate(-90 24.2 513.1)" textLength="47" lengthAdjust="spacingAndGlyphs">in DND-41 cells</text>
<text x="14.6" y="621.7" font-size="9.2" text-anchor="middle" fill="#444" font-weight="normal" font-style="normal" transform="rotate(-90 14.6 621.7)" textLength="61" lengthAdjust="spacingAndGlyphs">TLX3 overexpression</text>
<text x="24.4" y="621.5" font-size="9.2" text-anchor="middle" fill="#444" font-weight="normal" font-style="normal" transform="rotate(-90 24.4 621.5)" textLength="40" lengthAdjust="spacingAndGlyphs">in Jurkat cells</text>
<rect x="0.6" y="0.6" width="518.6" height="695.6" fill="none" stroke="#4a4a4a" stroke-width="1.3"/>
</svg></body></html>
